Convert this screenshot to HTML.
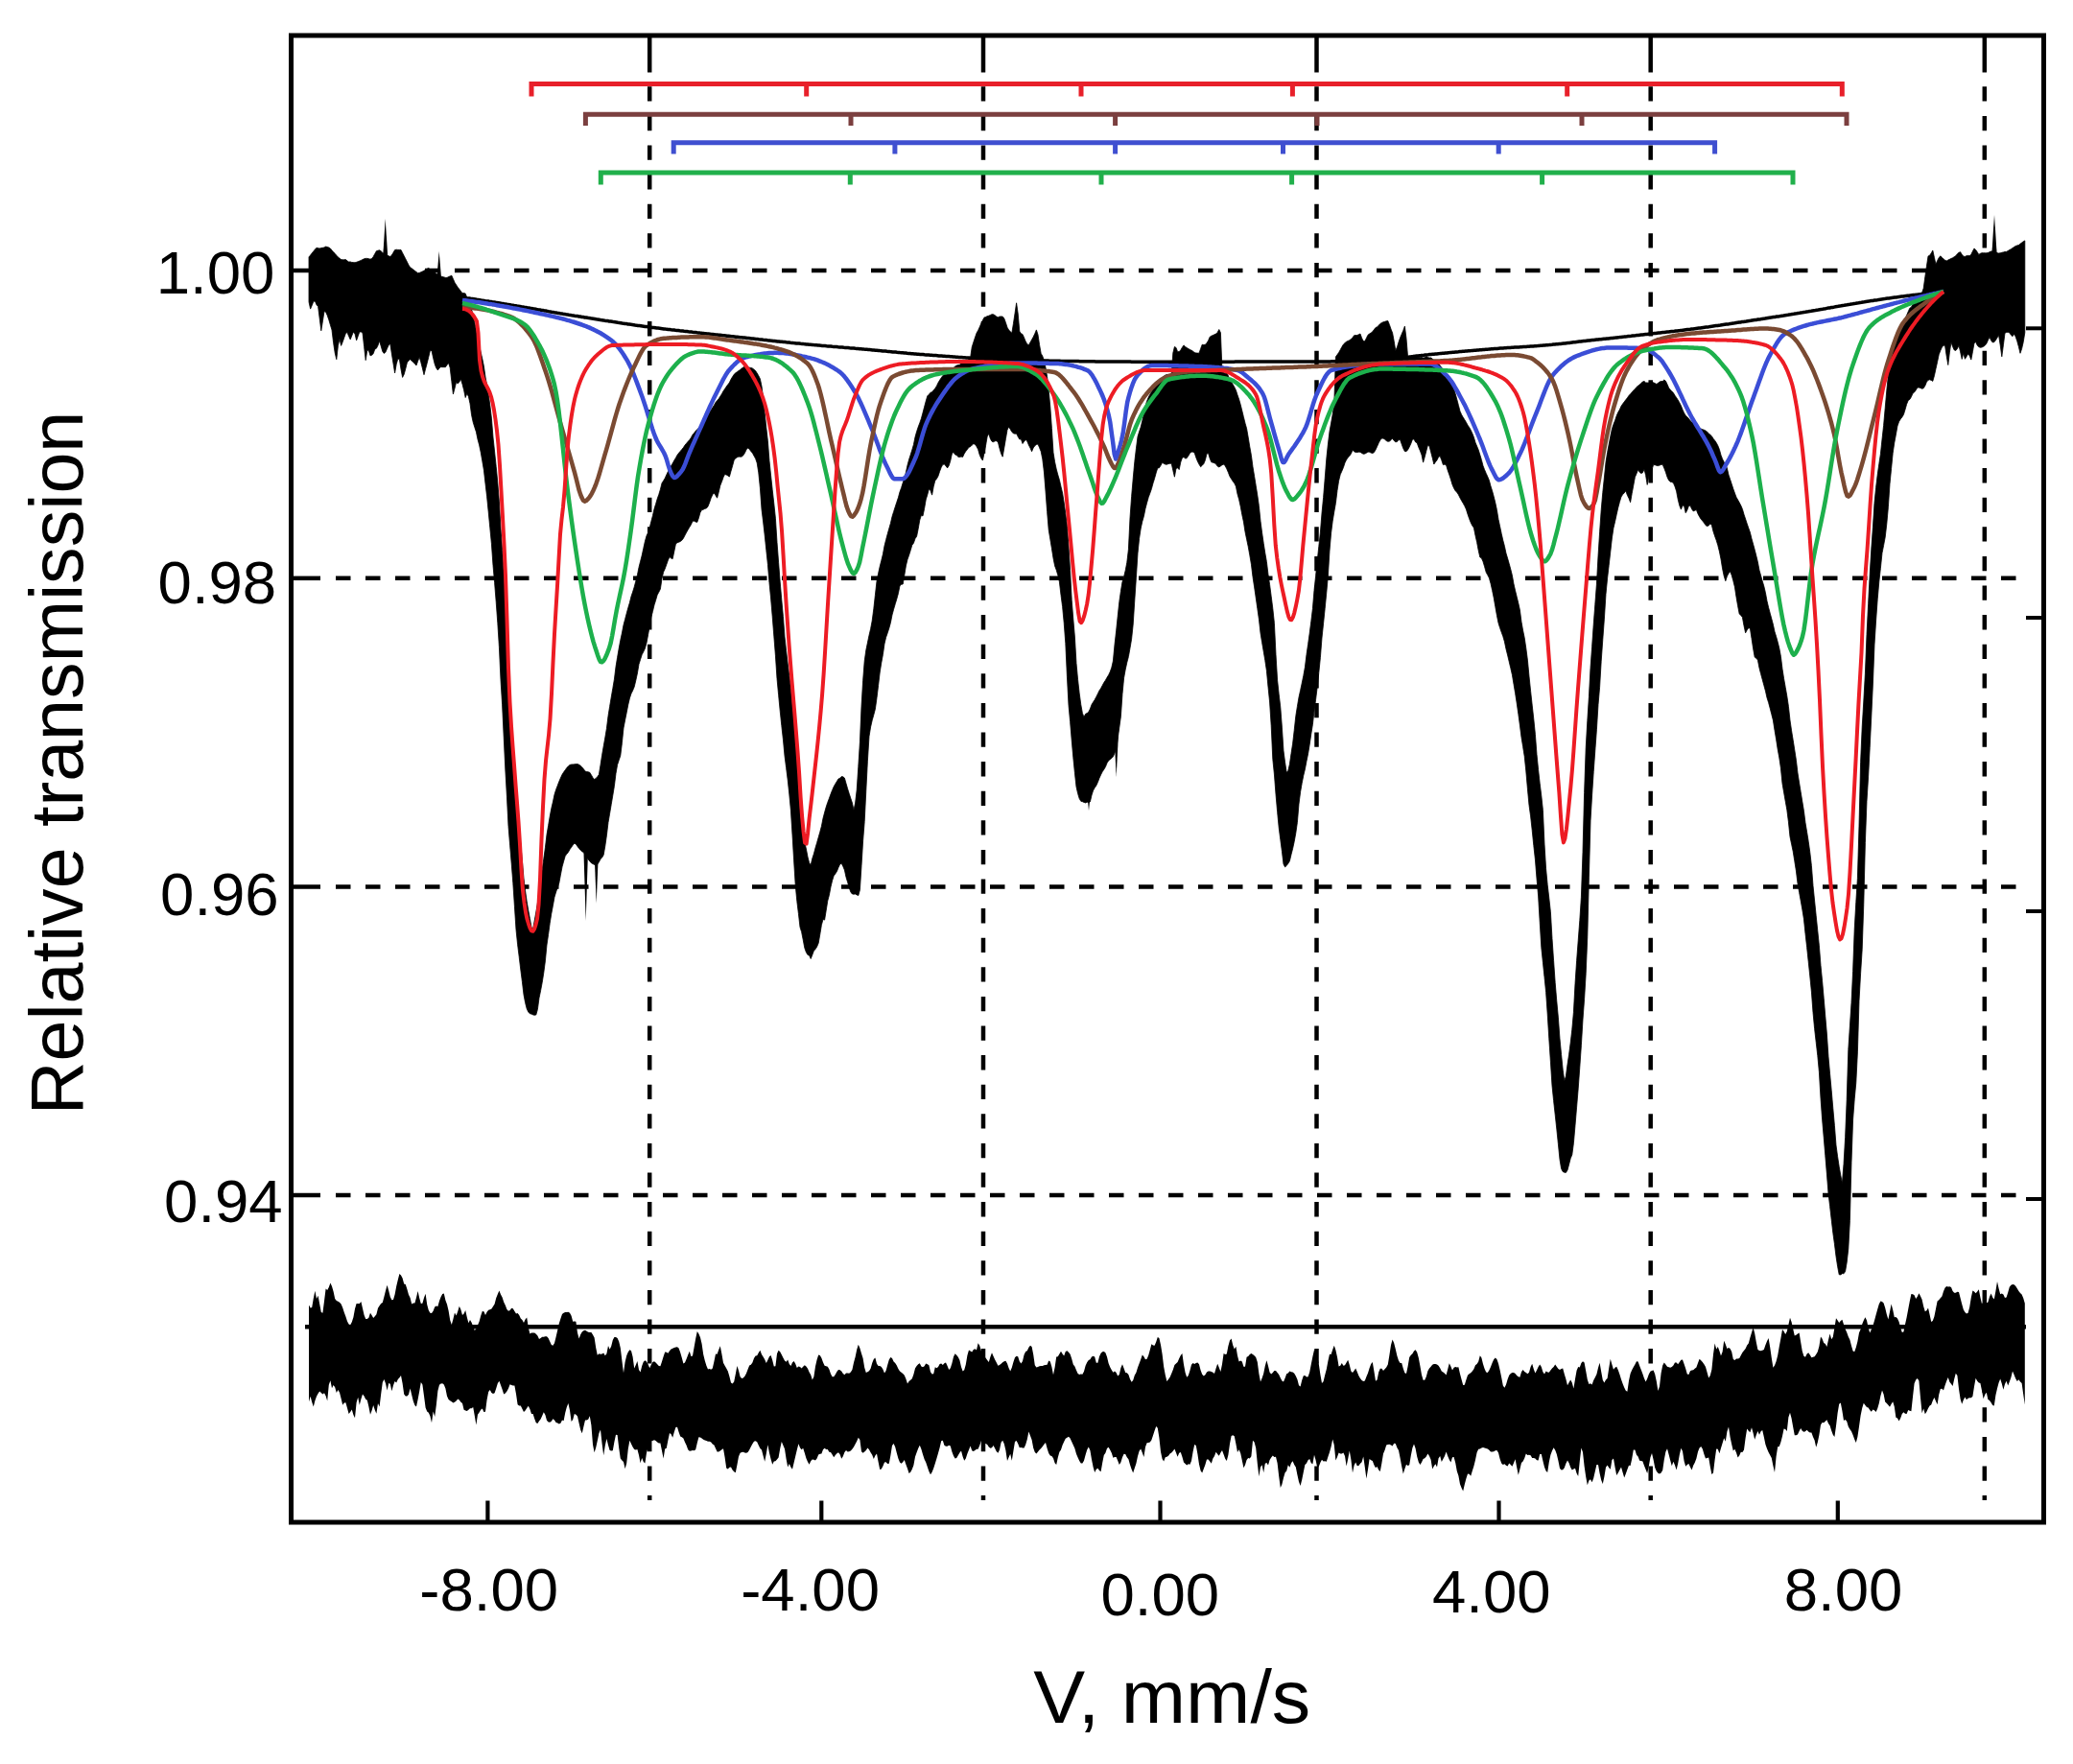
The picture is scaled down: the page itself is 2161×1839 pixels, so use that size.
<!DOCTYPE html><html><head><meta charset="utf-8"><title>Relative transmission vs V, mm/s</title><style>
html,body{margin:0;padding:0;background:#fff;}svg{display:block;}
.s4{stroke:#000;stroke-width:4.5;fill:none}
.dv{stroke:#000;stroke-width:4.5;stroke-dasharray:15.3 15.3;fill:none}
.dh{stroke:#000;stroke-width:4.6;stroke-dasharray:15.5 15.5;fill:none}
.cc{stroke-width:4.5;fill:none;stroke-linejoin:round}
.cr{stroke-width:4;fill:none;stroke-linejoin:round}
.cb{stroke-width:3.5;fill:none}
.st{stroke-width:5;fill:none}
.bd{stroke:#000;fill:none;stroke-linejoin:round;stroke-linecap:round}
text{font-family:"Liberation Sans",Arial,sans-serif;fill:#000}
</style></head><body>
<svg xmlns="http://www.w3.org/2000/svg" width="2161" height="1839" viewBox="0 0 2161 1839">
<rect width="2161" height="1839" fill="#fff"/>
<line x1="677.2" y1="37.0" x2="677.2" y2="75.5" class="s4"/>
<line x1="677.2" y1="90.3" x2="677.2" y2="1564" class="dv"/>
<line x1="1025.0" y1="37.0" x2="1025.0" y2="75.5" class="s4"/>
<line x1="1025.0" y1="90.3" x2="1025.0" y2="1564" class="dv"/>
<line x1="1372.5" y1="37.0" x2="1372.5" y2="75.5" class="s4"/>
<line x1="1372.5" y1="90.3" x2="1372.5" y2="1564" class="dv"/>
<line x1="1720.7" y1="37.0" x2="1720.7" y2="75.5" class="s4"/>
<line x1="1720.7" y1="90.3" x2="1720.7" y2="1564" class="dv"/>
<line x1="2068.8" y1="37.0" x2="2068.8" y2="75.5" class="s4"/>
<line x1="2068.8" y1="90.3" x2="2068.8" y2="1564" class="dv"/>
<line x1="303.5" y1="282.0" x2="334" y2="282.0" class="s4"/>
<line x1="350" y1="282.0" x2="2113" y2="282.0" class="dh"/>
<line x1="303.5" y1="602.8" x2="334" y2="602.8" class="s4"/>
<line x1="350" y1="602.8" x2="2113" y2="602.8" class="dh"/>
<line x1="303.5" y1="924.5" x2="334" y2="924.5" class="s4"/>
<line x1="350" y1="924.5" x2="2113" y2="924.5" class="dh"/>
<line x1="303.5" y1="1246.0" x2="334" y2="1246.0" class="s4"/>
<line x1="350" y1="1246.0" x2="2113" y2="1246.0" class="dh"/>
<path d="M322 1360.5L323.6 1363.5L325.2 1363L326.8 1353.5L328.4 1345.8L330 1354L331.6 1350.7L333.2 1359.6L334.8 1367.9L336.4 1368.7L338 1356.4L339.6 1343.4L341.2 1345.1L342.8 1342.1L344.4 1337.5L346 1340.9L347.6 1346.6L349.2 1354L350.8 1355.9L352.4 1356.7L354 1357.7L355.6 1359.4L357.2 1363.2L358.8 1368.2L360.4 1372.5L362 1377.5L363.6 1380.5L365.2 1381.3L366.8 1378.3L368.4 1373.2L370 1364.6L371.6 1359.1L373.2 1359L374.8 1359L376.4 1356.9L378 1364.1L379.6 1371L381.2 1374.9L382.8 1375.1L384.4 1373.8L386 1368.8L387.6 1371.2L389.2 1373.9L390.8 1372.3L392.4 1370.2L394 1363.8L395.6 1361.3L397.2 1359.1L398.8 1357.9L400.4 1352.1L402 1345.4L403.6 1339.7L405.2 1345.6L406.8 1351.9L408.4 1355.2L410 1355.1L411.6 1349.5L413.2 1341L414.8 1334.2L416.4 1328.1L418 1329.5L419.6 1332.5L421.2 1338.4L422.8 1338.9L424.4 1344.1L426 1349.7L427.6 1352.9L429.2 1359.5L430.8 1358.6L432.4 1358.4L434 1352.8L435.6 1345.9L437.2 1353.3L438.8 1359.1L440.4 1358.7L442 1353.1L443.6 1348.7L445.2 1360.1L446.8 1366L448.4 1368.7L450 1368.9L451.6 1366.8L453.2 1362.4L454.8 1361.4L456.4 1362L458 1356.3L459.6 1351.9L461.2 1349.1L462.8 1348.5L464.4 1355.6L466 1359.8L467.6 1366.5L469.2 1376.2L470.8 1381L472.4 1375.2L474 1368.4L475.6 1371.5L477.2 1367.2L478.8 1361.8L480.4 1365.2L482 1371.1L483.6 1369.5L485.2 1366L486.8 1373.3L488.4 1379.2L490 1376.1L491.6 1378.8L493.2 1382.7L494.8 1387L496.4 1385.2L498 1381.4L499.6 1377.8L501.2 1371.8L502.8 1366.9L504.4 1367.2L506 1370.9L507.6 1367.7L509.2 1365.8L510.8 1365.3L512.4 1364.6L514 1362L515.6 1359.6L517.2 1353.3L518.8 1349.2L520.4 1345.4L522 1349.4L523.6 1352.4L525.2 1357.5L526.8 1360.7L528.4 1364.9L530 1366.7L531.6 1366L533.2 1363.8L534.8 1364.3L536.4 1367.1L538 1369.5L539.6 1368.9L541.2 1371.1L542.8 1374.5L544.4 1376.1L546 1379.1L547.6 1375.6L549.2 1373.5L550.8 1384.1L552.4 1390.4L554 1389.5L555.6 1389.4L557.2 1389.6L558.8 1390.8L560.4 1392.4L562 1395.9L563.6 1395.1L565.2 1393.8L566.8 1393.8L568.4 1393.2L570 1393.3L571.6 1394.9L573.2 1398.6L574.8 1402L576.4 1402.7L578 1400.2L579.6 1393.7L581.2 1386.7L582.8 1379.8L584.4 1374.7L586 1370.1L587.6 1368.7L589.2 1368.1L590.8 1367.9L592.4 1367.7L594 1368.7L595.6 1371.8L597.2 1377.7L598.8 1377.6L600.4 1377.8L602 1389.4L603.6 1395.6L605.2 1391.3L606.8 1388.4L608.4 1387.2L610 1386.8L611.6 1387.7L613.2 1388.8L614.8 1389L616.4 1389L618 1391.4L619.6 1394.5L621.2 1405.1L622.8 1412.8L624.4 1411.2L626 1411.7L627.6 1411.5L629.2 1410.4L630.8 1413.2L632.4 1411.2L634 1403L635.6 1406.7L637.2 1403.6L638.8 1397L640.4 1393.9L642 1394.1L643.6 1395.1L645.2 1398.6L646.8 1405.2L648.4 1418.5L650 1431.2L651.6 1419.9L653.2 1413.3L654.8 1409.4L656.4 1407.2L658 1408.2L659.6 1414.4L661.2 1426.4L662.8 1422.9L664.4 1419L666 1427.9L667.6 1430.4L669.2 1423.9L670.8 1419.8L672.4 1418.3L674 1419.4L675.6 1422.3L677.2 1426.3L678.8 1422.8L680.4 1420L682 1419.3L683.6 1420.5L685.2 1422.3L686.8 1424L688.4 1424.2L690 1419.5L691.6 1414.2L693.2 1409.6L694.8 1409.7L696.4 1410.7L698 1408.2L699.6 1406.5L701.2 1405.8L702.8 1405.1L704.4 1404.6L706 1404.2L707.6 1405.5L709.2 1409.9L710.8 1415.6L712.4 1421.4L714 1420.5L715.6 1416.8L717.2 1412.6L718.8 1408.8L720.4 1414L722 1413.5L723.6 1404.5L725.2 1395.6L726.8 1388L728.4 1390.5L730 1394.2L731.6 1400.9L733.2 1412L734.8 1418.5L736.4 1423.8L738 1427.4L739.6 1427.1L741.2 1427.7L742.8 1426.4L744.4 1419.4L746 1411.6L747.6 1411.7L749.2 1407.3L750.8 1403.3L752.4 1411.4L754 1420.7L755.6 1423.8L757.2 1426.6L758.8 1429.6L760.4 1434.9L762 1441.4L763.6 1442.6L765.2 1440.4L766.8 1432.6L768.4 1424.1L770 1428.7L771.6 1435.3L773.2 1437L774.8 1436.5L776.4 1434.8L778 1431.8L779.6 1427.6L781.2 1423.4L782.8 1422.7L784.4 1420.4L786 1416L787.6 1413.4L789.2 1413.3L790.8 1410.2L792.4 1407.8L794 1412L795.6 1414.6L797.2 1417.2L798.8 1421.1L800.4 1417.8L802 1414.2L803.6 1413.1L805.2 1418.1L806.8 1424.4L808.4 1424.3L810 1411.2L811.6 1407.8L813.2 1409.3L814.8 1412.2L816.4 1415.4L818 1418.4L819.6 1419.7L821.2 1417.4L822.8 1422L824.4 1423.9L826 1420.4L827.6 1418.9L829.2 1421.7L830.8 1426L832.4 1424.5L834 1425.1L835.6 1426.4L837.2 1424.7L838.8 1423.3L840.4 1424.4L842 1426.8L843.6 1430.5L845.2 1433.3L846.8 1438.4L848.4 1435.2L850 1424.5L851.6 1417.5L853.2 1412.6L854.8 1412.9L856.4 1415.7L858 1420.2L859.6 1423.8L861.2 1424.2L862.8 1424.7L864.4 1427.4L866 1432.2L867.6 1435.3L869.2 1435.3L870.8 1433.1L872.4 1430.1L874 1428L875.6 1428.3L877.2 1429.4L878.8 1431.9L880.4 1433.2L882 1431.5L883.6 1431.4L885.2 1431.7L886.8 1430.4L888.4 1428.1L890 1420.5L891.6 1414.7L893.2 1407.1L894.8 1401.7L896.4 1405.6L898 1411.1L899.6 1416L901.2 1425.8L902.8 1431.1L904.4 1430.3L906 1429.2L907.6 1426.7L909.2 1421L910.8 1417L912.4 1415.6L914 1421.7L915.6 1424L917.2 1423.9L918.8 1425.1L920.4 1427.6L922 1431.5L923.6 1429.1L925.2 1423.1L926.8 1417.6L928.4 1415.1L930 1416.1L931.6 1419.5L933.2 1420.9L934.8 1423.4L936.4 1426.9L938 1429.4L939.6 1430.7L941.2 1432L942.8 1433.7L944.4 1437.6L946 1442.5L947.6 1440L949.2 1438.7L950.8 1437.3L952.4 1432.7L954 1426.6L955.6 1423.9L957.2 1422.2L958.8 1421.3L960.4 1424.6L962 1425.3L963.6 1424.2L965.2 1421.4L966.8 1422.3L968.4 1423.3L970 1430.3L971.6 1432.6L973.2 1432.2L974.8 1425.2L976.4 1426.3L978 1425L979.6 1421.9L981.2 1421.4L982.8 1423.1L984.4 1421.3L986 1420.4L987.6 1423.9L989.2 1427.9L990.8 1426.2L992.4 1421.2L994 1414.4L995.6 1411.3L997.2 1412.7L998.8 1414.7L1000.4 1418L1002 1425.1L1003.6 1429.4L1005.2 1428.3L1006.8 1422.5L1008.4 1413.1L1010 1407.5L1011.6 1408.4L1013.2 1409.6L1014.8 1406.9L1016.4 1406.2L1018 1407.5L1019.6 1400.3L1021.2 1402.8L1022.8 1408L1024.4 1413.9L1026 1414L1027.6 1415.7L1029.2 1417.9L1030.8 1420.1L1032.4 1414.4L1034 1410.3L1035.6 1413.9L1037.2 1417.6L1038.8 1420.5L1040.4 1423.8L1042 1422.9L1043.6 1421.7L1045.2 1420.3L1046.8 1419.2L1048.4 1418.8L1050 1421.5L1051.6 1426.2L1053.2 1429.4L1054.8 1425.8L1056.4 1420L1058 1415.3L1059.6 1413.7L1061.2 1414.3L1062.8 1419.3L1064.4 1421.4L1066 1418.9L1067.6 1412.3L1069.2 1409L1070.8 1408.2L1072.4 1404.7L1074 1402.8L1075.6 1403.9L1077.2 1412.1L1078.8 1423.3L1080.4 1425.5L1082 1425L1083.6 1424.2L1085.2 1424L1086.8 1423.9L1088.4 1423.3L1090 1423.1L1091.6 1422.8L1093.2 1418.5L1094.8 1419.6L1096.4 1424.9L1098 1433.3L1099.6 1425.5L1101.2 1414.4L1102.8 1414.3L1104.4 1411.6L1106 1408.7L1107.6 1411.4L1109.2 1413.4L1110.8 1409.1L1112.4 1408.2L1114 1409.8L1115.6 1411.7L1117.2 1416.5L1118.8 1422.5L1120.4 1424.6L1122 1428.5L1123.6 1432L1125.2 1433.1L1126.8 1432.4L1128.4 1432.7L1130 1429.8L1131.6 1423.8L1133.2 1420.2L1134.8 1417.9L1136.4 1417.2L1138 1414.6L1139.6 1413.7L1141.2 1414.5L1142.8 1420.7L1144.4 1420.7L1146 1414.3L1147.6 1410.8L1149.2 1409.3L1150.8 1409.1L1152.4 1410.2L1154 1414.4L1155.6 1421.3L1157.2 1425.2L1158.8 1428.2L1160.4 1430.8L1162 1429.6L1163.6 1430.9L1165.2 1434.5L1166.8 1433L1168.4 1425.9L1170 1422.2L1171.6 1426.6L1173.2 1430.9L1174.8 1431.2L1176.4 1433L1178 1437.8L1179.6 1440.7L1181.2 1439L1182.8 1433.8L1184.4 1431L1186 1425.8L1187.6 1421.6L1189.2 1417.3L1190.8 1412.5L1192.4 1414.3L1194 1417.2L1195.6 1416.7L1197.2 1413.1L1198.8 1407.3L1200.4 1401.3L1202 1402.5L1203.6 1402.8L1205.2 1399.1L1206.8 1394.1L1208.4 1395.1L1210 1402.1L1211.6 1411.7L1213.2 1425L1214.8 1433.4L1216.4 1440L1218 1438.1L1219.6 1435.7L1221.2 1431.9L1222.8 1428L1224.4 1422.9L1226 1421.4L1227.6 1419.9L1229.2 1416.2L1230.8 1413L1232.4 1411L1234 1422.6L1235.6 1431.1L1237.2 1435.7L1238.8 1434.1L1240.4 1428.9L1242 1422.7L1243.6 1420.9L1245.2 1422L1246.8 1421.1L1248.4 1420.4L1250 1422.3L1251.6 1428.4L1253.2 1432.8L1254.8 1434.5L1256.4 1433.2L1258 1430.4L1259.6 1429.5L1261.2 1429.4L1262.8 1430L1264.4 1430.8L1266 1432.1L1267.6 1426.6L1269.2 1421.7L1270.8 1425.8L1272.4 1429.9L1274 1422.3L1275.6 1411L1277.2 1412L1278.8 1411.6L1280.4 1403.3L1282 1397.5L1283.6 1395.5L1285.2 1402.3L1286.8 1406.4L1288.4 1403.7L1290 1413.2L1291.6 1419.6L1293.2 1418.6L1294.8 1419.4L1296.4 1424.7L1298 1424.7L1299.6 1414.7L1301.2 1414L1302.8 1411.9L1304.4 1411.1L1306 1411.9L1307.6 1413.3L1309.2 1415L1310.8 1420.1L1312.4 1431.9L1314 1440.6L1315.6 1436.7L1317.2 1431.9L1318.8 1424L1320.4 1418.2L1322 1424L1323.6 1430.8L1325.2 1432.5L1326.8 1431.1L1328.4 1429L1330 1428.9L1331.6 1431L1333.2 1433L1334.8 1436.4L1336.4 1439.4L1338 1440.4L1339.6 1436.7L1341.2 1432.2L1342.8 1431.6L1344.4 1429.5L1346 1430.3L1347.6 1430.5L1349.2 1431.7L1350.8 1434.4L1352.4 1438.1L1354 1444.3L1355.6 1445.6L1357.2 1439.1L1358.8 1434.3L1360.4 1434.1L1362 1435.5L1363.6 1435.3L1365.2 1430.6L1366.8 1422.3L1368.4 1414.3L1370 1407.2L1371.6 1408.7L1373.2 1413.2L1374.8 1422.1L1376.4 1432.9L1378 1441.9L1379.6 1440.2L1381.2 1433.6L1382.8 1427.6L1384.4 1419L1386 1411.8L1387.6 1412L1389.2 1407.1L1390.8 1402.8L1392.4 1407.6L1394 1414.7L1395.6 1424.4L1397.2 1423.8L1398.8 1420.9L1400.4 1423.7L1402 1423.2L1403.6 1420.6L1405.2 1417.8L1406.8 1422.9L1408.4 1429.4L1410 1431.1L1411.6 1428.9L1413.2 1426.5L1414.8 1430.3L1416.4 1434.2L1418 1437.1L1419.6 1439L1421.2 1440.1L1422.8 1439.6L1424.4 1435.3L1426 1431.4L1427.6 1426.3L1429.2 1422L1430.8 1419.9L1432.4 1429.5L1434 1439.8L1435.6 1438.5L1437.2 1430.6L1438.8 1426.8L1440.4 1426.7L1442 1429L1443.6 1427.3L1445.2 1425.6L1446.8 1422.5L1448.4 1412.7L1450 1402.3L1451.6 1396.6L1453.2 1400.2L1454.8 1406.4L1456.4 1413.5L1458 1418.6L1459.6 1421.1L1461.2 1421.1L1462.8 1426.7L1464.4 1431.3L1466 1432L1467.6 1424.4L1469.2 1414.9L1470.8 1412.8L1472.4 1411.3L1474 1408.4L1475.6 1407.2L1477.2 1409.7L1478.8 1415.4L1480.4 1424.1L1482 1433.2L1483.6 1438.7L1485.2 1438.7L1486.8 1435.3L1488.4 1429.3L1490 1426.4L1491.6 1424.7L1493.2 1422.8L1494.8 1421.9L1496.4 1421.9L1498 1422.6L1499.6 1423.8L1501.2 1426.3L1502.8 1429.5L1504.4 1430.4L1506 1431.8L1507.6 1433.5L1509.2 1427.5L1510.8 1421.2L1512.4 1424.4L1514 1428.5L1515.6 1425.8L1517.2 1425L1518.8 1425.6L1520.4 1425.3L1522 1432.2L1523.6 1438.2L1525.2 1444L1526.8 1443.8L1528.4 1438.6L1530 1433.8L1531.6 1432.2L1533.2 1431.2L1534.8 1429.4L1536.4 1427.2L1538 1423.3L1539.6 1422L1541.2 1419.5L1542.8 1413.3L1544.4 1415.5L1546 1422L1547.6 1427L1549.2 1430.4L1550.8 1430.9L1552.4 1428.5L1554 1425L1555.6 1420.8L1557.2 1417.2L1558.8 1415.5L1560.4 1416.9L1562 1421.6L1563.6 1428.3L1565.2 1436.1L1566.8 1444.6L1568.4 1446.7L1570 1443.4L1571.6 1437.9L1573.2 1433.7L1574.8 1432L1576.4 1430.9L1578 1431L1579.6 1432.1L1581.2 1434L1582.8 1435.3L1584.4 1435.7L1586 1430.3L1587.6 1428L1589.2 1430L1590.8 1431L1592.4 1432.2L1594 1430.7L1595.6 1425L1597.2 1421.7L1598.8 1427.2L1600.4 1431.4L1602 1428.4L1603.6 1425L1605.2 1422.6L1606.8 1425L1608.4 1430.2L1610 1432.5L1611.6 1429.6L1613.2 1430.5L1614.8 1430.8L1616.4 1428.4L1618 1426.4L1619.6 1425.1L1621.2 1422.5L1622.8 1424.7L1624.4 1427L1626 1428L1627.6 1427L1629.2 1426.6L1630.8 1432.5L1632.4 1437.8L1634 1444.3L1635.6 1441.2L1637.2 1438.6L1638.8 1441.4L1640.4 1447.5L1642 1437.7L1643.6 1428.8L1645.2 1425.1L1646.8 1425.5L1648.4 1421.1L1650 1419.3L1651.6 1420.5L1653.2 1429.2L1654.8 1438.3L1656.4 1443L1658 1442.2L1659.6 1443.4L1661.2 1438.9L1662.8 1436L1664.4 1432.8L1666 1426.1L1667.6 1420.8L1669.2 1430L1670.8 1438.8L1672.4 1441.4L1674 1438.5L1675.6 1436.9L1677.2 1426.4L1678.8 1416.7L1680.4 1422.6L1682 1427.8L1683.6 1425.8L1685.2 1424.8L1686.8 1428.3L1688.4 1432.8L1690 1437.9L1691.6 1442.5L1693.2 1446.5L1694.8 1449.8L1696.4 1450.8L1698 1439.4L1699.6 1432.1L1701.2 1428.3L1702.8 1425.2L1704.4 1422.5L1706 1419.2L1707.6 1419.4L1709.2 1424.1L1710.8 1428L1712.4 1432.2L1714 1437L1715.6 1440.6L1717.2 1437.2L1718.8 1432.7L1720.4 1429.8L1722 1429L1723.6 1428.5L1725.2 1432.4L1726.8 1440.1L1728.4 1449.9L1730 1445.3L1731.6 1431.4L1733.2 1423.4L1734.8 1420.4L1736.4 1422.6L1738 1424.7L1739.6 1425.3L1741.2 1425.7L1742.8 1425L1744.4 1423.6L1746 1420.6L1747.6 1420.5L1749.2 1422.2L1750.8 1419.9L1752.4 1417.8L1754 1417.5L1755.6 1422.1L1757.2 1426.8L1758.8 1432.6L1760.4 1433L1762 1429.3L1763.6 1428.5L1765.2 1428.3L1766.8 1426.8L1768.4 1425.4L1770 1421.1L1771.6 1416.8L1773.2 1418.2L1774.8 1420.1L1776.4 1422.2L1778 1424.9L1779.6 1430.7L1781.2 1436.4L1782.8 1434L1784.4 1427.7L1786 1411.9L1787.6 1400.6L1789.2 1406.6L1790.8 1404L1792.4 1408.3L1794 1413.4L1795.6 1409.2L1797.2 1397.7L1798.8 1401.6L1800.4 1405.9L1802 1405L1803.6 1406L1805.2 1409.3L1806.8 1416.9L1808.4 1418.1L1810 1416.5L1811.6 1416.5L1813.2 1416.1L1814.8 1413L1816.4 1410.1L1818 1408.1L1819.6 1406.1L1821.2 1402.4L1822.8 1400.4L1824.4 1394.5L1826 1389.2L1827.6 1384.1L1829.2 1390L1830.8 1399.2L1832.4 1407L1834 1408L1835.6 1408.3L1837.2 1407.7L1838.8 1406.9L1840.4 1402.2L1842 1398.3L1843.6 1394.9L1845.2 1404.5L1846.8 1415.8L1848.4 1425.7L1850 1423.5L1851.6 1419.2L1853.2 1413L1854.8 1403.8L1856.4 1395.2L1858 1386.1L1859.6 1388.1L1861.2 1390.9L1862.8 1388.1L1864.4 1381.1L1866 1373.8L1867.6 1378.3L1869.2 1385.5L1870.8 1392.5L1872.4 1391.8L1874 1390.6L1875.6 1389.5L1877.2 1399.2L1878.8 1408.8L1880.4 1413.8L1882 1414.7L1883.6 1411.5L1885.2 1410.3L1886.8 1412.4L1888.4 1415.2L1890 1414.7L1891.6 1414.3L1893.2 1412L1894.8 1409.3L1896.4 1403.4L1898 1393.4L1899.6 1395.8L1901.2 1400.1L1902.8 1400.9L1904.4 1404L1906 1396.7L1907.6 1390.4L1909.2 1396.2L1910.8 1393.7L1912.4 1384.3L1914 1374.2L1915.6 1376.4L1917.2 1379L1918.8 1377.1L1920.4 1375.8L1922 1380.8L1923.6 1385.4L1925.2 1389.1L1926.8 1393.4L1928.4 1396.7L1930 1403.1L1931.6 1408.4L1933.2 1409.2L1934.8 1404.8L1936.4 1398.4L1938 1389.6L1939.6 1385.7L1941.2 1380.4L1942.8 1376.4L1944.4 1373.3L1946 1376.5L1947.6 1384L1949.2 1389.6L1950.8 1386L1952.4 1382.1L1954 1376.8L1955.6 1370.8L1957.2 1364.9L1958.8 1359.5L1960.4 1356.6L1962 1356.9L1963.6 1358.5L1965.2 1363.6L1966.8 1370.2L1968.4 1375.5L1970 1367.7L1971.6 1359.6L1973.2 1365.6L1974.8 1373.3L1976.4 1373L1978 1374.6L1979.6 1378.1L1981.2 1384L1982.8 1388.9L1984.4 1388.6L1986 1380.7L1987.6 1373.4L1989.2 1365L1990.8 1356.6L1992.4 1349.1L1994 1349.2L1995.6 1350.3L1997.2 1354.1L1998.8 1351.8L2000.4 1348.3L2002 1351.3L2003.6 1354.8L2005.2 1362L2006.8 1367.3L2008.4 1366.3L2010 1363.4L2011.6 1370.5L2013.2 1378.1L2014.8 1376.9L2016.4 1372.5L2018 1364.4L2019.6 1356.6L2021.2 1355.2L2022.8 1353.3L2024.4 1351.5L2026 1346.3L2027.6 1342.5L2029.2 1341.1L2030.8 1341.5L2032.4 1341.2L2034 1341.9L2035.6 1346L2037.2 1347.7L2038.8 1347.7L2040.4 1346.8L2042 1346.9L2043.6 1353.3L2045.2 1359.6L2046.8 1365.2L2048.4 1367.9L2050 1369.5L2051.6 1368.7L2053.2 1362.7L2054.8 1352.8L2056.4 1345.4L2058 1346.6L2059.6 1348.2L2061.2 1346.6L2062.8 1344.3L2064.4 1352.6L2066 1359.2L2067.6 1357.2L2069.2 1356.6L2070.8 1358.4L2072.4 1357.5L2074 1352L2075.6 1348.4L2077.2 1352.6L2078.8 1354.4L2080.4 1346L2082 1336.1L2083.6 1343.3L2085.2 1349.2L2086.8 1348.4L2088.4 1349.6L2090 1352.9L2091.6 1352.6L2093.2 1347.6L2094.8 1341.8L2096.4 1339.8L2098 1339L2099.6 1339.3L2101.2 1340.8L2102.8 1343.2L2104.4 1346L2106 1348L2107.6 1349.4L2109.2 1353.2L2110.8 1358.8L2110.8 1464.5L2109.2 1453.4L2107.6 1442L2106 1440.4L2104.4 1438.3L2102.8 1440L2101.2 1437.2L2099.6 1433.3L2098 1429.6L2096.4 1436L2094.8 1440.6L2093.2 1444.5L2091.6 1439.7L2090 1442.9L2088.4 1448.7L2086.8 1442.5L2085.2 1437.5L2083.6 1441.4L2082 1447.4L2080.4 1454.5L2078.8 1465.6L2077.2 1464.9L2075.6 1462.3L2074 1460L2072.4 1459L2070.8 1451.7L2069.2 1453.9L2067.6 1458.2L2066 1449.8L2064.4 1442.1L2062.8 1441.5L2061.2 1439.7L2059.6 1436.8L2058 1445.4L2056.4 1455.7L2054.8 1457.2L2053.2 1457.3L2051.6 1457.8L2050 1459.2L2048.4 1456.4L2046.8 1459.6L2045.2 1463.7L2043.6 1458.4L2042 1448.1L2040.4 1434.1L2038.8 1431.8L2037.2 1437.7L2035.6 1445L2034 1442.7L2032.4 1440.7L2030.8 1436.1L2029.2 1439.8L2027.6 1444.3L2026 1449.6L2024.4 1447.7L2022.8 1448.1L2021.2 1454.1L2019.6 1464.2L2018 1460.7L2016.4 1456.9L2014.8 1460.3L2013.2 1464.4L2011.6 1465.4L2010 1468.2L2008.4 1471.8L2006.8 1474.3L2005.2 1468.6L2003.6 1473.2L2002 1457.2L2000.4 1439.6L1998.8 1437L1997.2 1438.6L1995.6 1442.2L1994 1456.3L1992.4 1471.2L1990.8 1470.8L1989.2 1469.9L1987.6 1474.1L1986 1473.8L1984.4 1472.2L1982.8 1474.1L1981.2 1478.5L1979.6 1481.5L1978 1478.4L1976.4 1477.7L1974.8 1466.5L1973.2 1461.2L1971.6 1463.8L1970 1466.7L1968.4 1464.8L1966.8 1463L1965.2 1461.5L1963.6 1453.4L1962 1449.6L1960.4 1455.2L1958.8 1462.9L1957.2 1468.6L1955.6 1471.9L1954 1470.2L1952.4 1469.6L1950.8 1471.7L1949.2 1470L1947.6 1467.4L1946 1466.9L1944.4 1464.9L1942.8 1462.8L1941.2 1468.1L1939.6 1475.8L1938 1487.2L1936.4 1497.9L1934.8 1504.1L1933.2 1500.4L1931.6 1495.9L1930 1492.3L1928.4 1490L1926.8 1487.3L1925.2 1481.8L1923.6 1480L1922 1481L1920.4 1470.7L1918.8 1462.6L1917.2 1463.7L1915.6 1473.3L1914 1486.7L1912.4 1498.1L1910.8 1495.8L1909.2 1491.6L1907.6 1486.2L1906 1484L1904.4 1480.2L1902.8 1481.8L1901.2 1483.3L1899.6 1483L1898 1485.5L1896.4 1496L1894.8 1503.8L1893.2 1508.8L1891.6 1501.5L1890 1498L1888.4 1493.5L1886.8 1493.4L1885.2 1492.4L1883.6 1490.7L1882 1492.3L1880.4 1492.7L1878.8 1491.7L1877.2 1489L1875.6 1492.1L1874 1495.4L1872.4 1496.3L1870.8 1496.3L1869.2 1487.7L1867.6 1478.8L1866 1472.8L1864.4 1477.5L1862.8 1492L1861.2 1490.1L1859.6 1489.6L1858 1497.3L1856.4 1503.6L1854.8 1508L1853.2 1508.3L1851.6 1518.5L1850 1535L1848.4 1528L1846.8 1520.1L1845.2 1517.1L1843.6 1514L1842 1510.3L1840.4 1505.8L1838.8 1498.1L1837.2 1491L1835.6 1492.3L1834 1495.7L1832.4 1492.1L1830.8 1496.1L1829.2 1500.7L1827.6 1494.1L1826 1488.3L1824.4 1493.3L1822.8 1491.7L1821.2 1489.5L1819.6 1499.3L1818 1511.5L1816.4 1514L1814.8 1513.7L1813.2 1517.6L1811.6 1519.6L1810 1514.6L1808.4 1510.7L1806.8 1512.5L1805.2 1505.7L1803.6 1498.2L1802 1487.5L1800.4 1492.4L1798.8 1502.8L1797.2 1499.3L1795.6 1504.4L1794 1509.8L1792.4 1515.2L1790.8 1510.8L1789.2 1510.5L1787.6 1521.9L1786 1535.4L1784.4 1536.9L1782.8 1529.1L1781.2 1519.6L1779.6 1520L1778 1520.5L1776.4 1515.9L1774.8 1510.6L1773.2 1508.1L1771.6 1509.6L1770 1513.6L1768.4 1520.5L1766.8 1524.8L1765.2 1527.7L1763.6 1532.6L1762 1529.5L1760.4 1526L1758.8 1527.1L1757.2 1528.8L1755.6 1523.2L1754 1513L1752.4 1509.8L1750.8 1516.8L1749.2 1525.8L1747.6 1532.5L1746 1527.6L1744.4 1523.8L1742.8 1528.2L1741.2 1522.6L1739.6 1516.2L1738 1510.3L1736.4 1513.6L1734.8 1521.8L1733.2 1532.7L1731.6 1535.6L1730 1536.6L1728.4 1535.8L1726.8 1533.7L1725.2 1530.1L1723.6 1521.7L1722 1515.1L1720.4 1519.5L1718.8 1528.8L1717.2 1535.9L1715.6 1532.1L1714 1527.9L1712.4 1523.6L1710.8 1523L1709.2 1522.7L1707.6 1518.4L1706 1516.8L1704.4 1511.4L1702.8 1511.5L1701.2 1520.9L1699.6 1528.1L1698 1527.8L1696.4 1531.9L1694.8 1536.6L1693.2 1540.6L1691.6 1534.9L1690 1529.5L1688.4 1532.5L1686.8 1535.6L1685.2 1537.9L1683.6 1529.8L1682 1520.6L1680.4 1522L1678.8 1531.8L1677.2 1530L1675.6 1527.4L1674 1529.7L1672.4 1539.6L1670.8 1546.9L1669.2 1542.9L1667.6 1536L1666 1527L1664.4 1527L1662.8 1534.1L1661.2 1541L1659.6 1545.3L1658 1542.3L1656.4 1543.4L1654.8 1548.2L1653.2 1539.6L1651.6 1528.5L1650 1514L1648.4 1509.6L1646.8 1523.2L1645.2 1539L1643.6 1535.9L1642 1530.7L1640.4 1531.5L1638.8 1532.5L1637.2 1529.7L1635.6 1525.3L1634 1522.5L1632.4 1525.8L1630.8 1530.3L1629.2 1532.2L1627.6 1532.5L1626 1530.8L1624.4 1522.7L1622.8 1516L1621.2 1511.7L1619.6 1509.2L1618 1512.4L1616.4 1516.8L1614.8 1524.2L1613.2 1535.1L1611.6 1533.6L1610 1529.5L1608.4 1523.1L1606.8 1515.9L1605.2 1516.1L1603.6 1522.5L1602 1522.3L1600.4 1520.4L1598.8 1520.1L1597.2 1519.9L1595.6 1517.2L1594 1516.8L1592.4 1517L1590.8 1515.6L1589.2 1520.2L1587.6 1523.6L1586 1525L1584.4 1531.8L1582.8 1537.7L1581.2 1529.7L1579.6 1521.2L1578 1525.2L1576.4 1528.7L1574.8 1527.1L1573.2 1525.5L1571.6 1528.5L1570 1527.8L1568.4 1526.2L1566.8 1527.1L1565.2 1525.5L1563.6 1521L1562 1514.4L1560.4 1512.1L1558.8 1512.2L1557.2 1513.3L1555.6 1513.4L1554 1513.4L1552.4 1511.7L1550.8 1510.4L1549.2 1510.1L1547.6 1509.5L1546 1509L1544.4 1509.6L1542.8 1510.6L1541.2 1510.8L1539.6 1514.2L1538 1522L1536.4 1528.6L1534.8 1533.4L1533.2 1538.7L1531.6 1536.8L1530 1536.6L1528.4 1541.6L1526.8 1547.6L1525.2 1554.4L1523.6 1551.3L1522 1547.2L1520.4 1538.4L1518.8 1533.8L1517.2 1524.9L1515.6 1519L1514 1519.3L1512.4 1524.4L1510.8 1521.8L1509.2 1518.1L1507.6 1513.6L1506 1518L1504.4 1520.9L1502.8 1523.9L1501.2 1518L1499.6 1520.3L1498 1529.4L1496.4 1526.3L1494.8 1528.6L1493.2 1531.6L1491.6 1521.8L1490 1518.1L1488.4 1515.6L1486.8 1518.6L1485.2 1520.3L1483.6 1521.1L1482 1524.4L1480.4 1527L1478.8 1524.2L1477.2 1518.6L1475.6 1510.1L1474 1505.5L1472.4 1509.4L1470.8 1517.4L1469.2 1527.3L1467.6 1528L1466 1526.8L1464.4 1531.3L1462.8 1536.6L1461.2 1528.7L1459.6 1520.1L1458 1511.9L1456.4 1509.3L1454.8 1505.1L1453.2 1504.7L1451.6 1507.6L1450 1506.6L1448.4 1505.7L1446.8 1505.9L1445.2 1506.6L1443.6 1511.8L1442 1515.6L1440.4 1525.2L1438.8 1533.9L1437.2 1532.4L1435.6 1528.9L1434 1530.2L1432.4 1527.3L1430.8 1522.9L1429.2 1522.3L1427.6 1521.1L1426 1532.1L1424.4 1541.5L1422.8 1529.4L1421.2 1518.6L1419.6 1524.2L1418 1525.8L1416.4 1528.1L1414.8 1528.2L1413.2 1524.5L1411.6 1527.8L1410 1535.6L1408.4 1521.7L1406.8 1512.5L1405.2 1521.1L1403.6 1528.5L1402 1518.1L1400.4 1514.4L1398.8 1515.5L1397.2 1515.6L1395.6 1514.5L1394 1519L1392.4 1522.4L1390.8 1506.6L1389.2 1500.6L1387.6 1508.2L1386 1514L1384.4 1518.8L1382.8 1523.8L1381.2 1523.2L1379.6 1523.5L1378 1521.7L1376.4 1524.8L1374.8 1528.9L1373.2 1530L1371.6 1522.3L1370 1516.7L1368.4 1526.3L1366.8 1525.2L1365.2 1520.9L1363.6 1522.3L1362 1525.6L1360.4 1527L1358.8 1534.7L1357.2 1542.8L1355.6 1548.9L1354 1544.8L1352.4 1537.6L1350.8 1529.6L1349.2 1527.1L1347.6 1523.2L1346 1525.2L1344.4 1529.7L1342.8 1527.2L1341.2 1533.5L1339.6 1535.3L1338 1540.8L1336.4 1547.6L1334.8 1551.1L1333.2 1539.1L1331.6 1525.3L1330 1518.8L1328.4 1519.1L1326.8 1517.4L1325.2 1519.4L1323.6 1521.9L1322 1527.5L1320.4 1525L1318.8 1525.8L1317.2 1535.2L1315.6 1527.3L1314 1529.4L1312.4 1539.3L1310.8 1525.7L1309.2 1509.5L1307.6 1503.5L1306 1501.8L1304.4 1518.2L1302.8 1520.4L1301.2 1520.1L1299.6 1522L1298 1527.2L1296.4 1530.3L1294.8 1522.4L1293.2 1515L1291.6 1511.3L1290 1514L1288.4 1505.2L1286.8 1497.2L1285.2 1496.2L1283.6 1497L1282 1505.3L1280.4 1516.7L1278.8 1522.9L1277.2 1520.8L1275.6 1516.3L1274 1512L1272.4 1514.5L1270.8 1517.8L1269.2 1516.1L1267.6 1513.8L1266 1518.1L1264.4 1520.6L1262.8 1525.7L1261.2 1523.5L1259.6 1521.5L1258 1521.4L1256.4 1527L1254.8 1531.3L1253.2 1535.6L1251.6 1533.2L1250 1526.6L1248.4 1515.7L1246.8 1507.1L1245.2 1505.9L1243.6 1513.4L1242 1523.1L1240.4 1526.7L1238.8 1526.3L1237.2 1527.5L1235.6 1526L1234 1524.4L1232.4 1518.7L1230.8 1514.1L1229.2 1514.7L1227.6 1518.8L1226 1514.4L1224.4 1510.6L1222.8 1512.8L1221.2 1514.4L1219.6 1515.5L1218 1517.7L1216.4 1518.7L1214.8 1519.2L1213.2 1523.6L1211.6 1521L1210 1513.5L1208.4 1498.7L1206.8 1488.7L1205.2 1487.1L1203.6 1491.5L1202 1496.4L1200.4 1501.3L1198.8 1503.6L1197.2 1504L1195.6 1504.2L1194 1508.4L1192.4 1519.1L1190.8 1514.4L1189.2 1510.4L1187.6 1512.7L1186 1518.2L1184.4 1525.7L1182.8 1530.5L1181.2 1535.6L1179.6 1531.7L1178 1527L1176.4 1521.3L1174.8 1519.2L1173.2 1516L1171.6 1515.7L1170 1519.3L1168.4 1524.4L1166.8 1526.9L1165.2 1522.8L1163.6 1518.9L1162 1519L1160.4 1519.7L1158.8 1514.8L1157.2 1511.4L1155.6 1508.8L1154 1510.1L1152.4 1514.8L1150.8 1516.9L1149.2 1524.9L1147.6 1534.2L1146 1533.1L1144.4 1530.8L1142.8 1531.7L1141.2 1534.9L1139.6 1529.4L1138 1521.4L1136.4 1511.9L1134.8 1508.4L1133.2 1511.6L1131.6 1516.8L1130 1522.8L1128.4 1525.4L1126.8 1525.5L1125.2 1523.1L1123.6 1519.6L1122 1515.8L1120.4 1509.9L1118.8 1506.5L1117.2 1502.9L1115.6 1499.6L1114 1497.7L1112.4 1498.7L1110.8 1499.8L1109.2 1503L1107.6 1506.5L1106 1511.5L1104.4 1513.8L1102.8 1519.5L1101.2 1527L1099.6 1525.2L1098 1520.3L1096.4 1518.1L1094.8 1517.4L1093.2 1515.1L1091.6 1509.9L1090 1504.1L1088.4 1505.7L1086.8 1508.1L1085.2 1510L1083.6 1511.5L1082 1513.5L1080.4 1515.4L1078.8 1514L1077.2 1509.4L1075.6 1500.9L1074 1496.7L1072.4 1492.5L1070.8 1500.6L1069.2 1506L1067.6 1509.4L1066 1509.5L1064.4 1509L1062.8 1509.3L1061.2 1504.9L1059.6 1501.9L1058 1503.1L1056.4 1512.7L1054.8 1522.7L1053.2 1515.7L1051.6 1519.2L1050 1523.1L1048.4 1511.9L1046.8 1505.3L1045.2 1501.8L1043.6 1503.7L1042 1511.4L1040.4 1514.7L1038.8 1513.3L1037.2 1510.1L1035.6 1507L1034 1509.3L1032.4 1509.8L1030.8 1508.4L1029.2 1506.1L1027.6 1505L1026 1505.2L1024.4 1501.7L1022.8 1502.3L1021.2 1506.9L1019.6 1510.8L1018 1510.7L1016.4 1512.1L1014.8 1513.1L1013.2 1512.2L1011.6 1507.6L1010 1511.5L1008.4 1515.4L1006.8 1520.6L1005.2 1522.8L1003.6 1518.4L1002 1512.6L1000.4 1514.4L998.8 1517.2L997.2 1520.1L995.6 1520.5L994 1517.8L992.4 1513.4L990.8 1507.5L989.2 1506.7L987.6 1507.7L986 1507.8L984.4 1506.7L982.8 1501.8L981.2 1502.2L979.6 1509.2L978 1514.9L976.4 1520.6L974.8 1525.7L973.2 1530.8L971.6 1534.8L970 1537.3L968.4 1534.1L966.8 1529.3L965.2 1524.6L963.6 1521.2L962 1516.2L960.4 1510.7L958.8 1506.8L957.2 1510.1L955.6 1514.2L954 1518.7L952.4 1527.5L950.8 1531.7L949.2 1534.8L947.6 1536L946 1531.1L944.4 1526.8L942.8 1522L941.2 1524.3L939.6 1525.8L938 1524.5L936.4 1520.6L934.8 1514.8L933.2 1508.5L931.6 1505L930 1507L928.4 1517.2L926.8 1525.7L925.2 1526.1L923.6 1524.3L922 1524.6L920.4 1528.4L918.8 1531.6L917.2 1532L915.6 1523.9L914 1515.6L912.4 1517.5L910.8 1520.9L909.2 1516.8L907.6 1514.3L906 1511.3L904.4 1509.5L902.8 1511.9L901.2 1513.5L899.6 1514.8L898 1513.3L896.4 1500.9L894.8 1498.8L893.2 1502.5L891.6 1505.4L890 1508.4L888.4 1510.7L886.8 1512.6L885.2 1513.3L883.6 1513.6L882 1512.1L880.4 1514L878.8 1518.2L877.2 1520.8L875.6 1516.3L874 1514.3L872.4 1515.2L870.8 1517L869.2 1519.3L867.6 1516.5L866 1514L864.4 1513.7L862.8 1511L861.2 1511.1L859.6 1509.8L858 1511.3L856.4 1515.6L854.8 1515.8L853.2 1516.6L851.6 1520.5L850 1522.6L848.4 1521.7L846.8 1521.6L845.2 1523.3L843.6 1526.7L842 1524L840.4 1520.3L838.8 1514.8L837.2 1509.7L835.6 1511.2L834 1509.2L832.4 1505.2L830.8 1511.5L829.2 1518.3L827.6 1525L826 1531.7L824.4 1529.5L822.8 1526.1L821.2 1529.4L819.6 1521L818 1510.5L816.4 1506.8L814.8 1503.1L813.2 1510.3L811.6 1519.6L810 1521.6L808.4 1523.2L806.8 1523.5L805.2 1526.7L803.6 1521.3L802 1514.7L800.4 1506.3L798.8 1515.5L797.2 1523.7L795.6 1517.7L794 1511.4L792.4 1510L790.8 1506.8L789.2 1503.3L787.6 1502.3L786 1502.7L784.4 1505.3L782.8 1508.2L781.2 1511.4L779.6 1514.1L778 1514.7L776.4 1514.6L774.8 1513.8L773.2 1514.1L771.6 1514.8L770 1518.6L768.4 1527.3L766.8 1535.3L765.2 1534.3L763.6 1532.4L762 1529.6L760.4 1529.8L758.8 1531.5L757.2 1530.6L755.6 1519.3L754 1510.2L752.4 1511.3L750.8 1512.6L749.2 1513.6L747.6 1513.4L746 1509.9L744.4 1506.5L742.8 1505.4L741.2 1503.4L739.6 1502.8L738 1502.7L736.4 1502L734.8 1501.6L733.2 1500.7L731.6 1499.5L730 1498.4L728.4 1498.2L726.8 1504.3L725.2 1511.2L723.6 1512.3L722 1511.9L720.4 1512.4L718.8 1512.7L717.2 1511.2L715.6 1506.8L714 1503.5L712.4 1499.6L710.8 1498.3L709.2 1497.5L707.6 1493.1L706 1487.7L704.4 1488L702.8 1493.1L701.2 1498.8L699.6 1495.3L698 1493.9L696.4 1501.6L694.8 1509.8L693.2 1510.4L691.6 1520.4L690 1512.4L688.4 1504.6L686.8 1504.6L685.2 1503.5L683.6 1502.1L682 1501.3L680.4 1502L678.8 1502.3L677.2 1502.7L675.6 1509.1L674 1514.8L672.4 1525.5L670.8 1523.9L669.2 1519.9L667.6 1525.3L666 1516.9L664.4 1511L662.8 1511.5L661.2 1510.9L659.6 1508.6L658 1505.2L656.4 1501.7L654.8 1510.4L653.2 1525.4L651.6 1531.2L650 1524.1L648.4 1522.5L646.8 1520.4L645.2 1509.4L643.6 1496L642 1495.8L640.4 1503.3L638.8 1512.3L637.2 1512.5L635.6 1511.9L634 1506.6L632.4 1500L630.8 1506.9L629.2 1517.2L627.6 1505L626 1490.4L624.4 1494.2L622.8 1502.1L621.2 1509.3L619.6 1514.2L618 1505.9L616.4 1485.8L614.8 1476.3L613.2 1479.8L611.6 1480.4L610 1480.5L608.4 1487.3L606.8 1494.2L605.2 1490.8L603.6 1483.8L602 1476.5L600.4 1474.7L598.8 1474.1L597.2 1480L595.6 1482L594 1470.3L592.4 1463L590.8 1467L589.2 1473L587.6 1481.3L586 1480.6L584.4 1483.8L582.8 1484.4L581.2 1483.6L579.6 1483L578 1480.4L576.4 1479.3L574.8 1481.7L573.2 1482.7L571.6 1482.6L570 1480.8L568.4 1475.1L566.8 1472.3L565.2 1475.9L563.6 1479.6L562 1481.5L560.4 1484.1L558.8 1483.3L557.2 1479L555.6 1474L554 1474.1L552.4 1468.9L550.8 1465.7L549.2 1468L547.6 1470.6L546 1471.9L544.4 1468.8L542.8 1465.4L541.2 1465.6L539.6 1464.3L538 1453.2L536.4 1444.6L534.8 1444.6L533.2 1443.9L531.6 1443.3L530 1447.5L528.4 1450.5L526.8 1452.6L525.2 1453.6L523.6 1448.4L522 1444L520.4 1439.7L518.8 1442.3L517.2 1447.4L515.6 1452.2L514 1453.1L512.4 1452L510.8 1449L509.2 1451.1L507.6 1459.3L506 1471.7L504.4 1472L502.8 1468.6L501.2 1469.8L499.6 1472.4L498 1474.8L496.4 1485.6L494.8 1476.1L493.2 1466.9L491.6 1468.3L490 1468.3L488.4 1469.8L486.8 1470.9L485.2 1470.6L483.6 1469.7L482 1463L480.4 1461.8L478.8 1459.6L477.2 1458.6L475.6 1460.5L474 1461.7L472.4 1462.4L470.8 1461.2L469.2 1460.3L467.6 1458.9L466 1455.4L464.4 1447.4L462.8 1443.4L461.2 1442.2L459.6 1442.6L458 1443.7L456.4 1450.1L454.8 1465.1L453.2 1477L451.6 1471.6L450 1483.3L448.4 1476.3L446.8 1472.8L445.2 1471.5L443.6 1467.4L442 1455.3L440.4 1443.4L438.8 1441L437.2 1450.5L435.6 1458.9L434 1466.5L432.4 1465.1L430.8 1460.8L429.2 1454.3L427.6 1447.6L426 1453.8L424.4 1455.6L422.8 1455.5L421.2 1453.5L419.6 1442.3L418 1433.9L416.4 1436.2L414.8 1437.9L413.2 1441.6L411.6 1440.1L410 1444.3L408.4 1450.3L406.8 1442.7L405.2 1441.9L403.6 1449.4L402 1442.3L400.4 1437.9L398.8 1441.3L397.2 1453.2L395.6 1466.5L394 1463.1L392.4 1473.8L390.8 1470.1L389.2 1465.1L387.6 1470.5L386 1474.7L384.4 1466.5L382.8 1459.8L381.2 1458.8L379.6 1455.4L378 1453.6L376.4 1458.6L374.8 1464.7L373.2 1456.7L371.6 1462.2L370 1478.3L368.4 1475L366.8 1469.6L365.2 1472L363.6 1474L362 1468.1L360.4 1462.3L358.8 1462.6L357.2 1464.7L355.6 1458.1L354 1451.7L352.4 1449.1L350.8 1452.1L349.2 1446.2L347.6 1444.1L346 1447.2L344.4 1439.3L342.8 1443.7L341.2 1460.5L339.6 1455.3L338 1452.3L336.4 1453.5L334.8 1451.9L333.2 1450.4L331.6 1452.8L330 1455.7L328.4 1460.2L326.8 1466.6L325.2 1461.8L323.6 1455.8L322 1461.6Z" fill="#000"/>
<line x1="318" y1="1383.2" x2="2112" y2="1383.2" stroke="#000" stroke-width="4.5"/>
<path d="M322 267.9L323.6 266L325.2 263.9L326.8 261.9L328.4 260L330 258.3L331.6 258.7L333.2 259L334.8 258.6L336.4 258.3L338 258L339.6 257.1L341.2 257.5L342.8 258L344.4 259L346 261.1L347.6 262.7L349.2 264.4L350.8 266.3L352.4 268.1L354 269.3L355.6 270.6L357.2 270.8L358.8 270.8L360.4 270.6L362 272L363.6 273L365.2 272.9L366.8 273.5L368.4 273.6L370 273.8L371.6 273.3L373.2 272.7L374.8 272.1L376.4 271.4L378 270.6L379.6 269.8L381.2 269.4L382.8 269.4L384.4 269.7L386 270.2L387.6 269.5L389.2 267.5L390.8 264.5L392.4 261.7L394 261.2L395.6 260.8L397.2 261.8L398.8 263.4L400.4 264.6L402 266L403.6 266.4L405.2 266.8L406.8 267.5L408.4 266L410 263.3L411.6 260.6L413.2 260.2L414.8 260.4L416.4 260.4L418 260.5L419.6 263.7L421.2 266.8L422.8 269.9L424.4 273.1L426 276.3L427.6 278.7L429.2 279.8L430.8 281.1L432.4 282.3L434 283.5L435.6 284.7L437.2 284.4L438.8 283.7L440.4 283L442 282.2L443.6 281.2L445.2 280.2L446.8 279.5L448.4 280.8L450 282L451.6 282.7L453.2 283.8L454.8 285.2L456.4 286.4L458 287.5L459.6 288.2L461.2 288.4L462.8 288.9L464.4 289.4L466 289.4L467.6 288.6L469.2 287.9L470.8 287.2L472.4 290.8L474 294.5L475.6 297L477.2 299.4L478.8 301.4L480.4 303.6L482 305.7L483.6 305.6L485.2 306.1L486.8 310.3L488.4 314.7L490 321.2L491.6 322.8L493.2 328.6L494.8 336.2L496.4 344.2L498 353.8L499.6 360.6L501.2 367L502.8 374.1L504.4 381.8L506 393L507.6 401.5L509.2 411.1L510.8 422.3L512.4 436.1L514 456L515.6 471L517.2 486.4L518.8 503.1L520.4 522.9L522 551.3L523.6 573.6L525.2 597.6L526.8 622.4L528.4 650.5L530 697.4L531.6 727.7L533.2 752.9L534.8 775.1L536.4 794.7L538 820.5L539.6 842.1L541.2 862.9L542.8 881.2L544.4 897.2L546 915.9L547.6 928.7L549.2 939.9L550.8 949.3L552.4 957.7L554 966.5L555.6 968.7L557.2 959.7L558.8 951L560.4 941.5L562 928.1L563.6 917.5L565.2 906.4L566.8 895.2L568.4 883.8L570 870.1L571.6 860.7L573.2 851.2L574.8 842.7L576.4 836L578 828.3L579.6 823.2L581.2 819.1L582.8 814.8L584.4 811L586 807.5L587.6 805L589.2 802.8L590.8 800.5L592.4 798.8L594 797.4L595.6 797L597.2 796.9L598.8 796.8L600.4 796.6L602 796.6L603.6 797.2L605.2 798.3L606.8 799.9L608.4 801.7L610 804.1L611.6 804.5L613.2 804.8L614.8 805.3L616.4 807.9L618 810.7L619.6 812.6L621.2 811.4L622.8 809.7L624.4 807.4L626 797.4L627.6 787.2L629.2 777.9L630.8 769L632.4 759.4L634 746.4L635.6 736.6L637.2 727L638.8 717.7L640.4 708.2L642 695.1L643.6 685.3L645.2 676L646.8 667.3L648.4 660L650 651.5L651.6 645.6L653.2 639.4L654.8 633.6L656.4 628.3L658 621.7L659.6 617.1L661.2 611.9L662.8 605.8L664.4 599.6L666 591.4L667.6 585.2L669.2 579L670.8 571.5L672.4 564.3L674 558.6L675.6 555.3L677.2 550.2L678.8 543.7L680.4 537.7L682 530.5L683.6 525.4L685.2 520L686.8 515.5L688.4 510.2L690 503.7L691.6 501.2L693.2 498.6L694.8 494.9L696.4 491.6L698 487.8L699.6 485.6L701.2 483.1L702.8 480.1L704.4 477.4L706 474.4L707.6 472.3L709.2 470.4L710.8 468.5L712.4 466.6L714 464.1L715.6 462.2L717.2 460.3L718.8 458.6L720.4 456.3L722 453.2L723.6 451.4L725.2 449.2L726.8 447.7L728.4 446.2L730 443.9L731.6 442.2L733.2 440L734.8 437.9L736.4 435.7L738 432.7L739.6 430.2L741.2 427.6L742.8 424.9L744.4 422.4L746 419.5L747.6 417.6L749.2 415.8L750.8 413.2L752.4 410.8L754 407.8L755.6 405.4L757.2 403.1L758.8 400.9L760.4 398.8L762 395.4L763.6 392.8L765.2 390.3L766.8 388.8L768.4 387.7L770 386.5L771.6 385.4L773.2 384.1L774.8 382.9L776.4 382.2L778 382.5L779.6 382.8L781.2 383.2L782.8 383.4L784.4 383.9L786 385.2L787.6 386.6L789.2 389L790.8 391.8L792.4 395L794 402.6L795.6 414.7L797.2 430.3L798.8 445.7L800.4 459.8L802 480.5L803.6 495.9L805.2 510.7L806.8 525L808.4 540.2L810 565.3L811.6 586.3L813.2 606.8L814.8 625.2L816.4 642.5L818 663.9L819.6 678.5L821.2 691.9L822.8 704.7L824.4 717.5L826 734.8L827.6 747.6L829.2 763.5L830.8 782.8L832.4 812.3L834 844.3L835.6 859.7L837.2 869.8L838.8 878L840.4 885L842 893.3L843.6 899.6L845.2 901.8L846.8 894.9L848.4 890.1L850 883.9L851.6 878.5L853.2 872.9L854.8 867.3L856.4 861.3L858 853.1L859.6 847L861.2 841.3L862.8 836.4L864.4 832.3L866 827.8L867.6 823.7L869.2 820.1L870.8 817.2L872.4 814.6L874 812L875.6 811.3L877.2 809.6L878.8 809.8L880.4 811.1L882 816.7L883.6 822.3L885.2 827.3L886.8 832.2L888.4 837L890 844.5L891.6 837.1L893.2 823.4L894.8 799.3L896.4 773.8L898 736.8L899.6 709.8L901.2 689.2L902.8 677.8L904.4 670.1L906 662.3L907.6 655.6L909.2 647.1L910.8 634.8L912.4 620.3L914 605.9L915.6 597.8L917.2 590.6L918.8 584.3L920.4 577.8L922 569.1L923.6 562.7L925.2 556.7L926.8 551L928.4 545.5L930 538.5L931.6 533.4L933.2 528.4L934.8 523.5L936.4 518.8L938 512.8L939.6 508.5L941.2 503.3L942.8 498.1L944.4 492.3L946 484.9L947.6 479L949.2 474.1L950.8 469L952.4 463.5L954 455.5L955.6 449.9L957.2 445.1L958.8 440.9L960.4 436.3L962 430.3L963.6 424.2L965.2 418.2L966.8 412.8L968.4 411.2L970 409.2L971.6 408.7L973.2 406.8L974.8 404.9L976.4 402.4L978 399L979.6 396.3L981.2 393.9L982.8 391.7L984.4 389.9L986 387.8L987.6 386.6L989.2 385.8L990.8 385.2L992.4 384.9L994 383.5L995.6 382L997.2 381L998.8 380.5L1000.4 380.2L1002 378.6L1003.6 377.7L1005.2 377.1L1006.8 376.5L1008.4 375.7L1010 374.3L1011.6 373.1L1013.2 361.9L1014.8 356.8L1016.4 352L1018 347.3L1019.6 344.4L1021.2 341L1022.8 337.2L1024.4 333.9L1026 331L1027.6 330.5L1029.2 329.6L1030.8 329.2L1032.4 328.4L1034 327.7L1035.6 327.8L1037.2 328.7L1038.8 330.1L1040.4 330.8L1042 330L1043.6 329.9L1045.2 330L1046.8 332L1048.4 336.3L1050 341.3L1051.6 344L1053.2 345.6L1054.8 347.3L1056.4 337.5L1058 326.8L1059.6 315.8L1061.2 327L1062.8 345.3L1064.4 347.8L1066 348.5L1067.6 352.1L1069.2 356L1070.8 358.7L1072.4 359.7L1074 356.9L1075.6 354.1L1077.2 351.2L1078.8 347.8L1080.4 343.9L1082 348.9L1083.6 359.5L1085.2 368.5L1086.8 371.3L1088.4 375.8L1090 383.2L1091.6 392.7L1093.2 407L1094.8 424L1096.4 446.6L1098 471.8L1099.6 481.6L1101.2 489L1102.8 495L1104.4 500.3L1106 507.3L1107.6 514L1109.2 524L1110.8 535.4L1112.4 548.2L1114 570L1115.6 594.6L1117.2 625.6L1118.8 645.4L1120.4 664L1122 691.5L1123.6 708.7L1125.2 722.9L1126.8 734.7L1128.4 743.5L1130 747.5L1131.6 744.3L1133.2 743.5L1134.8 742.2L1136.4 739L1138 734.6L1139.6 731.9L1141.2 729.5L1142.8 726.4L1144.4 723.3L1146 719.9L1147.6 717.6L1149.2 714.6L1150.8 711.6L1152.4 709.2L1154 706.3L1155.6 703.8L1157.2 700.4L1158.8 696L1160.4 689L1162 672L1163.6 657.9L1165.2 642.5L1166.8 627.4L1168.4 616.3L1170 606.6L1171.6 601.2L1173.2 594.7L1174.8 586.3L1176.4 572.8L1178 539.9L1179.6 517.7L1181.2 499L1182.8 481.4L1184.4 467.8L1186 455.2L1187.6 450L1189.2 445.2L1190.8 438.6L1192.4 431.8L1194 423.4L1195.6 418.2L1197.2 414.2L1198.8 411.2L1200.4 408.4L1202 405.4L1203.6 404.2L1205.2 401.9L1206.8 399.6L1208.4 397.5L1210 395.3L1211.6 393.7L1213.2 392.2L1214.8 391.1L1216.4 390.6L1218 390.3L1219.6 390.7L1221.2 390.5L1222.8 368.1L1224.4 361.5L1226 362.4L1227.6 366.7L1229.2 366.6L1230.8 364.9L1232.4 362.2L1234 359.9L1235.6 361.4L1237.2 362.6L1238.8 363.5L1240.4 364.4L1242 365.2L1243.6 366.2L1245.2 367.5L1246.8 368L1248.4 368.1L1250 368.2L1251.6 363.6L1253.2 359.2L1254.8 359.5L1256.4 359.3L1258 357.6L1259.6 355.1L1261.2 351.2L1262.8 350.2L1264.4 349.5L1266 348.8L1267.6 348.1L1269.2 346.5L1270.8 343.5L1272.4 346.8L1274 386.2L1275.6 388L1277.2 389.5L1278.8 388.5L1280.4 391.8L1282 396.2L1283.6 398.3L1285.2 400.7L1286.8 403.6L1288.4 406.8L1290 411.7L1291.6 416.3L1293.2 421.8L1294.8 428.2L1296.4 434.7L1298 441.2L1299.6 446.8L1301.2 456L1302.8 465.8L1304.4 474.6L1306 486.7L1307.6 496.3L1309.2 506.2L1310.8 516.2L1312.4 527.5L1314 543.2L1315.6 555.3L1317.2 566.3L1318.8 576.5L1320.4 585.7L1322 598.9L1323.6 609.5L1325.2 621.7L1326.8 634.3L1328.4 649.4L1330 682.2L1331.6 709.1L1333.2 723.7L1334.8 737.2L1336.4 758.1L1338 782.8L1339.6 794.8L1341.2 805.3L1342.8 803.5L1344.4 796.7L1346 785.6L1347.6 775.2L1349.2 761.4L1350.8 746.5L1352.4 736.4L1354 726.9L1355.6 719.7L1357.2 712.2L1358.8 704.4L1360.4 695.6L1362 682.4L1363.6 671.6L1365.2 660.1L1366.8 647.7L1368.4 634.5L1370 615.3L1371.6 600.3L1373.2 584.8L1374.8 569.7L1376.4 555L1378 534.9L1379.6 518.5L1381.2 498.7L1382.8 478.2L1384.4 463.1L1386 449.7L1387.6 441.1L1389.2 431.9L1390.8 421L1392.4 372.1L1394 369.8L1395.6 367.6L1397.2 364.7L1398.8 361.7L1400.4 359.1L1402 357.5L1403.6 356.2L1405.2 355.4L1406.8 354.7L1408.4 353.5L1410 351.9L1411.6 349.7L1413.2 349.5L1414.8 349.5L1416.4 348.7L1418 348L1419.6 352.4L1421.2 355.6L1422.8 355.7L1424.4 352.5L1426 349.2L1427.6 348L1429.2 347L1430.8 345.8L1432.4 343.6L1434 341.5L1435.6 340.9L1437.2 339.2L1438.8 337.5L1440.4 336.4L1442 335.8L1443.6 335.3L1445.2 334.8L1446.8 334.5L1448.4 338.4L1450 343.1L1451.6 347.1L1453.2 355.5L1454.8 365.5L1456.4 361.9L1458 356.7L1459.6 352.1L1461.2 348.3L1462.8 344.5L1464.4 340.1L1466 353L1467.6 372.4L1469.2 371.8L1470.8 371.1L1472.4 370.6L1474 370.3L1475.6 371.1L1477.2 371.9L1478.8 372.5L1480.4 372.4L1482 372.5L1483.6 373L1485.2 372.8L1486.8 371.6L1488.4 372.4L1490 373.1L1491.6 372.9L1493.2 374.1L1494.8 375.5L1496.4 376.3L1498 377.6L1499.6 379.1L1501.2 381.1L1502.8 383.3L1504.4 385.4L1506 388.3L1507.6 390.8L1509.2 393.5L1510.8 396.5L1512.4 398.8L1514 402.5L1515.6 405.4L1517.2 410.5L1518.8 416.4L1520.4 422.5L1522 428.7L1523.6 432.3L1525.2 435.1L1526.8 437.6L1528.4 440.2L1530 443.2L1531.6 445.5L1533.2 448.3L1534.8 451.8L1536.4 455.8L1538 461.3L1539.6 465.1L1541.2 469L1542.8 474.1L1544.4 479.4L1546 485.6L1547.6 489.7L1549.2 493.4L1550.8 497L1552.4 500.8L1554 506.8L1555.6 511.8L1557.2 517.6L1558.8 524.1L1560.4 531.5L1562 541.4L1563.6 548.7L1565.2 556.3L1566.8 563.3L1568.4 569.3L1570 576.8L1571.6 582.1L1573.2 587.6L1574.8 593.5L1576.4 599.8L1578 608.8L1579.6 615.8L1581.2 622.2L1582.8 628.8L1584.4 635.9L1586 648.3L1587.6 657.2L1589.2 664.9L1590.8 675.7L1592.4 688.1L1594 705.1L1595.6 720.4L1597.2 735.1L1598.8 749.5L1600.4 765.3L1602 786.5L1603.6 802.4L1605.2 816.7L1606.8 829.5L1608.4 844.5L1610 880.1L1611.6 905.8L1613.2 922.5L1614.8 936.3L1616.4 950.8L1618 978.5L1619.6 1001.7L1621.2 1024.6L1622.8 1043.8L1624.4 1060.9L1626 1082.9L1627.6 1099.5L1629.2 1115.2L1630.8 1126.8L1632.4 1121.9L1634 1109.8L1635.6 1099.2L1637.2 1087.1L1638.8 1073.2L1640.4 1055.3L1642 1025.7L1643.6 1001.7L1645.2 980.7L1646.8 959.6L1648.4 935.1L1650 888.2L1651.6 826.5L1653.2 779.7L1654.8 751.5L1656.4 726.6L1658 696.4L1659.6 674.3L1661.2 651.3L1662.8 630.2L1664.4 609.2L1666 579.9L1667.6 554.8L1669.2 531.6L1670.8 513.3L1672.4 498L1674 481.8L1675.6 471.8L1677.2 463.2L1678.8 454.8L1680.4 447.2L1682 442.3L1683.6 438.3L1685.2 433.4L1686.8 429.8L1688.4 427.1L1690 423.4L1691.6 421.1L1693.2 418.9L1694.8 416.8L1696.4 414.8L1698 412.4L1699.6 410.7L1701.2 408.9L1702.8 407L1704.4 405.4L1706 403.5L1707.6 402.2L1709.2 401.1L1710.8 399.4L1712.4 398.1L1714 397.4L1715.6 398.9L1717.2 399L1718.8 399L1720.4 398.6L1722 398.5L1723.6 398.8L1725.2 399.6L1726.8 400.4L1728.4 399.4L1730 398.1L1731.6 397.5L1733.2 397.5L1734.8 396L1736.4 397.2L1738 400.6L1739.6 404.3L1741.2 406.3L1742.8 407.9L1744.4 409.6L1746 412.3L1747.6 414.5L1749.2 417L1750.8 419.8L1752.4 422.9L1754 427.1L1755.6 430.5L1757.2 433.2L1758.8 434.6L1760.4 436.3L1762 438.6L1763.6 440L1765.2 441.2L1766.8 442.6L1768.4 443.9L1770 445.4L1771.6 446.4L1773.2 447L1774.8 447.7L1776.4 448.2L1778 449L1779.6 450.2L1781.2 451.7L1782.8 453.3L1784.4 454.7L1786 457.3L1787.6 459.2L1789.2 461.6L1790.8 464.6L1792.4 468.6L1794 474.4L1795.6 478.6L1797.2 481.7L1798.8 484.5L1800.4 488.1L1802 495.1L1803.6 499.8L1805.2 504.6L1806.8 509.6L1808.4 514L1810 518.3L1811.6 521.1L1813.2 523.9L1814.8 527L1816.4 530.7L1818 536.3L1819.6 541.1L1821.2 545.9L1822.8 550.6L1824.4 555.1L1826 561.6L1827.6 567.2L1829.2 573.1L1830.8 579.3L1832.4 585.9L1834 594.4L1835.6 600.1L1837.2 605.7L1838.8 611.1L1840.4 617.8L1842 626.5L1843.6 633.3L1845.2 639.2L1846.8 645.1L1848.4 651.1L1850 658.5L1851.6 663.6L1853.2 669.3L1854.8 675.8L1856.4 684.2L1858 697.3L1859.6 707.5L1861.2 716.4L1862.8 725.6L1864.4 736.3L1866 750.9L1867.6 761.8L1869.2 771.6L1870.8 781.9L1872.4 792.3L1874 805.9L1875.6 816L1877.2 825.7L1878.8 835.6L1880.4 845.2L1882 857.8L1883.6 867.3L1885.2 877.2L1886.8 888.6L1888.4 902.5L1890 923.3L1891.6 939.1L1893.2 954.8L1894.8 970.4L1896.4 985.9L1898 1006.4L1899.6 1022.6L1901.2 1040.5L1902.8 1059.4L1904.4 1078L1906 1101.8L1907.6 1119.6L1909.2 1136.8L1910.8 1155.4L1912.4 1173.3L1914 1193.9L1915.6 1205.7L1917.2 1216.2L1918.8 1225.3L1920.4 1233.4L1922 1213.6L1923.6 1185.7L1925.2 1146.5L1926.8 1094.4L1928.4 1069.9L1930 1045.5L1931.6 1012.5L1933.2 969.1L1934.8 940.5L1936.4 915.5L1938 861.1L1939.6 794.4L1941.2 758L1942.8 731L1944.4 702.1L1946 661.6L1947.6 629.8L1949.2 598.7L1950.8 572.1L1952.4 549.8L1954 524.3L1955.6 508.3L1957.2 495.1L1958.8 483.7L1960.4 473.2L1962 458L1963.6 443.5L1965.2 425.5L1966.8 407.1L1968.4 391.1L1970 376.5L1971.6 368.8L1973.2 362.2L1974.8 356.3L1976.4 351.5L1978 346.2L1979.6 342.6L1981.2 339.8L1982.8 337.3L1984.4 335.2L1986 332.3L1987.6 328.7L1989.2 324.9L1990.8 321.3L1992.4 320.2L1994 317.6L1995.6 314.6L1997.2 311L1998.8 309.9L2000.4 309.2L2002 307L2003.6 305.3L2005.2 300.5L2006.8 288.8L2008.4 277.8L2010 267.1L2011.6 266.3L2013.2 263.9L2014.8 261.1L2016.4 268.3L2018 275.6L2019.6 271.7L2021.2 268.7L2022.8 266.8L2024.4 268.5L2026 269.9L2027.6 271.2L2029.2 272L2030.8 271.1L2032.4 270.3L2034 269.5L2035.6 268.8L2037.2 267.7L2038.8 266.7L2040.4 264.7L2042 263.3L2043.6 262.7L2045.2 265.3L2046.8 267.2L2048.4 267.4L2050 266.7L2051.6 266.4L2053.2 266.7L2054.8 265.3L2056.4 262L2058 259L2059.6 260.4L2061.2 262.7L2062.8 265.4L2064.4 264.3L2066 263.7L2067.6 263.7L2069.2 263.8L2070.8 263.8L2072.4 263.5L2074 262.7L2075.6 262L2077.2 261.9L2078.8 262.2L2080.4 262.8L2082 263.7L2083.6 264L2085.2 263.8L2086.8 263.3L2088.4 262.9L2090 262.5L2091.6 262.4L2093.2 261.5L2094.8 260.5L2096.4 259.7L2098 258.6L2099.6 257.5L2101.2 256.5L2102.8 255.9L2104.4 255.5L2106 254.2L2107.6 253L2109.2 251.8L2110.8 250.9L2110.8 346.8L2109.2 356.7L2107.6 363.6L2106 368.3L2104.4 361.6L2102.8 355.8L2101.2 351L2099.6 348.2L2098 350.7L2096.4 349.2L2094.8 346.9L2093.2 346.3L2091.6 346.4L2090 347.3L2088.4 359.8L2086.8 371.8L2085.2 359.9L2083.6 349.6L2082 352L2080.4 354.7L2078.8 356.7L2077.2 356.9L2075.6 354.9L2074 351.3L2072.4 354.7L2070.8 358.2L2069.2 360.2L2067.6 361.3L2066 362L2064.4 362.3L2062.8 361.7L2061.2 359.9L2059.6 356.6L2058 357.7L2056.4 366.7L2054.8 375.1L2053.2 370.9L2051.6 368.9L2050 371.8L2048.4 374.3L2046.8 368.2L2045.2 374.4L2043.6 366.8L2042 360.3L2040.4 363.6L2038.8 365.5L2037.2 364.9L2035.6 361.5L2034 356.8L2032.4 367.1L2030.8 380.5L2029.2 371.3L2027.6 360.5L2026 360L2024.4 362.1L2022.8 365.5L2021.2 369.7L2019.6 377.3L2018 384.5L2016.4 391.8L2014.8 397.4L2013.2 396.4L2011.6 395.8L2010 396.3L2008.4 398.3L2006.8 402.2L2005.2 404.7L2003.6 405.3L2002 404.4L2000.4 404.1L1998.8 404L1997.2 406.8L1995.6 408.9L1994 410.1L1992.4 413.8L1990.8 416.4L1989.2 417.5L1987.6 421.4L1986 427.1L1984.4 432.3L1982.8 434.9L1981.2 436.9L1979.6 439.6L1978 444.1L1976.4 453.1L1974.8 461.5L1973.2 472.3L1971.6 488.4L1970 504.7L1968.4 528.6L1966.8 546.2L1965.2 560.1L1963.6 568.5L1962 576.6L1960.4 592.2L1958.8 606.5L1957.2 624.8L1955.6 647L1954 672.1L1952.4 713L1950.8 746.9L1949.2 779.4L1947.6 809.9L1946 835.3L1944.4 878.4L1942.8 942.6L1941.2 989.8L1939.6 1014.8L1938 1043.6L1936.4 1096.9L1934.8 1128.8L1933.2 1145.9L1931.6 1167.1L1930 1211.8L1928.4 1272.4L1926.8 1301.9L1925.2 1316.1L1923.6 1325.5L1922 1327.8L1920.4 1327.7L1918.8 1328.9L1917.2 1328.8L1915.6 1320.2L1914 1309.8L1912.4 1296.7L1910.8 1285.3L1909.2 1271.6L1907.6 1257.6L1906 1244.1L1904.4 1223.9L1902.8 1204.8L1901.2 1185.6L1899.6 1167.1L1898 1145.1L1896.4 1117.7L1894.8 1100.6L1893.2 1086.6L1891.6 1072.4L1890 1055.4L1888.4 1034L1886.8 1017.9L1885.2 1002.6L1883.6 987.4L1882 973.3L1880.4 957.9L1878.8 948.1L1877.2 939L1875.6 930.3L1874 921.1L1872.4 907.9L1870.8 897.8L1869.2 887.7L1867.6 880.1L1866 872.4L1864.4 856.7L1862.8 844.2L1861.2 835.2L1859.6 826.1L1858 816.8L1856.4 800.8L1854.8 790L1853.2 781.2L1851.6 770.8L1850 761.3L1848.4 750.9L1846.8 744.7L1845.2 738.4L1843.6 732.4L1842 727.4L1840.4 720.2L1838.8 714.4L1837.2 708.4L1835.6 702.6L1834 696.5L1832.4 688.1L1830.8 686.2L1829.2 685.1L1827.6 676.1L1826 665.6L1824.4 655L1822.8 654.7L1821.2 656.8L1819.6 659.8L1818 652.4L1816.4 643.6L1814.8 641.4L1813.2 640.1L1811.6 631.7L1810 622.5L1808.4 611.9L1806.8 605.5L1805.2 599.7L1803.6 595.7L1802 597.8L1800.4 600.8L1798.8 605.7L1797.2 600.6L1795.6 592.9L1794 582.9L1792.4 574.9L1790.8 568.6L1789.2 563.3L1787.6 558.9L1786 554.1L1784.4 547.6L1782.8 545.9L1781.2 547.9L1779.6 548.6L1778 547.6L1776.4 545.1L1774.8 543.1L1773.2 541.2L1771.6 538.7L1770 535.7L1768.4 531.5L1766.8 532.2L1765.2 532.9L1763.6 530.7L1762 527.1L1760.4 527.5L1758.8 531.9L1757.2 534.7L1755.6 527.4L1754 526.9L1752.4 531.1L1750.8 527.1L1749.2 520.6L1747.6 512.1L1746 507.2L1744.4 503.4L1742.8 502.6L1741.2 502.3L1739.6 500.7L1738 497.3L1736.4 492.2L1734.8 488.1L1733.2 484.3L1731.6 484.4L1730 485.1L1728.4 485.6L1726.8 485.3L1725.2 484.7L1723.6 484.6L1722 490L1720.4 495.5L1718.8 496.4L1717.2 505.4L1715.6 495.5L1714 489.2L1712.4 492.8L1710.8 493.6L1709.2 492.2L1707.6 489.7L1706 493.8L1704.4 497.4L1702.8 506L1701.2 514.5L1699.6 523.7L1698 519.5L1696.4 516.3L1694.8 511.8L1693.2 513.9L1691.6 515.6L1690 518L1688.4 523.3L1686.8 529.2L1685.2 536.4L1683.6 543.7L1682 550.4L1680.4 561L1678.8 575.2L1677.2 589.3L1675.6 603L1674 619.4L1672.4 645.1L1670.8 666.7L1669.2 689.2L1667.6 716.3L1666 734.8L1664.4 760.8L1662.8 782.7L1661.2 804.7L1659.6 828.9L1658 855.9L1656.4 914.1L1654.8 976.7L1653.2 1014.8L1651.6 1041.4L1650 1063L1648.4 1089.7L1646.8 1112.8L1645.2 1134.9L1643.6 1154.1L1642 1173.2L1640.4 1191.7L1638.8 1203.8L1637.2 1207.7L1635.6 1213.9L1634 1219.9L1632.4 1222.4L1630.8 1222.2L1629.2 1221.5L1627.6 1218.4L1626 1208.8L1624.4 1192.7L1622.8 1177.1L1621.2 1162.1L1619.6 1147.6L1618 1131.9L1616.4 1106.9L1614.8 1082.9L1613.2 1057.1L1611.6 1034.3L1610 1018.7L1608.4 1003.2L1606.8 987.8L1605.2 961.3L1603.6 934L1602 916L1600.4 895.9L1598.8 881.5L1597.2 865.6L1595.6 850.9L1594 839.4L1592.4 822.2L1590.8 803.9L1589.2 788.4L1587.6 778.4L1586 768.7L1584.4 756L1582.8 744.3L1581.2 733.1L1579.6 722.7L1578 713.2L1576.4 703.5L1574.8 696.6L1573.2 689.8L1571.6 683L1570 676.7L1568.4 668.9L1566.8 663.5L1565.2 659.1L1563.6 654.6L1562 649.5L1560.4 641.4L1558.8 632.5L1557.2 623.2L1555.6 615.4L1554 608.3L1552.4 602.6L1550.8 599.5L1549.2 596.6L1547.6 590.8L1546 585.5L1544.4 581.8L1542.8 580.9L1541.2 573.8L1539.6 565.3L1538 558.3L1536.4 550.2L1534.8 548L1533.2 544.8L1531.6 540.7L1530 536.1L1528.4 530.9L1526.8 527.5L1525.2 524.6L1523.6 521.9L1522 519L1520.4 515.8L1518.8 513.2L1517.2 511.8L1515.6 508.9L1514 505.2L1512.4 499.8L1510.8 494.9L1509.2 490.4L1507.6 484.9L1506 484.1L1504.4 484.6L1502.8 479.8L1501.2 475.5L1499.6 476.4L1498 479.7L1496.4 481.7L1494.8 484L1493.2 477.2L1491.6 471.1L1490 464.9L1488.4 464.3L1486.8 470.3L1485.2 476.6L1483.6 482.1L1482 474.3L1480.4 469.9L1478.8 466.3L1477.2 461.7L1475.6 460.9L1474 457.8L1472.4 458.2L1470.8 462.5L1469.2 466L1467.6 468.9L1466 470.7L1464.4 470.5L1462.8 467.6L1461.2 463.1L1459.6 458.6L1458 458.6L1456.4 460.5L1454.8 460.8L1453.2 459.4L1451.6 457.1L1450 458.7L1448.4 460.1L1446.8 460.3L1445.2 459.5L1443.6 458.1L1442 457L1440.4 457.1L1438.8 458.8L1437.2 461.8L1435.6 465.4L1434 468.9L1432.4 471.6L1430.8 472.6L1429.2 472.1L1427.6 471.3L1426 471.1L1424.4 472.2L1422.8 473.1L1421.2 473.3L1419.6 472.4L1418 471.3L1416.4 471.2L1414.8 471.5L1413.2 471.6L1411.6 470.7L1410 469.3L1408.4 473L1406.8 475.3L1405.2 477.1L1403.6 479.3L1402 482.5L1400.4 487.4L1398.8 491.2L1397.2 494.8L1395.6 501.3L1394 511.4L1392.4 524.6L1390.8 533.5L1389.2 543.2L1387.6 555.8L1386 574.2L1384.4 600L1382.8 617.8L1381.2 634.3L1379.6 649.9L1378 665L1376.4 685.5L1374.8 701.4L1373.2 716.2L1371.6 729.3L1370 741.1L1368.4 755.2L1366.8 765.1L1365.2 776.2L1363.6 785.8L1362 793.6L1360.4 801.9L1358.8 808.5L1357.2 816.6L1355.6 825.7L1354 838.2L1352.4 857.3L1350.8 868.5L1349.2 877.4L1347.6 884.7L1346 890.9L1344.4 897.7L1342.8 900.3L1341.2 902.4L1339.6 903.9L1338 900.9L1336.4 887.4L1334.8 875.4L1333.2 862.9L1331.6 846.3L1330 828.1L1328.4 807L1326.8 791.4L1325.2 756.7L1323.6 732L1322 716.2L1320.4 699.3L1318.8 688.6L1317.2 679.1L1315.6 669.7L1314 659.9L1312.4 645.5L1310.8 634.3L1309.2 623L1307.6 611.9L1306 601.5L1304.4 588.2L1302.8 578.8L1301.2 569.8L1299.6 562.2L1298 554.5L1296.4 544L1294.8 536.7L1293.2 527.9L1291.6 520.7L1290 515.1L1288.4 507.1L1286.8 503.8L1285.2 501.8L1283.6 499.3L1282 496.7L1280.4 492.5L1278.8 488.8L1277.2 485.7L1275.6 484.1L1274 484.7L1272.4 485.9L1270.8 486.9L1269.2 486.1L1267.6 483.8L1266 482.7L1264.4 482.2L1262.8 481.8L1261.2 477.9L1259.6 472.5L1258 473L1256.4 479.7L1254.8 483.5L1253.2 485.3L1251.6 486.7L1250 484.1L1248.4 480.9L1246.8 476.9L1245.2 472L1243.6 471.2L1242 471.1L1240.4 472.6L1238.8 475.2L1237.2 477.6L1235.6 478.1L1234 476.4L1232.4 477.4L1230.8 481.8L1229.2 489.6L1227.6 487.8L1226 488.4L1224.4 497.2L1222.8 490.4L1221.2 483.2L1219.6 483.3L1218 483.5L1216.4 484.2L1214.8 484.1L1213.2 483.3L1211.6 482.3L1210 485.3L1208.4 487.8L1206.8 487.9L1205.2 492.9L1203.6 498.7L1202 503.8L1200.4 509.7L1198.8 514.2L1197.2 518.6L1195.6 524.2L1194 530.3L1192.4 538.2L1190.8 543.7L1189.2 551L1187.6 561.4L1186 576.9L1184.4 602.2L1182.8 626L1181.2 651.1L1179.6 666.2L1178 675.7L1176.4 684.6L1174.8 690.7L1173.2 698L1171.6 706.8L1170 723.4L1168.4 746.9L1166.8 758.5L1165.2 769.8L1163.6 779.2L1162 785.1L1160.4 788.8L1158.8 790.5L1157.2 791.7L1155.6 792.9L1154 795.6L1152.4 799.5L1150.8 802.2L1149.2 804.6L1147.6 807.7L1146 811.2L1144.4 815.5L1142.8 818.9L1141.2 821.3L1139.6 824.1L1138 829L1136.4 835.9L1134.8 836.5L1133.2 836.2L1131.6 837L1130 836.4L1128.4 835.7L1126.8 835.3L1125.2 832.6L1123.6 827.3L1122 820.3L1120.4 805.7L1118.8 789.8L1117.2 771.7L1115.6 752.4L1114 735.3L1112.4 705.1L1110.8 670.7L1109.2 649.3L1107.6 632.5L1106 620.4L1104.4 606.7L1102.8 599.7L1101.2 594.2L1099.6 589.9L1098 581.9L1096.4 571.7L1094.8 562.1L1093.2 552.4L1091.6 533.4L1090 512L1088.4 492L1086.8 478.8L1085.2 470.7L1083.6 466.8L1082 463L1080.4 463.4L1078.8 464.7L1077.2 466.9L1075.6 470.7L1074 467.1L1072.4 464L1070.8 460L1069.2 458.5L1067.6 460.2L1066 462.5L1064.4 457.8L1062.8 458L1061.2 455.3L1059.6 452L1058 452.2L1056.4 451.7L1054.8 450.3L1053.2 447.4L1051.6 444.9L1050 448.3L1048.4 457.6L1046.8 466.9L1045.2 476.2L1043.6 472.9L1042 467.6L1040.4 460.9L1038.8 459.7L1037.2 459.8L1035.6 460.7L1034 460.2L1032.4 457.4L1030.8 452.3L1029.2 454.9L1027.6 464.3L1026 472.4L1024.4 480L1022.8 477.8L1021.2 474.2L1019.6 468.5L1018 465.5L1016.4 463.2L1014.8 462.7L1013.2 464.1L1011.6 465.7L1010 466.2L1008.4 468.6L1006.8 470.5L1005.2 472.9L1003.6 476.4L1002 476L1000.4 476.5L998.8 476.2L997.2 474.6L995.6 473.9L994 471.4L992.4 472.9L990.8 480.3L989.2 485.4L987.6 487.9L986 485.7L984.4 484.1L982.8 484.3L981.2 487.3L979.6 491.4L978 496.3L976.4 499.2L974.8 501L973.2 507.3L971.6 516.1L970 511.6L968.4 509.7L966.8 515.8L965.2 520.9L963.6 530.3L962 537.9L960.4 537.3L958.8 542.1L957.2 551.3L955.6 559.2L954 561.6L952.4 566.2L950.8 568.3L949.2 573.8L947.6 578.8L946 583.3L944.4 589.9L942.8 599.7L941.2 609L939.6 609.3L938 610.7L936.4 618.7L934.8 624.5L933.2 629.8L931.6 635.2L930 641.1L928.4 649.2L926.8 655L925.2 659.9L923.6 664.5L922 671.2L920.4 682.4L918.8 690.9L917.2 701L915.6 714.6L914 727.7L912.4 739.2L910.8 745.3L909.2 750.9L907.6 757.9L906 767.8L904.4 793.2L902.8 824.4L901.2 856.5L899.6 876.8L898 902.8L896.4 927.8L894.8 933.6L893.2 932.9L891.6 932L890 932.2L888.4 932L886.8 929.9L885.2 925.3L883.6 919.7L882 914.5L880.4 907L878.8 903.2L877.2 900.1L875.6 901.1L874 904.4L872.4 908.5L870.8 910.9L869.2 913.1L867.6 918.1L866 924.7L864.4 933.2L862.8 939.1L861.2 949.2L859.6 959.1L858 958.4L856.4 964.3L854.8 974.1L853.2 983.2L851.6 987L850 989.6L848.4 991.3L846.8 995.5L845.2 999.5L843.6 995.9L842 995.5L840.4 992.7L838.8 988.3L837.2 979.7L835.6 971.6L834 966.6L832.4 952.4L830.8 939.5L829.2 922.6L827.6 896.9L826 870.1L824.4 844.9L822.8 828.1L821.2 813.1L819.6 800.5L818 788L816.4 770.8L814.8 756.6L813.2 741.1L811.6 724.5L810 707.4L808.4 683.2L806.8 663.1L805.2 642.8L803.6 624L802 607.8L800.4 588.3L798.8 573.5L797.2 558L795.6 544L794 531L792.4 508.8L790.8 492.9L789.2 482.7L787.6 478.1L786 475.2L784.4 472.2L782.8 470.5L781.2 468.2L779.6 467L778 468.8L776.4 472.3L774.8 474.8L773.2 476.1L771.6 476.2L770 476L768.4 476.8L766.8 477.7L765.2 479.8L763.6 485.7L762 491.2L760.4 497L758.8 495.9L757.2 495L755.6 494.4L754 497.7L752.4 502.3L750.8 506.2L749.2 513.3L747.6 519.2L746 516.5L744.4 514L742.8 515.7L741.2 519.3L739.6 523.9L738 528L736.4 529.9L734.8 530.3L733.2 531.2L731.6 531.6L730 534.3L728.4 539.9L726.8 544.4L725.2 544.1L723.6 543.2L722 543.3L720.4 546.9L718.8 549.5L717.2 552.2L715.6 555L714 558.1L712.4 561.2L710.8 563.3L709.2 564.5L707.6 565.2L706 565.7L704.4 567.2L702.8 574.9L701.2 582.6L699.6 582L698 580.6L696.4 583.9L694.8 588.6L693.2 593L691.6 596.4L690 603.4L688.4 614L686.8 617.3L685.2 620.2L683.6 625.7L682 630.8L680.4 637.6L678.8 643.7L677.2 652.8L675.6 661.7L674 670.3L672.4 676L670.8 679.4L669.2 682.5L667.6 687.4L666 692.6L664.4 702L662.8 709.4L661.2 716.1L659.6 719.9L658 723.1L656.4 727.9L654.8 734.7L653.2 742.9L651.6 750.8L650 759L648.4 774.7L646.8 787.7L645.2 792.6L643.6 797.3L642 806.4L640.4 819.5L638.8 829.2L637.2 838.7L635.6 848.2L634 857.5L632.4 870.9L630.8 882.1L629.2 891.2L627.6 894.1L626 895.6L624.4 898.8L622.8 900.9L621.2 902.1L619.6 901.4L618 900.6L616.4 899.7L614.8 897.9L613.2 895.9L611.6 893.4L610 890.8L608.4 888.6L606.8 887.8L605.2 886.3L603.6 884.5L602 882.4L600.4 880L598.8 879.2L597.2 881L595.6 883.3L594 885.6L592.4 888.4L590.8 890.3L589.2 892.5L587.6 897.9L586 903.8L584.4 912.1L582.8 920.7L581.2 925.3L579.6 930L578 935.3L576.4 944.2L574.8 952.5L573.2 962.5L571.6 974.3L570 985.1L568.4 1001.9L566.8 1014.1L565.2 1024.3L563.6 1032.7L562 1040.4L560.4 1052.3L558.8 1058L557.2 1058.3L555.6 1057.9L554 1057.1L552.4 1056.8L550.8 1055.1L549.2 1051.7L547.6 1045.4L546 1037L544.4 1023.5L542.8 1011L541.2 997.6L539.6 984.8L538 969.3L536.4 944.7L534.8 920.4L533.2 900.2L531.6 881.1L530 861.5L528.4 830.1L526.8 802L525.2 768.5L523.6 734.9L522 709L520.4 674.6L518.8 649.5L517.2 627.6L515.6 607.6L514 589.4L512.4 566.8L510.8 550.4L509.2 533.7L507.6 517.8L506 504.2L504.4 490.1L502.8 480.7L501.2 471.5L499.6 463.9L498 458L496.4 450.2L494.8 445.4L493.2 440.2L491.6 432.8L490 420.7L488.4 413.4L486.8 410.3L485.2 414.5L483.6 406.7L482 400.5L480.4 395.2L478.8 398.3L477.2 399.9L475.6 398.5L474 404.9L472.4 410.9L470.8 397.4L469.2 383.5L467.6 378.4L466 380.5L464.4 382.7L462.8 382.7L461.2 382.7L459.6 382.6L458 383.7L456.4 385.9L454.8 383.8L453.2 379.6L451.6 373.1L450 365.5L448.4 365.5L446.8 372.2L445.2 378.7L443.6 384.6L442 390.7L440.4 384L438.8 377.7L437.2 372.3L435.6 376.5L434 381L432.4 379.2L430.8 377.6L429.2 376.2L427.6 374.7L426 376L424.4 377.9L422.8 384.4L421.2 390.3L419.6 393.4L418 385L416.4 374.6L414.8 374.1L413.2 379.7L411.6 388.9L410 379L408.4 369L406.8 358.4L405.2 359.7L403.6 363.2L402 366.9L400.4 368.5L398.8 366.4L397.2 360.9L395.6 355.4L394 360.1L392.4 363.2L390.8 364L389.2 368.6L387.6 370.3L386 370.8L384.4 365.6L382.8 365.1L381.2 375.6L379.6 361.4L378 347L376.4 346.1L374.8 345.9L373.2 350.6L371.6 354.9L370 348L368.4 346.1L366.8 349.9L365.2 353.9L363.6 350.6L362 346.6L360.4 347.5L358.8 351.9L357.2 356.6L355.6 360.4L354 353.3L352.4 360.4L350.8 374.7L349.2 367.9L347.6 357.4L346 344L344.4 338.8L342.8 333.4L341.2 328.8L339.6 325.3L338 324.6L336.4 334.8L334.8 344.8L333.2 332.1L331.6 319.5L330 317.8L328.4 313.9L326.8 314.3L325.2 318.4L323.6 322.1L322 314.7Z" fill="#000" stroke="#000" stroke-width="0.8" stroke-linejoin="round"/>
<g fill="#000"><path d="M608.2 880.0L610.7 960.0L613.2 880.0Z"/><path d="M619.2 880.0L621.7 942.0L624.2 880.0Z"/><path d="M1132.5 820.0L1135.0 845.0L1137.5 820.0Z"/><path d="M1161.2 760.0L1163.7 810.0L1166.2 760.0Z"/><path d="M398.7 275.0L401.7 228.0L404.7 275.0Z"/><path d="M455.2 292.0L457.7 262.0L460.2 292.0Z"/><path d="M2076.0 270.0L2079.0 224.0L2082.0 270.0Z"/></g>
<path d="M482 310L483.5 310.2L485 310.4L486.5 310.7L488 310.9L489.5 311.1L491 311.4L492.5 311.6L494 311.8L495.5 312L497 312.3L498.5 312.5L500 312.7L501.5 313L503 313.2L504.5 313.4L506 313.7L507.5 313.9L509 314.1L510.5 314.4L512 314.6L513.5 314.9L515 315.1L516.5 315.3L518 315.6L519.5 315.8L521 316L522.5 316.3L524 316.5L525.5 316.8L527 317L528.5 317.3L530 317.5L531.5 317.7L533 318L534.5 318.2L536 318.5L537.5 318.7L539 319L540.5 319.2L542 319.5L543.5 319.8L545 320L546.5 320.3L548 320.5L549.5 320.8L551 321L552.5 321.3L554 321.6L555.5 321.8L557 322.1L558.5 322.3L560 322.6L561.5 322.9L563 323.1L564.5 323.4L566 323.6L567.5 323.9L569 324.1L570.5 324.4L572 324.7L573.5 324.9L575 325.2L576.5 325.4L578 325.7L579.5 325.9L581 326.2L582.5 326.4L584 326.7L585.5 326.9L587 327.2L588.5 327.4L590 327.7L591.5 327.9L593 328.2L594.5 328.4L596 328.7L597.5 328.9L599 329.2L600.5 329.4L602 329.6L603.5 329.9L605 330.1L606.5 330.4L608 330.6L609.5 330.9L611 331.1L612.5 331.3L614 331.6L615.5 331.8L617 332.1L618.5 332.3L620 332.5L621.5 332.8L623 333L624.5 333.2L626 333.5L627.5 333.7L629 333.9L630.5 334.2L632 334.4L633.5 334.6L635 334.9L636.6 335.1L638.1 335.3L639.6 335.6L641.1 335.8L642.6 336L644.1 336.3L645.6 336.5L647.1 336.7L648.6 337L650.1 337.2L651.6 337.4L653.1 337.6L654.6 337.9L656.1 338.1L657.6 338.3L659.1 338.5L660.6 338.7L662.1 339L663.6 339.2L665.1 339.4L666.6 339.6L668.1 339.8L669.6 340L671.1 340.2L672.6 340.4L674.1 340.6L675.6 340.8L677.1 341L678.6 341.2L680.1 341.4L681.6 341.6L683.1 341.8L684.6 342L686.1 342.1L687.6 342.3L689.1 342.5L690.6 342.7L692.1 342.9L693.6 343.1L695.1 343.2L696.6 343.4L698.1 343.6L699.6 343.8L701.1 343.9L702.6 344.1L704.1 344.3L705.6 344.4L707.1 344.6L708.6 344.8L710.1 344.9L711.6 345.1L713.1 345.3L714.6 345.4L716.1 345.6L717.6 345.8L719.1 345.9L720.6 346.1L722.1 346.3L723.6 346.4L725.1 346.6L726.6 346.8L728.1 346.9L729.6 347.1L731.1 347.2L732.6 347.4L734.1 347.6L735.6 347.7L737.1 347.9L738.6 348L740.1 348.2L741.6 348.4L743.1 348.5L744.6 348.7L746.1 348.9L747.6 349L749.1 349.2L750.6 349.3L752.1 349.5L753.6 349.7L755.1 349.8L756.6 350L758.1 350.2L759.6 350.3L761.1 350.5L762.6 350.7L764.1 350.8L765.6 351L767.1 351.2L768.6 351.3L770.1 351.5L771.6 351.7L773.1 351.8L774.6 352L776.1 352.1L777.6 352.3L779.1 352.5L780.6 352.6L782.1 352.8L783.6 353L785.1 353.1L786.6 353.3L788.1 353.5L789.6 353.6L791.1 353.8L792.6 353.9L794.1 354.1L795.6 354.3L797.1 354.4L798.6 354.6L800.1 354.8L801.6 354.9L803.1 355.1L804.6 355.2L806.1 355.4L807.6 355.5L809.1 355.7L810.6 355.9L812.1 356L813.6 356.2L815.1 356.3L816.6 356.5L818.1 356.6L819.6 356.8L821.1 356.9L822.6 357.1L824.1 357.3L825.6 357.4L827.1 357.6L828.6 357.7L830.1 357.9L831.6 358L833.1 358.1L834.6 358.3L836.1 358.4L837.6 358.6L839.1 358.7L840.6 358.9L842.1 359L843.6 359.2L845.1 359.3L846.6 359.4L848.1 359.6L849.6 359.7L851.1 359.8L852.6 360L854.1 360.1L855.6 360.2L857.1 360.4L858.6 360.5L860.1 360.6L861.6 360.8L863.1 360.9L864.6 361L866.1 361.1L867.6 361.3L869.1 361.4L870.6 361.5L872.1 361.6L873.6 361.8L875.1 361.9L876.6 362L878.1 362.1L879.6 362.3L881.1 362.4L882.6 362.5L884.1 362.6L885.6 362.8L887.1 362.9L888.6 363L890.1 363.1L891.6 363.3L893.1 363.4L894.6 363.5L896.1 363.7L897.6 363.8L899.1 363.9L900.6 364.1L902.1 364.2L903.6 364.3L905.1 364.5L906.6 364.6L908.1 364.7L909.6 364.9L911.1 365L912.6 365.2L914.1 365.3L915.6 365.4L917.1 365.6L918.6 365.7L920.1 365.9L921.6 366L923.1 366.1L924.6 366.3L926.1 366.4L927.6 366.6L929.1 366.7L930.6 366.9L932.1 367L933.6 367.1L935.1 367.3L936.6 367.4L938.1 367.6L939.6 367.7L941.1 367.8L942.6 368L944.1 368.1L945.7 368.3L947.2 368.4L948.7 368.5L950.2 368.7L951.7 368.8L953.2 368.9L954.7 369L956.2 369.2L957.7 369.3L959.2 369.4L960.7 369.5L962.2 369.6L963.7 369.8L965.2 369.9L966.7 370L968.2 370.1L969.7 370.2L971.2 370.3L972.7 370.4L974.2 370.5L975.7 370.6L977.2 370.7L978.7 370.9L980.2 371L981.7 371.1L983.2 371.2L984.7 371.3L986.2 371.4L987.7 371.5L989.2 371.6L990.7 371.7L992.2 371.8L993.7 372L995.2 372.1L996.7 372.2L998.2 372.3L999.7 372.4L1001.2 372.5L1002.7 372.6L1004.2 372.7L1005.7 372.8L1007.2 372.9L1008.7 373L1010.2 373.1L1011.7 373.2L1013.2 373.3L1014.7 373.4L1016.2 373.5L1017.7 373.6L1019.2 373.7L1020.7 373.8L1022.2 373.9L1023.7 374L1025.2 374.1L1026.7 374.2L1028.2 374.2L1029.7 374.3L1031.2 374.4L1032.7 374.5L1034.2 374.6L1035.7 374.6L1037.2 374.7L1038.7 374.8L1040.2 374.8L1041.7 374.9L1043.2 375L1044.7 375L1046.2 375.1L1047.7 375.1L1049.2 375.2L1050.7 375.2L1052.2 375.3L1053.7 375.3L1055.2 375.4L1056.7 375.4L1058.2 375.5L1059.7 375.5L1061.2 375.5L1062.7 375.6L1064.2 375.6L1065.7 375.6L1067.2 375.6L1068.7 375.7L1070.2 375.7L1071.7 375.7L1073.2 375.8L1074.7 375.8L1076.2 375.8L1077.7 375.9L1079.2 375.9L1080.7 375.9L1082.2 375.9L1083.7 376L1085.2 376L1086.7 376L1088.2 376.1L1089.7 376.1L1091.2 376.1L1092.7 376.1L1094.2 376.2L1095.7 376.2L1097.2 376.2L1098.7 376.2L1100.2 376.3L1101.7 376.3L1103.2 376.3L1104.7 376.3L1106.2 376.4L1107.7 376.4L1109.2 376.4L1110.7 376.4L1112.2 376.5L1113.7 376.5L1115.2 376.5L1116.7 376.5L1118.2 376.6L1119.7 376.6L1121.2 376.6L1122.7 376.6L1124.2 376.6L1125.7 376.7L1127.2 376.7L1128.7 376.7L1130.2 376.7L1131.7 376.7L1133.2 376.8L1134.7 376.8L1136.2 376.8L1137.7 376.8L1139.2 376.8L1140.7 376.8L1142.2 376.9L1143.7 376.9L1145.2 376.9L1146.7 376.9L1148.2 376.9L1149.7 376.9L1151.2 377L1152.7 377L1154.2 377L1155.7 377L1157.2 377L1158.7 377L1160.2 377L1161.7 377L1163.2 377.1L1164.7 377.1L1166.2 377.1L1167.7 377.1L1169.2 377.1L1170.7 377.1L1172.2 377.1L1173.7 377.1L1175.2 377.1L1176.7 377.1L1178.2 377.1L1179.7 377.2L1181.2 377.2L1182.7 377.2L1184.2 377.2L1185.7 377.2L1187.2 377.2L1188.7 377.2L1190.2 377.2L1191.7 377.2L1193.2 377.2L1194.7 377.2L1196.2 377.2L1197.7 377.2L1199.2 377.2L1200.7 377.2L1202.2 377.2L1203.7 377.2L1205.2 377.2L1206.7 377.2L1208.2 377.2L1209.7 377.2L1211.2 377.2L1212.7 377.2L1214.2 377.2L1215.7 377.2L1217.2 377.2L1218.7 377.2L1220.2 377.2L1221.7 377.2L1223.2 377.2L1224.7 377.2L1226.2 377.2L1227.7 377.2L1229.2 377.2L1230.7 377.2L1232.2 377.2L1233.7 377.2L1235.2 377.2L1236.7 377.2L1238.2 377.2L1239.7 377.2L1241.2 377.2L1242.7 377.2L1244.2 377.2L1245.7 377.2L1247.2 377.2L1248.7 377.2L1250.2 377.2L1251.7 377.2L1253.2 377.2L1254.8 377.2L1256.3 377.2L1257.8 377.2L1259.3 377.2L1260.8 377.2L1262.3 377.2L1263.8 377.2L1265.3 377.2L1266.8 377.2L1268.3 377.2L1269.8 377.2L1271.3 377.2L1272.8 377.2L1274.3 377.2L1275.8 377.2L1277.3 377.2L1278.8 377.2L1280.3 377.2L1281.8 377.2L1283.3 377.2L1284.8 377.2L1286.3 377.2L1287.8 377.1L1289.3 377.1L1290.8 377.1L1292.3 377.1L1293.8 377.1L1295.3 377.1L1296.8 377.1L1298.3 377.1L1299.8 377.1L1301.3 377.1L1302.8 377.1L1304.3 377.1L1305.8 377.1L1307.3 377.1L1308.8 377.1L1310.3 377.1L1311.8 377.1L1313.3 377.1L1314.8 377.1L1316.3 377.1L1317.8 377.1L1319.3 377.1L1320.8 377.1L1322.3 377.1L1323.8 377.1L1325.3 377.1L1326.8 377.1L1328.3 377.1L1329.8 377.1L1331.3 377.1L1332.8 377.1L1334.3 377.1L1335.8 377.1L1337.3 377.1L1338.8 377.1L1340.3 377.1L1341.8 377.1L1343.3 377.1L1344.8 377.1L1346.3 377.1L1347.8 377L1349.3 377L1350.8 377L1352.3 377L1353.8 377L1355.3 377L1356.8 377L1358.3 377L1359.8 377L1361.3 377L1362.8 377L1364.3 377L1365.8 377L1367.3 377L1368.8 377L1370.3 377L1371.8 377L1373.3 377L1374.8 377L1376.3 377L1377.8 376.9L1379.3 376.9L1380.8 376.9L1382.3 376.9L1383.8 376.9L1385.3 376.9L1386.8 376.9L1388.3 376.8L1389.8 376.8L1391.3 376.8L1392.8 376.8L1394.3 376.7L1395.8 376.7L1397.3 376.7L1398.8 376.7L1400.3 376.6L1401.8 376.6L1403.3 376.6L1404.8 376.6L1406.3 376.5L1407.8 376.5L1409.3 376.4L1410.8 376.4L1412.3 376.4L1413.8 376.3L1415.3 376.3L1416.8 376.3L1418.3 376.2L1419.8 376.2L1421.3 376.1L1422.8 376.1L1424.3 376L1425.8 376L1427.3 375.9L1428.8 375.9L1430.3 375.8L1431.8 375.8L1433.3 375.7L1434.8 375.7L1436.3 375.6L1437.8 375.6L1439.3 375.5L1440.8 375.5L1442.3 375.4L1443.8 375.3L1445.3 375.2L1446.8 375.1L1448.3 374.9L1449.8 374.8L1451.3 374.6L1452.8 374.4L1454.3 374.3L1455.8 374.1L1457.3 373.9L1458.8 373.7L1460.3 373.4L1461.8 373.2L1463.3 373L1464.8 372.8L1466.3 372.6L1467.8 372.4L1469.3 372.1L1470.8 371.9L1472.3 371.7L1473.8 371.5L1475.3 371.3L1476.8 371.1L1478.3 370.9L1479.8 370.7L1481.3 370.6L1482.8 370.4L1484.3 370.3L1485.8 370.1L1487.3 369.9L1488.8 369.8L1490.3 369.6L1491.8 369.5L1493.3 369.3L1494.8 369.2L1496.3 369L1497.8 368.9L1499.3 368.7L1500.8 368.6L1502.3 368.4L1503.8 368.3L1505.3 368.2L1506.8 368L1508.3 367.9L1509.8 367.7L1511.3 367.6L1512.8 367.4L1514.3 367.3L1515.8 367.2L1517.3 367L1518.8 366.9L1520.3 366.8L1521.8 366.6L1523.3 366.5L1524.8 366.3L1526.3 366.2L1527.8 366.1L1529.3 366L1530.8 365.8L1532.3 365.7L1533.8 365.6L1535.3 365.4L1536.8 365.3L1538.3 365.2L1539.8 365L1541.3 364.9L1542.8 364.8L1544.3 364.7L1545.8 364.5L1547.3 364.4L1548.8 364.3L1550.3 364.2L1551.8 364.1L1553.3 363.9L1554.8 363.8L1556.3 363.7L1557.8 363.6L1559.3 363.5L1560.8 363.4L1562.3 363.2L1563.9 363.1L1565.4 363L1566.9 362.9L1568.4 362.8L1569.9 362.7L1571.4 362.6L1572.9 362.5L1574.4 362.4L1575.9 362.3L1577.4 362.2L1578.9 362.1L1580.4 362L1581.9 362L1583.4 361.9L1584.9 361.8L1586.4 361.7L1587.9 361.6L1589.4 361.5L1590.9 361.4L1592.4 361.3L1593.9 361.2L1595.4 361.1L1596.9 361L1598.4 360.9L1599.9 360.8L1601.4 360.7L1602.9 360.6L1604.4 360.4L1605.9 360.3L1607.4 360.2L1608.9 360.1L1610.4 360L1611.9 359.8L1613.4 359.7L1614.9 359.6L1616.4 359.4L1617.9 359.3L1619.4 359.1L1620.9 359L1622.4 358.8L1623.9 358.7L1625.4 358.5L1626.9 358.4L1628.4 358.2L1629.9 358L1631.4 357.9L1632.9 357.7L1634.4 357.5L1635.9 357.4L1637.4 357.2L1638.9 357L1640.4 356.8L1641.9 356.7L1643.4 356.5L1644.9 356.3L1646.4 356.1L1647.9 356L1649.4 355.8L1650.9 355.6L1652.4 355.5L1653.9 355.3L1655.4 355.1L1656.9 355L1658.4 354.8L1659.9 354.6L1661.4 354.5L1662.9 354.3L1664.4 354.1L1665.9 354L1667.4 353.8L1668.9 353.7L1670.4 353.5L1671.9 353.3L1673.4 353.2L1674.9 353L1676.4 352.9L1677.9 352.7L1679.4 352.5L1680.9 352.4L1682.4 352.2L1683.9 352.1L1685.4 351.9L1686.9 351.7L1688.4 351.6L1689.9 351.4L1691.4 351.2L1692.9 351.1L1694.4 350.9L1695.9 350.8L1697.4 350.6L1698.9 350.4L1700.4 350.3L1701.9 350.1L1703.4 349.9L1704.9 349.8L1706.4 349.6L1707.9 349.5L1709.4 349.3L1710.9 349.1L1712.4 349L1713.9 348.8L1715.4 348.6L1716.9 348.5L1718.4 348.3L1719.9 348.1L1721.4 348L1722.9 347.8L1724.4 347.6L1725.9 347.5L1727.4 347.3L1728.9 347.1L1730.4 347L1731.9 346.8L1733.4 346.6L1734.9 346.5L1736.4 346.3L1737.9 346.1L1739.4 346L1740.9 345.8L1742.4 345.6L1743.9 345.4L1745.4 345.3L1746.9 345.1L1748.4 344.9L1749.9 344.7L1751.4 344.6L1752.9 344.4L1754.4 344.2L1755.9 344L1757.4 343.8L1758.9 343.6L1760.4 343.4L1761.9 343.3L1763.4 343.1L1764.9 342.9L1766.4 342.7L1767.9 342.5L1769.4 342.3L1770.9 342.1L1772.4 341.9L1773.9 341.7L1775.4 341.5L1776.9 341.3L1778.4 341.1L1779.9 340.9L1781.4 340.7L1782.9 340.4L1784.4 340.2L1785.9 340L1787.4 339.8L1788.9 339.6L1790.4 339.4L1791.9 339.2L1793.4 339L1794.9 338.7L1796.4 338.5L1797.9 338.3L1799.4 338.1L1800.9 337.9L1802.4 337.7L1803.9 337.4L1805.4 337.2L1806.9 337L1808.4 336.8L1809.9 336.5L1811.4 336.3L1812.9 336.1L1814.4 335.9L1815.9 335.6L1817.4 335.4L1818.9 335.2L1820.4 335L1821.9 334.7L1823.4 334.5L1824.9 334.3L1826.4 334L1827.9 333.8L1829.4 333.6L1830.9 333.4L1832.4 333.1L1833.9 332.9L1835.4 332.7L1836.9 332.4L1838.4 332.2L1839.9 332L1841.4 331.7L1842.9 331.5L1844.4 331.3L1845.9 331.1L1847.4 330.8L1848.9 330.6L1850.4 330.4L1851.9 330.1L1853.4 329.9L1854.9 329.7L1856.4 329.4L1857.9 329.2L1859.4 329L1860.9 328.7L1862.4 328.5L1863.9 328.3L1865.4 328L1866.9 327.8L1868.4 327.5L1869.9 327.3L1871.4 327L1873 326.8L1874.5 326.5L1876 326.3L1877.5 326L1879 325.8L1880.5 325.5L1882 325.3L1883.5 325L1885 324.8L1886.5 324.5L1888 324.3L1889.5 324L1891 323.7L1892.5 323.5L1894 323.2L1895.5 323L1897 322.7L1898.5 322.4L1900 322.2L1901.5 321.9L1903 321.7L1904.5 321.4L1906 321.1L1907.5 320.9L1909 320.6L1910.5 320.4L1912 320.1L1913.5 319.8L1915 319.6L1916.5 319.3L1918 319.1L1919.5 318.8L1921 318.5L1922.5 318.3L1924 318L1925.5 317.8L1927 317.5L1928.5 317.3L1930 317L1931.5 316.8L1933 316.5L1934.5 316.3L1936 316L1937.5 315.8L1939 315.5L1940.5 315.3L1942 315L1943.5 314.8L1945 314.5L1946.5 314.3L1948 314.1L1949.5 313.8L1951 313.6L1952.5 313.4L1954 313.1L1955.5 312.9L1957 312.7L1958.5 312.4L1960 312.2L1961.5 312L1963 311.8L1964.5 311.6L1966 311.3L1967.5 311.1L1969 310.9L1970.5 310.7L1972 310.5L1973.5 310.3L1975 310.1L1976.5 309.9L1978 309.7L1979.5 309.5L1981 309.3L1982.5 309.1L1984 308.9L1985.5 308.7L1987 308.5L1988.5 308.3L1990 308.2L1991.5 308L1993 307.8L1994.5 307.6L1996 307.4L1997.5 307.2L1999 307.1L2000.5 306.9L2002 306.7L2003.5 306.5L2005 306.3L2006.5 306.2L2008 306L2009.5 305.8L2011 305.7L2012.5 305.5L2014 305.3L2015.5 305.1L2017 305L2018.5 304.8L2020 304.6L2021.5 304.5L2023 304.3L2024.5 304.2L2026 304" class="cb" stroke="#000"/>
<path d="M482 313L483.5 313.2L485 313.3L486.5 313.5L488 313.7L489.5 313.9L491 314.1L492.5 314.3L494 314.5L495.5 314.7L497 314.9L498.5 315.1L500 315.3L501.5 315.5L503 315.7L504.5 316L506 316.2L507.5 316.4L509 316.7L510.5 316.9L512 317.1L513.5 317.4L515 317.6L516.5 317.9L518 318.2L519.5 318.4L521 318.7L522.5 318.9L524 319.2L525.5 319.5L527 319.7L528.5 320L530 320.3L531.5 320.6L533 320.9L534.5 321.2L536 321.4L537.5 321.7L539 322L540.5 322.3L542 322.6L543.5 322.9L545 323.2L546.5 323.5L548 323.8L549.5 324.1L551 324.4L552.5 324.7L554 325.1L555.5 325.4L557 325.7L558.5 326L560 326.3L561.5 326.6L563 327L564.5 327.3L566 327.6L567.5 327.9L569 328.3L570.5 328.6L572 328.9L573.5 329.3L575 329.6L576.5 329.9L578 330.3L579.5 330.7L581 331L582.5 331.4L584 331.8L585.5 332.1L587 332.5L588.5 332.9L590 333.3L591.5 333.8L593 334.2L594.5 334.6L596 335.1L597.5 335.5L599 336L600.5 336.5L602 337L603.5 337.5L605 338L606.5 338.5L608 339.1L609.5 339.7L611 340.2L612.5 340.8L614 341.4L615.5 342.1L617 342.8L618.5 343.4L620 344.2L621.5 344.9L623 345.7L624.5 346.5L626 347.3L627.5 348.2L629 349.1L630.5 350.1L632 351.1L633.5 352.1L635 353.2L636.6 354.3L638.1 355.5L639.6 356.8L641.1 358.2L642.6 359.8L644.1 361.5L645.6 363.4L647.1 365.4L648.6 367.6L650.1 369.8L651.6 372.2L653.1 374.6L654.6 377.2L656.1 380.1L657.6 383.2L659.1 386.6L660.6 390.2L662.1 394L663.6 397.9L665.1 401.9L666.6 405.9L668.1 410L669.6 414L671.1 418.4L672.6 423L674.1 427.8L675.6 432.8L677.1 437.7L678.6 442.5L680.1 447.2L681.6 451.5L683.1 455.5L684.6 459L686.1 461.9L687.6 464.4L689.1 466.8L690.6 469.3L692.1 472L693.6 475.2L695.1 479.6L696.6 484.9L698.1 489.7L699.6 493.2L701.1 496.1L702.6 497.9L704.1 497.7L705.6 496.6L707.1 495L708.6 493.4L710.1 491.6L711.6 489.4L713.1 486.5L714.6 482.8L716.1 478.7L717.6 474.7L719.1 471.2L720.6 467.7L722.1 464.2L723.6 460.8L725.1 457.4L726.6 454.1L728.1 450.7L729.6 447.4L731.1 444L732.6 440.6L734.1 437.3L735.6 433.9L737.1 430.5L738.6 427.1L740.1 423.8L741.6 420.6L743.1 417.4L744.6 414.3L746.1 411.3L747.6 408.3L749.1 405.2L750.6 402.2L752.1 399.2L753.6 396.2L755.1 393.5L756.6 390.9L758.1 388.5L759.6 386.4L761.1 384.7L762.6 383.1L764.1 381.5L765.6 380L767.1 378.6L768.6 377.2L770.1 376L771.6 375L773.1 374.1L774.6 373.3L776.1 372.8L777.6 372.4L779.1 372L780.6 371.6L782.1 371.2L783.6 370.9L785.1 370.6L786.6 370.3L788.1 370L789.6 369.7L791.1 369.4L792.6 369.2L794.1 368.9L795.6 368.7L797.1 368.5L798.6 368.4L800.1 368.2L801.6 368.1L803.1 368L804.6 367.9L806.1 367.9L807.6 367.8L809.1 367.8L810.6 367.8L812.1 367.9L813.6 367.9L815.1 368L816.6 368.1L818.1 368.3L819.6 368.4L821.1 368.6L822.6 368.8L824.1 369.1L825.6 369.3L827.1 369.6L828.6 369.8L830.1 370.1L831.6 370.4L833.1 370.7L834.6 371L836.1 371.4L837.6 371.7L839.1 372L840.6 372.3L842.1 372.7L843.6 373L845.1 373.4L846.6 373.8L848.1 374.2L849.6 374.7L851.1 375.2L852.6 375.7L854.1 376.3L855.6 376.9L857.1 377.5L858.6 378.1L860.1 378.8L861.6 379.5L863.1 380.3L864.6 381.1L866.1 381.9L867.6 382.7L869.1 383.6L870.6 384.6L872.1 385.5L873.6 386.5L875.1 387.6L876.6 388.8L878.1 390.2L879.6 391.8L881.1 393.6L882.6 395.5L884.1 397.6L885.6 399.8L887.1 402L888.6 404.4L890.1 406.8L891.6 409.2L893.1 411.8L894.6 414.6L896.1 417.7L897.6 420.8L899.1 424.2L900.6 427.6L902.1 431.1L903.6 434.7L905.1 438.2L906.6 441.8L908.1 445.3L909.6 449L911.1 452.8L912.6 456.7L914.1 460.8L915.6 464.8L917.1 468.9L918.6 472.8L920.1 476.6L921.6 480.1L923.1 483.5L924.6 486.5L926.1 489.6L927.6 492.9L929.1 495.8L930.6 498.1L932.1 499.2L933.6 499.3L935.1 499.3L936.6 499.3L938.1 499.3L939.6 499.3L941.1 499.3L942.6 498.6L944.1 497.2L945.7 495.2L947.2 492.7L948.7 489.7L950.2 486.5L951.7 483.2L953.2 479.8L954.7 476.5L956.2 472.4L957.7 467.5L959.2 462.3L960.7 456.9L962.2 451.6L963.7 446.8L965.2 442.6L966.7 439.2L968.2 435.9L969.7 432.8L971.2 429.9L972.7 427.1L974.2 424.5L975.7 421.9L977.2 419.5L978.7 417.2L980.2 414.9L981.7 412.7L983.2 410.5L984.7 408.4L986.2 406.3L987.7 404.2L989.2 402.2L990.7 400.3L992.2 398.5L993.7 396.8L995.2 395.2L996.7 393.9L998.2 392.7L999.7 391.6L1001.2 390.6L1002.7 389.6L1004.2 388.7L1005.7 387.8L1007.2 387.1L1008.7 386.3L1010.2 385.7L1011.7 385.1L1013.2 384.6L1014.7 384.2L1016.2 383.9L1017.7 383.6L1019.2 383.3L1020.7 382.9L1022.2 382.6L1023.7 382.4L1025.2 382.1L1026.7 381.8L1028.2 381.5L1029.7 381.3L1031.2 381L1032.7 380.8L1034.2 380.5L1035.7 380.3L1037.2 380.1L1038.7 379.9L1040.2 379.7L1041.7 379.6L1043.2 379.4L1044.7 379.3L1046.2 379.1L1047.7 379L1049.2 378.9L1050.7 378.8L1052.2 378.7L1053.7 378.6L1055.2 378.6L1056.7 378.5L1058.2 378.5L1059.7 378.5L1061.2 378.5L1062.7 378.5L1064.2 378.5L1065.7 378.5L1067.2 378.5L1068.7 378.5L1070.2 378.5L1071.7 378.5L1073.2 378.6L1074.7 378.6L1076.2 378.6L1077.7 378.6L1079.2 378.6L1080.7 378.6L1082.2 378.7L1083.7 378.7L1085.2 378.7L1086.7 378.7L1088.2 378.8L1089.7 378.8L1091.2 378.8L1092.7 378.8L1094.2 378.9L1095.7 378.9L1097.2 378.9L1098.7 379L1100.2 379L1101.7 379.1L1103.2 379.1L1104.7 379.2L1106.2 379.3L1107.7 379.5L1109.2 379.7L1110.7 379.9L1112.2 380.1L1113.7 380.3L1115.2 380.6L1116.7 380.9L1118.2 381.2L1119.7 381.6L1121.2 381.9L1122.7 382.3L1124.2 382.8L1125.7 383.2L1127.2 383.7L1128.7 384.2L1130.2 384.8L1131.7 385.4L1133.2 386L1134.7 386.8L1136.2 388.2L1137.7 390.1L1139.2 392.3L1140.7 394.8L1142.2 397.6L1143.7 400.6L1145.2 403.7L1146.7 406.8L1148.2 410L1149.7 413.5L1151.2 417.4L1152.7 421.8L1154.2 426.9L1155.7 432.7L1157.2 439.9L1158.7 450.7L1160.2 461.5L1161.7 473.4L1163.2 478.5L1164.7 474.7L1166.2 469.3L1167.7 464.4L1169.2 458.8L1170.7 451.5L1172.2 440.9L1173.7 429.2L1175.2 419.4L1176.7 413.3L1178.2 408L1179.7 403.4L1181.2 399.3L1182.7 395.9L1184.2 393.3L1185.7 391.3L1187.2 389.7L1188.7 388.1L1190.2 386.6L1191.7 385.3L1193.2 384.1L1194.7 383.1L1196.2 382.2L1197.7 381.6L1199.2 381.2L1200.7 381L1202.2 381L1203.7 381L1205.2 381L1206.7 381L1208.2 381L1209.7 381L1211.2 381.1L1212.7 381.1L1214.2 381.1L1215.7 381.1L1217.2 381.1L1218.7 381.2L1220.2 381.2L1221.7 381.2L1223.2 381.2L1224.7 381.3L1226.2 381.3L1227.7 381.3L1229.2 381.4L1230.7 381.4L1232.2 381.5L1233.7 381.5L1235.2 381.5L1236.7 381.6L1238.2 381.6L1239.7 381.7L1241.2 381.7L1242.7 381.8L1244.2 381.8L1245.7 381.9L1247.2 381.9L1248.7 382L1250.2 382L1251.7 382.1L1253.2 382.1L1254.8 382.2L1256.3 382.2L1257.8 382.3L1259.3 382.4L1260.8 382.5L1262.3 382.6L1263.8 382.7L1265.3 382.8L1266.8 382.9L1268.3 383L1269.8 383.1L1271.3 383.3L1272.8 383.4L1274.3 383.6L1275.8 383.8L1277.3 383.9L1278.8 384.1L1280.3 384.3L1281.8 384.6L1283.3 384.8L1284.8 385L1286.3 385.3L1287.8 385.6L1289.3 385.9L1290.8 386.2L1292.3 386.8L1293.8 387.7L1295.3 388.7L1296.8 389.9L1298.3 391.2L1299.8 392.5L1301.3 393.8L1302.8 395L1304.3 396.3L1305.8 397.6L1307.3 398.9L1308.8 400.4L1310.3 402L1311.8 403.7L1313.3 405.7L1314.8 407.9L1316.3 410.4L1317.8 413.6L1319.3 418.3L1320.8 423.9L1322.3 429.9L1323.8 435.7L1325.3 441.1L1326.8 446.4L1328.3 451.8L1329.8 457.1L1331.3 462.3L1332.8 467.3L1334.3 472.6L1335.8 478.3L1337.3 482L1338.8 481.9L1340.3 479.5L1341.8 476.3L1343.3 473.6L1344.8 471.4L1346.3 469.4L1347.8 467.3L1349.3 465.2L1350.8 462.9L1352.3 460.7L1353.8 458.5L1355.3 456.2L1356.8 453.7L1358.3 451.1L1359.8 448.3L1361.3 445.2L1362.8 441.4L1364.3 436.8L1365.8 431.9L1367.3 426.7L1368.8 421.7L1370.3 417L1371.8 412.9L1373.3 409.5L1374.8 406.3L1376.3 403L1377.8 399.8L1379.3 396.8L1380.8 394L1382.3 391.5L1383.8 389.4L1385.3 387.7L1386.8 386.5L1388.3 385.9L1389.8 385.5L1391.3 385.1L1392.8 384.8L1394.3 384.4L1395.8 384.1L1397.3 383.7L1398.8 383.4L1400.3 383.1L1401.8 382.8L1403.3 382.5L1404.8 382.3L1406.3 382L1407.8 381.8L1409.3 381.6L1410.8 381.4L1412.3 381.2L1413.8 381L1415.3 380.8L1416.8 380.7L1418.3 380.5L1419.8 380.4L1421.3 380.2L1422.8 380.1L1424.3 380L1425.8 379.9L1427.3 379.8L1428.8 379.8L1430.3 379.7L1431.8 379.6L1433.3 379.6L1434.8 379.6L1436.3 379.5L1437.8 379.5L1439.3 379.5L1440.8 379.5L1442.3 379.5L1443.8 379.5L1445.3 379.5L1446.8 379.5L1448.3 379.5L1449.8 379.5L1451.3 379.5L1452.8 379.5L1454.3 379.5L1455.8 379.5L1457.3 379.5L1458.8 379.5L1460.3 379.5L1461.8 379.5L1463.3 379.5L1464.8 379.5L1466.3 379.5L1467.8 379.5L1469.3 379.5L1470.8 379.5L1472.3 379.5L1473.8 379.5L1475.3 379.5L1476.8 379.5L1478.3 379.5L1479.8 379.5L1481.3 379.5L1482.8 379.5L1484.3 379.5L1485.8 379.5L1487.3 379.5L1488.8 379.5L1490.3 379.5L1491.8 379.5L1493.3 379.8L1494.8 380.4L1496.3 381.2L1497.8 382.1L1499.3 383.2L1500.8 384.5L1502.3 385.9L1503.8 387.3L1505.3 388.8L1506.8 390.3L1508.3 391.7L1509.8 393.4L1511.3 395.3L1512.8 397.3L1514.3 399.6L1515.8 402L1517.3 404.6L1518.8 407.2L1520.3 409.9L1521.8 412.7L1523.3 415.5L1524.8 418.3L1526.3 421.1L1527.8 424.1L1529.3 427.2L1530.8 430.4L1532.3 433.7L1533.8 437L1535.3 440.4L1536.8 443.9L1538.3 447.4L1539.8 450.9L1541.3 454.5L1542.8 458L1544.3 461.8L1545.8 465.8L1547.3 469.9L1548.8 474L1550.3 478L1551.8 481.8L1553.3 485.4L1554.8 488.6L1556.3 491.4L1557.8 494.4L1559.3 497.3L1560.8 499.3L1562.3 500.2L1563.9 500L1565.4 499.4L1566.9 498.5L1568.4 497.3L1569.9 496L1571.4 494.6L1572.9 493.2L1574.4 491.4L1575.9 489.3L1577.4 486.9L1578.9 484.2L1580.4 481.3L1581.9 478.4L1583.4 475.3L1584.9 472.3L1586.4 469.1L1587.9 465.6L1589.4 462L1590.9 458.2L1592.4 454.3L1593.9 450.3L1595.4 446.3L1596.9 442.3L1598.4 438.4L1599.9 434.5L1601.4 430.8L1602.9 427.1L1604.4 423.3L1605.9 419.3L1607.4 415.3L1608.9 411.4L1610.4 407.5L1611.9 403.9L1613.4 400.4L1614.9 397.3L1616.4 394.5L1617.9 392.2L1619.4 390.3L1620.9 388.6L1622.4 386.9L1623.9 385.3L1625.4 383.8L1626.9 382.3L1628.4 381L1629.9 379.7L1631.4 378.4L1632.9 377.3L1634.4 376.2L1635.9 375.2L1637.4 374.3L1638.9 373.4L1640.4 372.6L1641.9 371.9L1643.4 371.2L1644.9 370.7L1646.4 370.1L1647.9 369.5L1649.4 368.9L1650.9 368.4L1652.4 367.8L1653.9 367.3L1655.4 366.8L1656.9 366.3L1658.4 365.9L1659.9 365.4L1661.4 365L1662.9 364.6L1664.4 364.2L1665.9 363.9L1667.4 363.6L1668.9 363.3L1670.4 363.1L1671.9 362.9L1673.4 362.7L1674.9 362.6L1676.4 362.5L1677.9 362.5L1679.4 362.5L1680.9 362.5L1682.4 362.5L1683.9 362.5L1685.4 362.5L1686.9 362.5L1688.4 362.5L1689.9 362.6L1691.4 362.6L1692.9 362.6L1694.4 362.6L1695.9 362.6L1697.4 362.7L1698.9 362.7L1700.4 362.7L1701.9 362.7L1703.4 362.8L1704.9 362.8L1706.4 362.8L1707.9 362.9L1709.4 362.9L1710.9 363L1712.4 363L1713.9 363.2L1715.4 363.6L1716.9 364.2L1718.4 364.9L1719.9 365.8L1721.4 366.7L1722.9 367.8L1724.4 368.9L1725.9 370.1L1727.4 371.4L1728.9 372.6L1730.4 374L1731.9 375.7L1733.4 377.7L1734.9 379.9L1736.4 382.2L1737.9 384.6L1739.4 387L1740.9 389.5L1742.4 392.1L1743.9 394.8L1745.4 397.7L1746.9 400.7L1748.4 403.8L1749.9 406.9L1751.4 410.1L1752.9 413.3L1754.4 416.6L1755.9 419.8L1757.4 422.9L1758.9 426L1760.4 429L1761.9 432L1763.4 434.8L1764.9 437.4L1766.4 440L1767.9 442.5L1769.4 445L1770.9 447.4L1772.4 449.8L1773.9 452.3L1775.4 454.7L1776.9 457.3L1778.4 459.9L1779.9 462.6L1781.4 465.5L1782.9 468.5L1784.4 471.8L1785.9 475.3L1787.4 478.7L1788.9 482.3L1790.4 486.7L1791.9 490.5L1793.4 492.2L1794.9 491.5L1796.4 489.5L1797.9 486.8L1799.4 484L1800.9 481.5L1802.4 478.9L1803.9 476.1L1805.4 473.3L1806.9 470.2L1808.4 467.1L1809.9 463.8L1811.4 460.3L1812.9 456.5L1814.4 452.6L1815.9 448.5L1817.4 444.3L1818.9 439.9L1820.4 435.6L1821.9 431.2L1823.4 426.8L1824.9 422.5L1826.4 418.3L1827.9 414.2L1829.4 410.1L1830.9 406L1832.4 401.8L1833.9 397.6L1835.4 393.4L1836.9 389.3L1838.4 385.3L1839.9 381.5L1841.4 377.9L1842.9 374.6L1844.4 371.6L1845.9 368.8L1847.4 366.1L1848.9 363.4L1850.4 360.8L1851.9 358.3L1853.4 356L1854.9 353.8L1856.4 351.9L1857.9 350.3L1859.4 349L1860.9 348L1862.4 347.2L1863.9 346.4L1865.4 345.7L1866.9 345L1868.4 344.3L1869.9 343.7L1871.4 343.1L1873 342.5L1874.5 341.9L1876 341.4L1877.5 340.9L1879 340.4L1880.5 339.9L1882 339.5L1883.5 339L1885 338.6L1886.5 338.2L1888 337.8L1889.5 337.5L1891 337.1L1892.5 336.8L1894 336.4L1895.5 336.1L1897 335.8L1898.5 335.5L1900 335.2L1901.5 334.9L1903 334.6L1904.5 334.3L1906 334L1907.5 333.7L1909 333.4L1910.5 333.1L1912 332.8L1913.5 332.5L1915 332.2L1916.5 331.8L1918 331.5L1919.5 331.2L1921 330.8L1922.5 330.4L1924 330L1925.5 329.6L1927 329.2L1928.5 328.8L1930 328.4L1931.5 328L1933 327.6L1934.5 327.2L1936 326.8L1937.5 326.3L1939 325.9L1940.5 325.5L1942 325.1L1943.5 324.7L1945 324.3L1946.5 323.9L1948 323.5L1949.5 323.1L1951 322.6L1952.5 322.2L1954 321.8L1955.5 321.4L1957 321L1958.5 320.6L1960 320.2L1961.5 319.8L1963 319.4L1964.5 319L1966 318.6L1967.5 318.2L1969 317.8L1970.5 317.4L1972 317L1973.5 316.6L1975 316.2L1976.5 315.8L1978 315.4L1979.5 315.1L1981 314.7L1982.5 314.3L1984 313.9L1985.5 313.5L1987 313.1L1988.5 312.8L1990 312.4L1991.5 312L1993 311.6L1994.5 311.3L1996 310.9L1997.5 310.5L1999 310.2L2000.5 309.8L2002 309.5L2003.5 309.1L2005 308.8L2006.5 308.4L2008 308.1L2009.5 307.7L2011 307.4L2012.5 307L2014 306.7L2015.5 306.3L2017 306L2018.5 305.7L2020 305.3L2021.5 305L2023 304.7L2024.5 304.3L2026 304" class="cc" stroke="#3b4ed6"/>
<path d="M482 320.6L483.5 320.6L485 320.6L486.5 320.7L488 320.8L489.5 320.8L491 321L492.5 321.1L494 321.2L495.5 321.4L497 321.6L498.5 321.8L500 322L501.5 322.2L503 322.5L504.5 322.7L506 323L507.5 323.3L509 323.6L510.5 323.9L512 324.3L513.5 324.6L515 325L516.5 325.4L518 325.8L519.5 326.2L521 326.6L522.5 327L524 327.5L525.5 328L527 328.4L528.5 328.9L530 329.4L531.5 329.9L533 330.5L534.5 331.3L536 332.1L537.5 333.1L539 334.2L540.5 335.5L542 336.8L543.5 338.3L545 339.8L546.5 341.4L548 343.2L549.5 345L551 346.9L552.5 348.9L554 351L555.5 353.3L557 356L558.5 359.2L560 362.7L561.5 366.6L563 370.7L564.5 374.9L566 379.3L567.5 383.7L569 388.1L570.5 392.6L572 397.3L573.5 402.3L575 407.5L576.5 412.9L578 418.4L579.5 423.9L581 429.4L582.5 434.9L584 440.3L585.5 445.6L587 450.8L588.5 456L590 461.2L591.5 466.4L593 471.6L594.5 476.8L596 482L597.5 487.4L599 492.7L600.5 498.3L602 504.4L603.5 510.5L605 515.1L606.5 518.8L608 521.7L609.5 522.7L611 522L612.5 520.6L614 519L615.5 516.9L617 514.3L618.5 511.2L620 507.9L621.5 504.1L623 499.8L624.5 495L626 489.9L627.5 484.6L629 479.4L630.5 474.2L632 469.1L633.5 463.8L635 458.3L636.6 452.7L638.1 447.1L639.6 441.6L641.1 436.2L642.6 431L644.1 426L645.6 421.3L647.1 417L648.6 412.7L650.1 408.6L651.6 404.6L653.1 400.7L654.6 397L656.1 393.4L657.6 389.9L659.1 386.5L660.6 383.3L662.1 380.2L663.6 377.1L665.1 373.9L666.6 370.8L668.1 367.9L669.6 365.3L671.1 363L672.6 361.3L674.1 360.1L675.6 359.1L677.1 358.1L678.6 357.3L680.1 356.5L681.6 355.7L683.1 355.1L684.6 354.5L686.1 354L687.6 353.6L689.1 353.2L690.6 353L692.1 352.8L693.6 352.7L695.1 352.6L696.6 352.4L698.1 352.3L699.6 352.2L701.1 352.1L702.6 352L704.1 351.9L705.6 351.9L707.1 351.8L708.6 351.7L710.1 351.6L711.6 351.6L713.1 351.5L714.6 351.5L716.1 351.4L717.6 351.4L719.1 351.3L720.6 351.3L722.1 351.3L723.6 351.2L725.1 351.2L726.6 351.2L728.1 351.2L729.6 351.2L731.1 351.2L732.6 351.2L734.1 351.3L735.6 351.4L737.1 351.5L738.6 351.6L740.1 351.8L741.6 352L743.1 352.2L744.6 352.4L746.1 352.6L747.6 352.8L749.1 353L750.6 353.3L752.1 353.5L753.6 353.7L755.1 354L756.6 354.2L758.1 354.4L759.6 354.6L761.1 354.8L762.6 355.1L764.1 355.3L765.6 355.4L767.1 355.6L768.6 355.8L770.1 356L771.6 356.2L773.1 356.4L774.6 356.6L776.1 356.9L777.6 357.1L779.1 357.3L780.6 357.5L782.1 357.7L783.6 357.9L785.1 358.2L786.6 358.4L788.1 358.6L789.6 358.9L791.1 359.1L792.6 359.4L794.1 359.7L795.6 360L797.1 360.2L798.6 360.5L800.1 360.9L801.6 361.2L803.1 361.5L804.6 361.8L806.1 362.2L807.6 362.6L809.1 362.9L810.6 363.3L812.1 363.8L813.6 364.2L815.1 364.6L816.6 365.1L818.1 365.6L819.6 366.1L821.1 366.6L822.6 367.2L824.1 367.8L825.6 368.5L827.1 369.2L828.6 369.9L830.1 370.7L831.6 371.6L833.1 372.5L834.6 373.4L836.1 374.5L837.6 375.6L839.1 376.7L840.6 377.9L842.1 379.2L843.6 380.9L845.1 383.2L846.6 386L848.1 389.2L849.6 392.8L851.1 396.7L852.6 400.7L854.1 405.5L855.6 411L857.1 417L858.6 423.5L860.1 430.4L861.6 437.4L863.1 444.5L864.6 451.4L866.1 458.2L867.6 464.6L869.1 471.1L870.6 477.6L872.1 484.2L873.6 490.8L875.1 497.2L876.6 503.6L878.1 509.7L879.6 515.9L881.1 522.3L882.6 528.1L884.1 532.3L885.6 535.6L887.1 538.2L888.6 538.7L890.1 537.5L891.6 535.3L893.1 532.8L894.6 529.5L896.1 525.3L897.6 520.3L899.1 514.3L900.6 506.4L902.1 497.3L903.6 487.6L905.1 477.9L906.6 468.8L908.1 460.8L909.6 453.6L911.1 446.5L912.6 439.7L914.1 433.3L915.6 427.5L917.1 422.4L918.6 418L920.1 413.7L921.6 409.6L923.1 405.6L924.6 402L926.1 398.8L927.6 396.1L929.1 394L930.6 392.7L932.1 392L933.6 391.3L935.1 390.6L936.6 390L938.1 389.5L939.6 389L941.1 388.5L942.6 388.1L944.1 387.7L945.7 387.4L947.2 387.1L948.7 386.8L950.2 386.6L951.7 386.4L953.2 386.2L954.7 386.1L956.2 386L957.7 385.9L959.2 385.8L960.7 385.8L962.2 385.7L963.7 385.7L965.2 385.6L966.7 385.6L968.2 385.5L969.7 385.5L971.2 385.4L972.7 385.4L974.2 385.3L975.7 385.3L977.2 385.3L978.7 385.2L980.2 385.2L981.7 385.2L983.2 385.1L984.7 385.1L986.2 385.1L987.7 385.1L989.2 385.1L990.7 385L992.2 385L993.7 385L995.2 385L996.7 385L998.2 385L999.7 385L1001.2 385L1002.7 385L1004.2 385L1005.7 385L1007.2 385L1008.7 385L1010.2 385L1011.7 385L1013.2 385L1014.7 385L1016.2 385L1017.7 385L1019.2 385L1020.7 385L1022.2 385L1023.7 385L1025.2 385L1026.7 385L1028.2 385L1029.7 385L1031.2 385L1032.7 385L1034.2 385L1035.7 385L1037.2 385L1038.7 385L1040.2 385L1041.7 385L1043.2 385L1044.7 385L1046.2 385L1047.7 385L1049.2 385L1050.7 385L1052.2 385L1053.7 385L1055.2 385L1056.7 385L1058.2 385L1059.7 385L1061.2 385L1062.7 385L1064.2 385L1065.7 385.1L1067.2 385.1L1068.7 385.1L1070.2 385.2L1071.7 385.3L1073.2 385.3L1074.7 385.4L1076.2 385.5L1077.7 385.6L1079.2 385.7L1080.7 385.8L1082.2 386L1083.7 386.1L1085.2 386.3L1086.7 386.4L1088.2 386.6L1089.7 386.8L1091.2 386.9L1092.7 387.1L1094.2 387.3L1095.7 387.6L1097.2 387.8L1098.7 388L1100.2 388.4L1101.7 389.1L1103.2 390.1L1104.7 391.3L1106.2 392.7L1107.7 394.3L1109.2 396L1110.7 397.8L1112.2 399.6L1113.7 401.5L1115.2 403.5L1116.7 405.4L1118.2 407.3L1119.7 409.2L1121.2 411.3L1122.7 413.5L1124.2 415.8L1125.7 418.2L1127.2 420.7L1128.7 423.2L1130.2 425.8L1131.7 428.5L1133.2 431.2L1134.7 433.9L1136.2 436.6L1137.7 439.3L1139.2 442L1140.7 444.8L1142.2 447.7L1143.7 450.6L1145.2 453.5L1146.7 456.6L1148.2 459.7L1149.7 462.9L1151.2 466.2L1152.7 469.8L1154.2 473.7L1155.7 477.3L1157.2 480.4L1158.7 483.5L1160.2 486.3L1161.7 488L1163.2 487.7L1164.7 485.2L1166.2 481.8L1167.7 478.3L1169.2 474L1170.7 469.2L1172.2 464.3L1173.7 458.9L1175.2 453L1176.7 447.2L1178.2 441.9L1179.7 437.7L1181.2 434.2L1182.7 430.9L1184.2 427.8L1185.7 424.9L1187.2 422.2L1188.7 419.7L1190.2 417.4L1191.7 415.2L1193.2 413.2L1194.7 411.3L1196.2 409.5L1197.7 407.8L1199.2 406.1L1200.7 404.5L1202.2 402.9L1203.7 401.4L1205.2 400L1206.7 398.7L1208.2 397.5L1209.7 396.4L1211.2 395.4L1212.7 394.5L1214.2 393.8L1215.7 393.1L1217.2 392.5L1218.7 391.9L1220.2 391.3L1221.7 390.8L1223.2 390.3L1224.7 389.8L1226.2 389.4L1227.7 389L1229.2 388.7L1230.7 388.4L1232.2 388.2L1233.7 388L1235.2 387.8L1236.7 387.7L1238.2 387.6L1239.7 387.4L1241.2 387.3L1242.7 387.2L1244.2 387.1L1245.7 387L1247.2 386.9L1248.7 386.8L1250.2 386.7L1251.7 386.6L1253.2 386.5L1254.8 386.5L1256.3 386.4L1257.8 386.3L1259.3 386.2L1260.8 386.2L1262.3 386.1L1263.8 386.1L1265.3 386L1266.8 385.9L1268.3 385.9L1269.8 385.8L1271.3 385.8L1272.8 385.7L1274.3 385.7L1275.8 385.6L1277.3 385.6L1278.8 385.5L1280.3 385.4L1281.8 385.4L1283.3 385.3L1284.8 385.3L1286.3 385.2L1287.8 385.2L1289.3 385.1L1290.8 385L1292.3 385L1293.8 384.9L1295.3 384.8L1296.8 384.8L1298.3 384.7L1299.8 384.6L1301.3 384.6L1302.8 384.5L1304.3 384.5L1305.8 384.4L1307.3 384.3L1308.8 384.3L1310.3 384.2L1311.8 384.2L1313.3 384.1L1314.8 384.1L1316.3 384L1317.8 383.9L1319.3 383.9L1320.8 383.8L1322.3 383.8L1323.8 383.7L1325.3 383.7L1326.8 383.6L1328.3 383.6L1329.8 383.5L1331.3 383.5L1332.8 383.4L1334.3 383.4L1335.8 383.3L1337.3 383.2L1338.8 383.2L1340.3 383.1L1341.8 383.1L1343.3 383L1344.8 383L1346.3 382.9L1347.8 382.9L1349.3 382.8L1350.8 382.8L1352.3 382.7L1353.8 382.6L1355.3 382.6L1356.8 382.5L1358.3 382.5L1359.8 382.4L1361.3 382.4L1362.8 382.3L1364.3 382.2L1365.8 382.2L1367.3 382.1L1368.8 382.1L1370.3 382L1371.8 381.9L1373.3 381.9L1374.8 381.8L1376.3 381.7L1377.8 381.7L1379.3 381.6L1380.8 381.5L1382.3 381.5L1383.8 381.4L1385.3 381.3L1386.8 381.2L1388.3 381.2L1389.8 381.1L1391.3 381L1392.8 381L1394.3 380.9L1395.8 380.8L1397.3 380.7L1398.8 380.7L1400.3 380.6L1401.8 380.5L1403.3 380.4L1404.8 380.4L1406.3 380.3L1407.8 380.2L1409.3 380.1L1410.8 380.1L1412.3 380L1413.8 379.9L1415.3 379.8L1416.8 379.8L1418.3 379.7L1419.8 379.6L1421.3 379.6L1422.8 379.5L1424.3 379.4L1425.8 379.3L1427.3 379.3L1428.8 379.2L1430.3 379.1L1431.8 379.1L1433.3 379L1434.8 378.9L1436.3 378.9L1437.8 378.8L1439.3 378.7L1440.8 378.7L1442.3 378.6L1443.8 378.5L1445.3 378.5L1446.8 378.4L1448.3 378.4L1449.8 378.3L1451.3 378.2L1452.8 378.2L1454.3 378.1L1455.8 378.1L1457.3 378L1458.8 378L1460.3 377.9L1461.8 377.9L1463.3 377.8L1464.8 377.8L1466.3 377.7L1467.8 377.7L1469.3 377.6L1470.8 377.6L1472.3 377.5L1473.8 377.5L1475.3 377.4L1476.8 377.3L1478.3 377.3L1479.8 377.2L1481.3 377.2L1482.8 377.1L1484.3 377.1L1485.8 377L1487.3 377L1488.8 376.9L1490.3 376.8L1491.8 376.8L1493.3 376.7L1494.8 376.6L1496.3 376.6L1497.8 376.5L1499.3 376.4L1500.8 376.4L1502.3 376.3L1503.8 376.2L1505.3 376.1L1506.8 376.1L1508.3 376L1509.8 375.9L1511.3 375.8L1512.8 375.7L1514.3 375.6L1515.8 375.4L1517.3 375.3L1518.8 375.2L1520.3 375L1521.8 374.9L1523.3 374.7L1524.8 374.6L1526.3 374.4L1527.8 374.2L1529.3 374L1530.8 373.9L1532.3 373.7L1533.8 373.5L1535.3 373.3L1536.8 373.2L1538.3 373L1539.8 372.8L1541.3 372.6L1542.8 372.4L1544.3 372.3L1545.8 372.1L1547.3 371.9L1548.8 371.7L1550.3 371.6L1551.8 371.4L1553.3 371.3L1554.8 371.1L1556.3 371L1557.8 370.9L1559.3 370.7L1560.8 370.6L1562.3 370.5L1563.9 370.4L1565.4 370.3L1566.9 370.2L1568.4 370.2L1569.9 370.1L1571.4 370.1L1572.9 370L1574.4 370L1575.9 370L1577.4 370L1578.9 370.1L1580.4 370.2L1581.9 370.3L1583.4 370.5L1584.9 370.7L1586.4 371L1587.9 371.3L1589.4 371.6L1590.9 371.9L1592.4 372.3L1593.9 372.7L1595.4 373.1L1596.9 373.7L1598.4 374.6L1599.9 375.7L1601.4 376.9L1602.9 378.1L1604.4 379.3L1605.9 380.5L1607.4 381.9L1608.9 383.4L1610.4 385L1611.9 386.7L1613.4 388.5L1614.9 390.5L1616.4 392.8L1617.9 395.3L1619.4 398.3L1620.9 402.1L1622.4 406.4L1623.9 411.3L1625.4 416.4L1626.9 421.6L1628.4 426.9L1629.9 432.5L1631.4 438.4L1632.9 444.6L1634.4 451L1635.9 457.7L1637.4 464.9L1638.9 472.7L1640.4 480.6L1641.9 488.4L1643.4 495.7L1644.9 502.4L1646.4 509.4L1647.9 515.8L1649.4 520.6L1650.9 523.6L1652.4 526.1L1653.9 528.2L1655.4 529.5L1656.9 530L1658.4 529.3L1659.9 527.6L1661.4 525.1L1662.9 521.4L1664.4 514L1665.9 505.6L1667.4 497.4L1668.9 488.3L1670.4 479.1L1671.9 470.4L1673.4 462.6L1674.9 455.4L1676.4 448.4L1677.9 441.8L1679.4 435.6L1680.9 429.6L1682.4 424.1L1683.9 419L1685.4 414L1686.9 409.1L1688.4 404.5L1689.9 400.2L1691.4 396.2L1692.9 392.5L1694.4 389.2L1695.9 386.3L1697.4 383.6L1698.9 381L1700.4 378.5L1701.9 376.2L1703.4 374L1704.9 371.9L1706.4 370L1707.9 368.2L1709.4 366.6L1710.9 365.2L1712.4 363.9L1713.9 362.6L1715.4 361.5L1716.9 360.4L1718.4 359.3L1719.9 358.3L1721.4 357.4L1722.9 356.6L1724.4 355.8L1725.9 355.1L1727.4 354.5L1728.9 354L1730.4 353.6L1731.9 353.1L1733.4 352.7L1734.9 352.3L1736.4 352L1737.9 351.6L1739.4 351.3L1740.9 350.9L1742.4 350.6L1743.9 350.3L1745.4 350.1L1746.9 349.8L1748.4 349.6L1749.9 349.3L1751.4 349.1L1752.9 348.9L1754.4 348.7L1755.9 348.5L1757.4 348.3L1758.9 348.1L1760.4 348L1761.9 347.8L1763.4 347.6L1764.9 347.5L1766.4 347.4L1767.9 347.2L1769.4 347.1L1770.9 347L1772.4 346.8L1773.9 346.7L1775.4 346.6L1776.9 346.5L1778.4 346.4L1779.9 346.3L1781.4 346.2L1782.9 346.1L1784.4 346L1785.9 345.9L1787.4 345.8L1788.9 345.7L1790.4 345.6L1791.9 345.5L1793.4 345.4L1794.9 345.3L1796.4 345.2L1797.9 345.1L1799.4 345L1800.9 344.9L1802.4 344.8L1803.9 344.7L1805.4 344.6L1806.9 344.5L1808.4 344.4L1809.9 344.2L1811.4 344.1L1812.9 344L1814.4 343.9L1815.9 343.7L1817.4 343.6L1818.9 343.5L1820.4 343.4L1821.9 343.3L1823.4 343.2L1824.9 343.1L1826.4 343L1827.9 342.9L1829.4 342.8L1830.9 342.7L1832.4 342.7L1833.9 342.6L1835.4 342.6L1836.9 342.5L1838.4 342.5L1839.9 342.5L1841.4 342.5L1842.9 342.6L1844.4 342.7L1845.9 342.8L1847.4 342.9L1848.9 343.1L1850.4 343.3L1851.9 343.5L1853.4 343.7L1854.9 344L1856.4 344.3L1857.9 344.8L1859.4 345.4L1860.9 346.1L1862.4 346.9L1863.9 347.8L1865.4 348.7L1866.9 349.8L1868.4 350.9L1869.9 352.3L1871.4 353.9L1873 355.7L1874.5 357.8L1876 360L1877.5 362.4L1879 364.8L1880.5 367.4L1882 370.1L1883.5 372.7L1885 375.4L1886.5 378.4L1888 381.5L1889.5 384.7L1891 388.2L1892.5 391.8L1894 395.5L1895.5 399.4L1897 403.4L1898.5 407.5L1900 411.7L1901.5 416L1903 420.5L1904.5 425.2L1906 430.1L1907.5 435.3L1909 440.7L1910.5 446.5L1912 452.5L1913.5 459.6L1915 467.8L1916.5 476.6L1918 485.1L1919.5 492.7L1921 499.3L1922.5 506.3L1924 512.6L1925.5 516.7L1927 517.6L1928.5 516.4L1930 514.1L1931.5 511.1L1933 508.1L1934.5 504.7L1936 500.5L1937.5 495.8L1939 490.9L1940.5 485.9L1942 480.7L1943.5 475.2L1945 469.5L1946.5 463.6L1948 457.5L1949.5 451.4L1951 445.3L1952.5 439.3L1954 433.3L1955.5 427.2L1957 420.9L1958.5 414.5L1960 408.1L1961.5 401.7L1963 395.5L1964.5 389.6L1966 384.1L1967.5 379L1969 374.3L1970.5 369.6L1972 365L1973.5 360.5L1975 356.2L1976.5 352.1L1978 348.2L1979.5 344.7L1981 341.6L1982.5 338.8L1984 336.5L1985.5 334.5L1987 332.7L1988.5 331L1990 329.4L1991.5 327.9L1993 326.5L1994.5 325.2L1996 323.9L1997.5 322.7L1999 321.6L2000.5 320.5L2002 319.4L2003.5 318.3L2005 317.3L2006.5 316.2L2008 315.1L2009.5 314L2011 313L2012.5 312L2014 311L2015.5 310L2017 309L2018.5 308.1L2020 307.2L2021.5 306.4L2023 305.6L2024.5 304.8L2026 304" class="cc" stroke="#7a4a32"/>
<path d="M482 316L483.5 316.3L485 316.7L486.5 317L488 317.4L489.5 317.7L491 318.1L492.5 318.5L494 318.9L495.5 319.3L497 319.7L498.5 320.2L500 320.6L501.5 321L503 321.5L504.5 321.9L506 322.4L507.5 322.9L509 323.3L510.5 323.8L512 324.3L513.5 324.8L515 325.3L516.5 325.8L518 326.3L519.5 326.8L521 327.3L522.5 327.8L524 328.3L525.5 328.8L527 329.3L528.5 329.8L530 330.3L531.5 330.8L533 331.3L534.5 331.9L536 332.5L537.5 333.1L539 333.8L540.5 334.5L542 335.3L543.5 336.1L545 337L546.5 338L548 339.2L549.5 340.6L551 342.3L552.5 344.1L554 346.2L555.5 348.4L557 350.8L558.5 353.3L560 355.9L561.5 358.5L563 361.2L564.5 364.1L566 367.1L567.5 370.4L569 373.8L570.5 377.6L572 381.5L573.5 385.8L575 390.4L576.5 395.4L578 401.1L579.5 408.4L581 417.4L582.5 428.4L584 440.9L585.5 454.5L587 468.6L588.5 482.8L590 496.5L591.5 509.3L593 521L594.5 532.4L596 543.6L597.5 554.4L599 564.9L600.5 574.9L602 584.8L603.5 594.5L605 603.9L606.5 613L608 621.7L609.5 629.7L611 637.1L612.5 644.2L614 650.9L615.5 657.3L617 663.3L618.5 668.8L620 673.7L621.5 678.2L623 682.9L624.5 687.1L626 689.8L627.5 690.3L629 689.1L630.5 686.7L632 683.6L633.5 679.8L635 675.9L636.6 670.5L638.1 663.1L639.6 654.6L641.1 645.7L642.6 637.3L644.1 629.9L645.6 622.9L647.1 616.1L648.6 609.1L650.1 601.7L651.6 593.6L653.1 584.6L654.6 574.8L656.1 564.5L657.6 554L659.1 542.9L660.6 530.9L662.1 518.8L663.6 507.1L665.1 496.4L666.6 487.3L668.1 478.7L669.6 470.5L671.1 462.9L672.6 455.7L674.1 449.1L675.6 443.1L677.1 437.5L678.6 432.2L680.1 427L681.6 422.2L683.1 417.6L684.6 413.3L686.1 409.3L687.6 405.7L689.1 402.4L690.6 399.5L692.1 396.9L693.6 394.4L695.1 392L696.6 389.8L698.1 387.7L699.6 385.8L701.1 383.9L702.6 382.2L704.1 380.5L705.6 378.9L707.1 377.4L708.6 375.9L710.1 374.5L711.6 373.2L713.1 372.1L714.6 371.2L716.1 370.5L717.6 369.8L719.1 369.2L720.6 368.6L722.1 368.1L723.6 367.6L725.1 367.2L726.6 366.8L728.1 366.6L729.6 366.5L731.1 366.5L732.6 366.5L734.1 366.6L735.6 366.7L737.1 366.8L738.6 366.9L740.1 367.1L741.6 367.2L743.1 367.4L744.6 367.6L746.1 367.8L747.6 368L749.1 368.2L750.6 368.4L752.1 368.6L753.6 368.8L755.1 369L756.6 369.2L758.1 369.3L759.6 369.5L761.1 369.6L762.6 369.7L764.1 369.8L765.6 369.9L767.1 370L768.6 370.1L770.1 370.2L771.6 370.3L773.1 370.4L774.6 370.5L776.1 370.6L777.6 370.6L779.1 370.7L780.6 370.8L782.1 370.9L783.6 371L785.1 371.1L786.6 371.2L788.1 371.3L789.6 371.4L791.1 371.6L792.6 371.7L794.1 371.8L795.6 372L797.1 372.2L798.6 372.4L800.1 372.6L801.6 372.8L803.1 373.1L804.6 373.5L806.1 374L807.6 374.6L809.1 375.2L810.6 376L812.1 376.8L813.6 377.7L815.1 378.7L816.6 379.7L818.1 380.9L819.6 382L821.1 383.3L822.6 384.6L824.1 385.9L825.6 387.3L827.1 388.9L828.6 390.9L830.1 393.2L831.6 395.8L833.1 398.7L834.6 401.9L836.1 405.2L837.6 408.8L839.1 412.5L840.6 416.3L842.1 420.2L843.6 424.4L845.1 429.1L846.6 434.2L848.1 439.7L849.6 445.5L851.1 451.3L852.6 457.3L854.1 463.2L855.6 469.2L857.1 475.5L858.6 481.9L860.1 488.5L861.6 495.1L863.1 501.7L864.6 508.3L866.1 514.8L867.6 521.6L869.1 528.4L870.6 535.3L872.1 542.1L873.6 548.9L875.1 555.4L876.6 561.6L878.1 567.4L879.6 573L881.1 578.5L882.6 583.6L884.1 587.9L885.6 591.4L887.1 594.7L888.6 597.2L890.1 598L891.6 596.8L893.1 594.2L894.6 590.9L896.1 586.3L897.6 579.1L899.1 571.2L900.6 563.9L902.1 556.4L903.6 548.8L905.1 541L906.6 533.3L908.1 525.6L909.6 518.2L911.1 511.1L912.6 504.1L914.1 497.2L915.6 490.3L917.1 483.6L918.6 477.1L920.1 471L921.6 465.2L923.1 460L924.6 455L926.1 450.2L927.6 445.7L929.1 441.4L930.6 437.3L932.1 433.5L933.6 430L935.1 426.8L936.6 423.7L938.1 420.6L939.6 417.6L941.1 414.8L942.6 412.2L944.1 409.8L945.7 407.7L947.2 405.8L948.7 404.3L950.2 403L951.7 401.8L953.2 400.7L954.7 399.6L956.2 398.6L957.7 397.7L959.2 396.7L960.7 395.9L962.2 395.1L963.7 394.4L965.2 393.7L966.7 393.1L968.2 392.5L969.7 392L971.2 391.5L972.7 391.1L974.2 390.7L975.7 390.3L977.2 390L978.7 389.7L980.2 389.4L981.7 389.1L983.2 388.9L984.7 388.6L986.2 388.4L987.7 388.1L989.2 387.9L990.7 387.7L992.2 387.5L993.7 387.3L995.2 387.1L996.7 387L998.2 386.8L999.7 386.6L1001.2 386.5L1002.7 386.3L1004.2 386.1L1005.7 386L1007.2 385.8L1008.7 385.7L1010.2 385.5L1011.7 385.4L1013.2 385.2L1014.7 385.1L1016.2 384.9L1017.7 384.8L1019.2 384.6L1020.7 384.5L1022.2 384.3L1023.7 384.2L1025.2 384L1026.7 383.9L1028.2 383.7L1029.7 383.6L1031.2 383.5L1032.7 383.3L1034.2 383.2L1035.7 383.1L1037.2 383L1038.7 382.9L1040.2 382.7L1041.7 382.6L1043.2 382.6L1044.7 382.5L1046.2 382.4L1047.7 382.3L1049.2 382.2L1050.7 382.2L1052.2 382.1L1053.7 382.1L1055.2 382L1056.7 382L1058.2 382L1059.7 382L1061.2 382L1062.7 382.2L1064.2 382.5L1065.7 382.9L1067.2 383.4L1068.7 384L1070.2 384.7L1071.7 385.5L1073.2 386.3L1074.7 387.1L1076.2 388L1077.7 388.8L1079.2 389.7L1080.7 390.7L1082.2 391.8L1083.7 393.1L1085.2 394.5L1086.7 396L1088.2 397.7L1089.7 399.4L1091.2 401.2L1092.7 403.1L1094.2 405.1L1095.7 407.1L1097.2 409.1L1098.7 411.1L1100.2 413.2L1101.7 415.5L1103.2 417.8L1104.7 420.2L1106.2 422.8L1107.7 425.4L1109.2 428.1L1110.7 430.9L1112.2 433.8L1113.7 436.8L1115.2 439.9L1116.7 443L1118.2 446.2L1119.7 449.6L1121.2 453.3L1122.7 457.1L1124.2 461L1125.7 465.1L1127.2 469.3L1128.7 473.6L1130.2 478L1131.7 482.3L1133.2 486.7L1134.7 491L1136.2 495.2L1137.7 499.4L1139.2 503.9L1140.7 508.5L1142.2 512.7L1143.7 516.4L1145.2 519.6L1146.7 522.8L1148.2 524.7L1149.7 524.5L1151.2 522.4L1152.7 519.5L1154.2 516.6L1155.7 513.7L1157.2 510.6L1158.7 507.3L1160.2 503.9L1161.7 500.4L1163.2 496.8L1164.7 493.1L1166.2 489.3L1167.7 485.4L1169.2 481.5L1170.7 477.6L1172.2 473.8L1173.7 470L1175.2 466.4L1176.7 462.8L1178.2 459.2L1179.7 455.5L1181.2 451.9L1182.7 448.3L1184.2 444.7L1185.7 441.3L1187.2 438L1188.7 434.9L1190.2 432L1191.7 429.4L1193.2 426.9L1194.7 424.5L1196.2 422.3L1197.7 420.2L1199.2 418.1L1200.7 416.1L1202.2 414.1L1203.7 412.2L1205.2 410.3L1206.7 408.3L1208.2 406.1L1209.7 403.9L1211.2 401.8L1212.7 399.9L1214.2 398.2L1215.7 396.9L1217.2 395.9L1218.7 395.5L1220.2 395.1L1221.7 394.8L1223.2 394.5L1224.7 394.2L1226.2 394L1227.7 393.7L1229.2 393.5L1230.7 393.3L1232.2 393L1233.7 392.9L1235.2 392.7L1236.7 392.5L1238.2 392.4L1239.7 392.2L1241.2 392.1L1242.7 392L1244.2 391.9L1245.7 391.9L1247.2 391.8L1248.7 391.8L1250.2 391.7L1251.7 391.7L1253.2 391.7L1254.8 391.7L1256.3 391.8L1257.8 391.8L1259.3 391.9L1260.8 392L1262.3 392.2L1263.8 392.3L1265.3 392.5L1266.8 392.7L1268.3 392.9L1269.8 393.1L1271.3 393.4L1272.8 393.6L1274.3 393.9L1275.8 394.2L1277.3 394.5L1278.8 394.8L1280.3 395.2L1281.8 395.5L1283.3 396L1284.8 396.6L1286.3 397.3L1287.8 398.3L1289.3 399.3L1290.8 400.5L1292.3 401.8L1293.8 403.2L1295.3 404.7L1296.8 406.2L1298.3 407.8L1299.8 409.4L1301.3 411.1L1302.8 412.8L1304.3 414.8L1305.8 416.9L1307.3 419.1L1308.8 421.6L1310.3 424.1L1311.8 426.9L1313.3 429.8L1314.8 432.8L1316.3 436L1317.8 439.4L1319.3 442.8L1320.8 446.5L1322.3 450.7L1323.8 455.7L1325.3 461.3L1326.8 467.2L1328.3 473.2L1329.8 479.1L1331.3 484.9L1332.8 490.2L1334.3 494.8L1335.8 499.2L1337.3 503.4L1338.8 507.3L1340.3 510.6L1341.8 513.4L1343.3 516.3L1344.8 518.8L1346.3 520.5L1347.8 521L1349.3 520.3L1350.8 518.9L1352.3 517.1L1353.8 515.3L1355.3 513.4L1356.8 511.2L1358.3 508.8L1359.8 506.1L1361.3 503.1L1362.8 499.5L1364.3 495.4L1365.8 490.8L1367.3 485.8L1368.8 480.6L1370.3 475.3L1371.8 470.1L1373.3 465L1374.8 460.1L1376.3 455.7L1377.8 451.6L1379.3 447.4L1380.8 443.3L1382.3 439.3L1383.8 435.4L1385.3 431.6L1386.8 428L1388.3 424.5L1389.8 421.2L1391.3 418.2L1392.8 415.3L1394.3 412.4L1395.8 409.6L1397.3 406.8L1398.8 404.1L1400.3 401.6L1401.8 399.3L1403.3 397.3L1404.8 395.6L1406.3 394.3L1407.8 393.4L1409.3 392.7L1410.8 392L1412.3 391.3L1413.8 390.6L1415.3 390L1416.8 389.4L1418.3 388.8L1419.8 388.3L1421.3 387.8L1422.8 387.3L1424.3 386.9L1425.8 386.5L1427.3 386.1L1428.8 385.8L1430.3 385.5L1431.8 385.2L1433.3 385L1434.8 384.9L1436.3 384.7L1437.8 384.6L1439.3 384.6L1440.8 384.6L1442.3 384.6L1443.8 384.6L1445.3 384.6L1446.8 384.6L1448.3 384.6L1449.8 384.6L1451.3 384.6L1452.8 384.7L1454.3 384.7L1455.8 384.7L1457.3 384.7L1458.8 384.7L1460.3 384.8L1461.8 384.8L1463.3 384.8L1464.8 384.8L1466.3 384.9L1467.8 384.9L1469.3 384.9L1470.8 385L1472.3 385L1473.8 385L1475.3 385.1L1476.8 385.1L1478.3 385.1L1479.8 385.2L1481.3 385.2L1482.8 385.3L1484.3 385.3L1485.8 385.4L1487.3 385.4L1488.8 385.5L1490.3 385.5L1491.8 385.6L1493.3 385.6L1494.8 385.7L1496.3 385.8L1497.8 385.8L1499.3 385.9L1500.8 386L1502.3 386L1503.8 386.1L1505.3 386.2L1506.8 386.2L1508.3 386.3L1509.8 386.4L1511.3 386.5L1512.8 386.7L1514.3 386.8L1515.8 387L1517.3 387.2L1518.8 387.5L1520.3 387.7L1521.8 388L1523.3 388.4L1524.8 388.7L1526.3 389.1L1527.8 389.4L1529.3 389.9L1530.8 390.3L1532.3 390.8L1533.8 391.3L1535.3 391.8L1536.8 392.3L1538.3 392.9L1539.8 393.6L1541.3 394.5L1542.8 395.7L1544.3 397.1L1545.8 398.6L1547.3 400.4L1548.8 402.4L1550.3 404.4L1551.8 406.7L1553.3 409L1554.8 411.5L1556.3 414L1557.8 416.6L1559.3 419.2L1560.8 422.2L1562.3 425.6L1563.9 429.3L1565.4 433.3L1566.9 437.6L1568.4 442.2L1569.9 446.9L1571.4 451.8L1572.9 456.9L1574.4 462.3L1575.9 468.4L1577.4 474.8L1578.9 481.5L1580.4 488.4L1581.9 495.2L1583.4 502L1584.9 508.5L1586.4 515.2L1587.9 522.1L1589.4 529.1L1590.9 536L1592.4 542.6L1593.9 548.8L1595.4 554.5L1596.9 559.5L1598.4 564.2L1599.9 568.5L1601.4 572.5L1602.9 575.9L1604.4 578.6L1605.9 581.1L1607.4 583.4L1608.9 584.9L1610.4 585.3L1611.9 584.3L1613.4 582.5L1614.9 580L1616.4 577.3L1617.9 573.3L1619.4 568.1L1620.9 562.3L1622.4 556.6L1623.9 550.7L1625.4 544.3L1626.9 537.7L1628.4 531L1629.9 524.3L1631.4 517.7L1632.9 511.4L1634.4 505.6L1635.9 500L1637.4 494.5L1638.9 489.2L1640.4 483.9L1641.9 478.8L1643.4 473.8L1644.9 468.9L1646.4 464.1L1647.9 459.4L1649.4 454.9L1650.9 450.3L1652.4 445.7L1653.9 441.2L1655.4 436.7L1656.9 432.4L1658.4 428.2L1659.9 424.2L1661.4 420.4L1662.9 416.9L1664.4 413.7L1665.9 410.7L1667.4 407.8L1668.9 404.9L1670.4 402.1L1671.9 399.4L1673.4 396.8L1674.9 394.2L1676.4 391.8L1677.9 389.6L1679.4 387.4L1680.9 385.5L1682.4 383.6L1683.9 382L1685.4 380.5L1686.9 379.3L1688.4 378.1L1689.9 377L1691.4 375.9L1692.9 374.8L1694.4 373.9L1695.9 372.9L1697.4 372L1698.9 371.2L1700.4 370.4L1701.9 369.6L1703.4 368.9L1704.9 368.3L1706.4 367.7L1707.9 367.2L1709.4 366.7L1710.9 366.3L1712.4 365.9L1713.9 365.6L1715.4 365.2L1716.9 364.9L1718.4 364.6L1719.9 364.3L1721.4 364L1722.9 363.7L1724.4 363.5L1725.9 363.2L1727.4 363L1728.9 362.8L1730.4 362.6L1731.9 362.4L1733.4 362.3L1734.9 362.2L1736.4 362.1L1737.9 362L1739.4 362L1740.9 362L1742.4 362L1743.9 362L1745.4 362L1746.9 362L1748.4 362.1L1749.9 362.1L1751.4 362.1L1752.9 362.2L1754.4 362.2L1755.9 362.2L1757.4 362.3L1758.9 362.3L1760.4 362.4L1761.9 362.5L1763.4 362.5L1764.9 362.6L1766.4 362.7L1767.9 362.8L1769.4 362.8L1770.9 362.9L1772.4 363L1773.9 363.1L1775.4 363.2L1776.9 363.5L1778.4 364.1L1779.9 364.8L1781.4 365.7L1782.9 366.8L1784.4 368L1785.9 369.4L1787.4 370.9L1788.9 372.5L1790.4 374.1L1791.9 375.8L1793.4 377.6L1794.9 379.4L1796.4 381.2L1797.9 382.9L1799.4 384.7L1800.9 386.6L1802.4 388.7L1803.9 390.9L1805.4 393.2L1806.9 395.7L1808.4 398.3L1809.9 401.2L1811.4 404.2L1812.9 407.4L1814.4 410.9L1815.9 414.7L1817.4 419.1L1818.9 424.1L1820.4 429.5L1821.9 435.3L1823.4 441.5L1824.9 448L1826.4 454.7L1827.9 462.3L1829.4 470.8L1830.9 479.9L1832.4 489.5L1833.9 499.2L1835.4 508.9L1836.9 518.4L1838.4 527.4L1839.9 536.5L1841.4 545.6L1842.9 554.7L1844.4 563.8L1845.9 572.8L1847.4 581.7L1848.9 590.5L1850.4 599.3L1851.9 608.5L1853.4 617.6L1854.9 626.7L1856.4 635.4L1857.9 643.7L1859.4 651.2L1860.9 657.8L1862.4 663.7L1863.9 669.1L1865.4 673.6L1866.9 677.4L1868.4 681L1869.9 682.7L1871.4 681.6L1873 679L1874.5 676.1L1876 672.8L1877.5 668.6L1879 663.5L1880.5 656.7L1882 646.7L1883.5 634.5L1885 621.4L1886.5 608.5L1888 596.9L1889.5 587.5L1891 579.2L1892.5 571.5L1894 564.2L1895.5 557.2L1897 550.4L1898.5 543.5L1900 536.4L1901.5 529L1903 521L1904.5 512.3L1906 503.1L1907.5 493.6L1909 484L1910.5 474.6L1912 465.5L1913.5 457.1L1915 449.4L1916.5 441.9L1918 434.5L1919.5 427.3L1921 420.3L1922.5 413.6L1924 407.1L1925.5 401L1927 395.2L1928.5 389.9L1930 384.9L1931.5 380.4L1933 376L1934.5 371.7L1936 367.5L1937.5 363.5L1939 359.6L1940.5 356L1942 352.6L1943.5 349.5L1945 346.7L1946.5 344.3L1948 342.2L1949.5 340.5L1951 339L1952.5 337.6L1954 336.2L1955.5 335L1957 333.9L1958.5 332.8L1960 331.8L1961.5 330.9L1963 330L1964.5 329.1L1966 328.3L1967.5 327.5L1969 326.7L1970.5 325.9L1972 325.1L1973.5 324.3L1975 323.6L1976.5 322.8L1978 322.1L1979.5 321.4L1981 320.7L1982.5 320L1984 319.4L1985.5 318.7L1987 318.1L1988.5 317.5L1990 316.9L1991.5 316.3L1993 315.7L1994.5 315.1L1996 314.5L1997.5 314L1999 313.4L2000.5 312.8L2002 312.2L2003.5 311.7L2005 311.1L2006.5 310.6L2008 310L2009.5 309.5L2011 308.9L2012.5 308.4L2014 307.9L2015.5 307.4L2017 306.9L2018.5 306.4L2020 305.9L2021.5 305.4L2023 304.9L2024.5 304.5L2026 304" class="cc" stroke="#1db04c"/>
<path d="M482 322L483.5 322.1L485 322.4L486.5 322.9L488 323.7L489.5 324.7L491 326L492.5 327.7L494 329.7L495.5 332.2L497 335L498.5 347.1L500 375.6L501.5 386.6L503 392.5L504.5 396.8L506 400.1L507.5 402.9L509 405.7L510.5 409.1L512 413.6L513.5 419.7L515 427.5L516.5 437.2L518 449L519.5 463.6L521 485.4L522.5 512L524 539.2L525.5 567.5L527 600.4L528.5 646L530 696.4L531.5 732.1L533 757.2L534.5 778.1L536 797.7L537.5 818L539 837.1L540.5 856.8L542 880.1L543.5 906.9L545 928.3L546.5 941L548 951L549.5 958.3L551 963.3L552.5 967.6L554 970.4L555.5 970.8L557 968.6L558.5 964.1L560 957.9L561.5 943.6L563 916.8L564.5 875.1L566 841L567.5 812.4L569 793.3L570.5 779.7L572 766.6L573.5 749.6L575 723.1L576.5 690.7L578 660.8L579.5 635.4L581 610.8L582.5 583.6L584 557L585.5 541.4L587 528.4L588.5 511.8L590 490L591.5 468.7L593 453.9L594.5 442.2L596 432.1L597.5 423.5L599 416.3L600.5 410.6L602 405.5L603.5 401L605 397L606.5 393.4L608 390.1L609.5 387.2L611 384.6L612.5 382.2L614 379.9L615.5 377.8L617 375.8L618.5 374L620 372.4L621.5 370.9L623 369.6L624.5 368.3L626 367L627.5 365.7L629 364.5L630.5 363.4L632 362.3L633.5 361.5L635 360.8L636.6 360.3L638.1 360L639.6 360L641.1 359.9L642.6 359.8L644.1 359.8L645.6 359.7L647.1 359.7L648.6 359.7L650.1 359.6L651.6 359.6L653.1 359.5L654.6 359.5L656.1 359.4L657.6 359.4L659.1 359.4L660.6 359.4L662.1 359.3L663.6 359.3L665.1 359.3L666.6 359.2L668.1 359.2L669.6 359.2L671.1 359.2L672.6 359.2L674.1 359.1L675.6 359.1L677.1 359.1L678.6 359.1L680.1 359.1L681.6 359.1L683.1 359.1L684.6 359L686.1 359L687.6 359L689.1 359L690.6 359L692.1 359L693.6 359L695.1 359L696.6 359L698.1 359L699.6 359L701.1 359L702.6 359L704.1 359L705.6 359L707.1 359L708.6 359L710.1 359.1L711.6 359.1L713.1 359.1L714.6 359.1L716.1 359.1L717.6 359.2L719.1 359.2L720.6 359.2L722.1 359.3L723.6 359.3L725.1 359.4L726.6 359.4L728.1 359.4L729.6 359.5L731.1 359.6L732.6 359.7L734.1 359.8L735.6 360L737.1 360.3L738.6 360.6L740.1 360.9L741.6 361.2L743.1 361.5L744.6 361.8L746.1 362.1L747.6 362.4L749.1 362.8L750.6 363.1L752.1 363.5L753.6 363.9L755.1 364.4L756.6 364.9L758.1 365.4L759.6 366L761.1 366.6L762.6 367.4L764.1 368.3L765.6 369.4L767.1 370.5L768.6 371.8L770.1 373.2L771.6 374.6L773.1 376.1L774.6 377.7L776.1 379.5L777.6 381.5L779.1 383.6L780.6 385.8L782.1 388.2L783.6 390.6L785.1 393.2L786.6 395.8L788.1 398.6L789.6 401.5L791.1 404.6L792.6 408L794.1 411.8L795.6 415.8L797.1 420.5L798.6 426L800.1 432.4L801.6 439.5L803.1 447.1L804.6 455.9L806.1 465.9L807.6 477.2L809.1 491.1L810.6 506.8L812.1 521.3L813.6 535.8L815.1 554.7L816.6 579.3L818.1 605.5L819.6 629.3L821.1 651.4L822.6 672.6L824.1 692.4L825.6 711.1L827.1 729.2L828.6 747.2L830.1 765.6L831.6 784.9L833.1 806.2L834.6 831.1L836.1 851.2L837.6 867L839.1 878.7L840.6 879.7L842.1 868.4L843.6 853.4L845.1 840.8L846.6 827.8L848.1 814.3L849.6 800.8L851.1 787.2L852.6 773L854.1 758L855.6 741.8L857.1 724L858.6 703.2L860.1 679L861.6 653.3L863.1 628L864.6 604.2L866.1 580.5L867.6 557.1L869.1 534L870.6 510.5L872.1 490.4L873.6 472.6L875.1 460.9L876.6 454.5L878.1 449.8L879.6 446L881.1 442.5L882.6 438.8L884.1 434.4L885.6 429.6L887.1 424.8L888.6 420.1L890.1 415.7L891.6 411.9L893.1 408.2L894.6 404.7L896.1 401.4L897.6 398.6L899.1 396.4L900.6 394.9L902.1 393.6L903.6 392.4L905.1 391.3L906.6 390.4L908.1 389.5L909.6 388.7L911.1 388L912.6 387.3L914.1 386.7L915.6 386.1L917.1 385.5L918.6 385L920.1 384.4L921.6 383.9L923.1 383.4L924.6 382.9L926.1 382.4L927.6 381.9L929.1 381.5L930.6 381.1L932.1 380.7L933.6 380.4L935.1 380.1L936.6 379.8L938.1 379.6L939.6 379.4L941.1 379.3L942.6 379.2L944.1 379.1L945.7 378.9L947.2 378.8L948.7 378.7L950.2 378.6L951.7 378.5L953.2 378.5L954.7 378.4L956.2 378.3L957.7 378.2L959.2 378.1L960.7 378L962.2 378L963.7 377.9L965.2 377.8L966.7 377.7L968.2 377.7L969.7 377.6L971.2 377.6L972.7 377.5L974.2 377.5L975.7 377.4L977.2 377.4L978.7 377.3L980.2 377.3L981.7 377.2L983.2 377.2L984.7 377.2L986.2 377.1L987.7 377.1L989.2 377.1L990.7 377.1L992.2 377L993.7 377L995.2 377L996.7 377L998.2 377L999.7 377L1001.2 377L1002.7 377L1004.2 377L1005.7 377L1007.2 377L1008.7 377L1010.2 377.1L1011.7 377.1L1013.2 377.1L1014.7 377.1L1016.2 377.1L1017.7 377.2L1019.2 377.2L1020.7 377.2L1022.2 377.3L1023.7 377.3L1025.2 377.3L1026.7 377.4L1028.2 377.4L1029.7 377.5L1031.2 377.5L1032.7 377.6L1034.2 377.6L1035.7 377.7L1037.2 377.7L1038.7 377.8L1040.2 377.9L1041.7 377.9L1043.2 378L1044.7 378.1L1046.2 378.2L1047.7 378.2L1049.2 378.3L1050.7 378.4L1052.2 378.5L1053.7 378.6L1055.2 378.7L1056.7 378.8L1058.2 378.9L1059.7 379L1061.2 379.1L1062.7 379.3L1064.2 379.6L1065.7 379.9L1067.2 380.3L1068.7 380.8L1070.2 381.3L1071.7 381.9L1073.2 382.5L1074.7 383.2L1076.2 384L1077.7 384.7L1079.2 385.5L1080.7 386.4L1082.2 387.4L1083.7 388.6L1085.2 389.9L1086.7 391.5L1088.2 393.3L1089.7 395.3L1091.2 397.5L1092.7 400.1L1094.2 402.9L1095.7 406L1097.2 409.5L1098.7 413.3L1100.2 419.3L1101.7 428.4L1103.2 439.5L1104.7 451.8L1106.2 464.2L1107.7 477.2L1109.2 491.8L1110.7 507.4L1112.2 523.4L1113.7 539L1115.2 554.5L1116.7 570.8L1118.2 586.9L1119.7 602.2L1121.2 615.6L1122.7 627.4L1124.2 639.4L1125.7 647.8L1127.2 649.2L1128.7 646.7L1130.2 642.2L1131.7 636.2L1133.2 629.4L1134.7 619.9L1136.2 605.9L1137.7 589.5L1139.2 572.6L1140.7 553.5L1142.2 533L1143.7 514L1145.2 494.1L1146.7 474.3L1148.2 456.4L1149.7 442.3L1151.2 433.5L1152.7 427.3L1154.2 422.4L1155.7 418.5L1157.2 415.3L1158.7 412.4L1160.2 409.7L1161.7 407.2L1163.2 404.9L1164.7 402.8L1166.2 401L1167.7 399.3L1169.2 397.8L1170.7 396.5L1172.2 395.5L1173.7 394.5L1175.2 393.5L1176.7 392.6L1178.2 391.7L1179.7 390.8L1181.2 390L1182.7 389.3L1184.2 388.6L1185.7 387.9L1187.2 387.4L1188.7 386.9L1190.2 386.5L1191.7 386.3L1193.2 386.1L1194.7 386L1196.2 386L1197.7 386L1199.2 386L1200.7 386L1202.2 386L1203.7 386L1205.2 386L1206.7 386L1208.2 386L1209.7 386L1211.2 386L1212.7 386L1214.2 386L1215.7 386L1217.2 386L1218.7 386L1220.2 386L1221.7 386L1223.2 386L1224.7 386L1226.2 386L1227.7 386L1229.2 386L1230.7 386L1232.2 386L1233.7 386L1235.2 386L1236.7 386L1238.2 386L1239.7 386L1241.2 386L1242.7 386L1244.2 386L1245.7 386L1247.2 386L1248.7 386L1250.2 386L1251.7 386L1253.2 386L1254.8 386L1256.3 386L1257.8 386L1259.3 386L1260.8 386L1262.3 386L1263.8 386L1265.3 386L1266.8 386L1268.3 386L1269.8 386L1271.3 386L1272.8 386L1274.3 386.2L1275.8 386.5L1277.3 386.9L1278.8 387.5L1280.3 388.1L1281.8 388.8L1283.3 389.6L1284.8 390.5L1286.3 391.4L1287.8 392.3L1289.3 393.3L1290.8 394.2L1292.3 395.2L1293.8 396.1L1295.3 397L1296.8 398L1298.3 399L1299.8 400.2L1301.3 401.4L1302.8 402.9L1304.3 404.5L1305.8 406.3L1307.3 408.3L1308.8 410.6L1310.3 413.9L1311.8 419.2L1313.3 425.8L1314.8 433.1L1316.3 440.5L1317.8 447.3L1319.3 453.8L1320.8 460.9L1322.3 469L1323.8 479.1L1325.3 493.8L1326.8 518.9L1328.3 546.9L1329.8 568.8L1331.3 581.7L1332.8 592.4L1334.3 601.6L1335.8 609.5L1337.3 616.6L1338.8 623.5L1340.3 630.6L1341.8 637.4L1343.3 642.8L1344.8 646L1346.3 646.2L1347.8 643.6L1349.3 638.8L1350.8 632.3L1352.3 624.8L1353.8 616.4L1355.3 603.3L1356.8 586.5L1358.3 569.1L1359.8 553.6L1361.3 538.1L1362.8 522.7L1364.3 507.6L1365.8 493.2L1367.3 479.7L1368.8 466.1L1370.3 453.2L1371.8 442.4L1373.3 434.9L1374.8 428.6L1376.3 423.2L1377.8 418.7L1379.3 415L1380.8 412.1L1382.3 409.6L1383.8 407.3L1385.3 405.1L1386.8 403.1L1388.3 401.2L1389.8 399.5L1391.3 397.9L1392.8 396.5L1394.3 395.2L1395.8 394L1397.3 393L1398.8 392.1L1400.3 391.3L1401.8 390.6L1403.3 389.9L1404.8 389.2L1406.3 388.5L1407.8 387.8L1409.3 387.2L1410.8 386.5L1412.3 385.9L1413.8 385.4L1415.3 384.8L1416.8 384.3L1418.3 383.8L1419.8 383.3L1421.3 382.8L1422.8 382.4L1424.3 382L1425.8 381.6L1427.3 381.3L1428.8 380.9L1430.3 380.6L1431.8 380.4L1433.3 380.2L1434.8 380L1436.3 379.8L1437.8 379.6L1439.3 379.5L1440.8 379.5L1442.3 379.4L1443.8 379.3L1445.3 379.2L1446.8 379.2L1448.3 379.1L1449.8 379L1451.3 379L1452.8 378.9L1454.3 378.9L1455.8 378.8L1457.3 378.7L1458.8 378.7L1460.3 378.6L1461.8 378.6L1463.3 378.5L1464.8 378.5L1466.3 378.4L1467.8 378.4L1469.3 378.4L1470.8 378.3L1472.3 378.3L1473.8 378.2L1475.3 378.2L1476.8 378.2L1478.3 378.1L1479.8 378.1L1481.3 378.1L1482.8 378L1484.3 378L1485.8 378L1487.3 378L1488.8 377.9L1490.3 377.9L1491.8 377.9L1493.3 377.9L1494.8 377.9L1496.3 377.9L1497.8 377.8L1499.3 377.8L1500.8 377.8L1502.3 377.8L1503.8 377.8L1505.3 377.8L1506.8 377.8L1508.3 377.8L1509.8 377.8L1511.3 377.9L1512.8 378L1514.3 378.2L1515.8 378.3L1517.3 378.6L1518.8 378.8L1520.3 379.1L1521.8 379.4L1523.3 379.7L1524.8 380L1526.3 380.4L1527.8 380.7L1529.3 381.1L1530.8 381.5L1532.3 381.9L1533.8 382.3L1535.3 382.8L1536.8 383.2L1538.3 383.6L1539.8 384L1541.3 384.4L1542.8 384.8L1544.3 385.2L1545.8 385.7L1547.3 386.1L1548.8 386.6L1550.3 387L1551.8 387.5L1553.3 388L1554.8 388.6L1556.3 389.2L1557.8 389.8L1559.3 390.4L1560.8 391.1L1562.3 391.9L1563.9 392.7L1565.4 393.5L1566.9 394.4L1568.4 395.4L1569.9 396.5L1571.4 397.9L1572.9 399.5L1574.4 401.2L1575.9 403.1L1577.4 405.3L1578.9 407.5L1580.4 410L1581.9 413L1583.4 416.5L1584.9 420.5L1586.4 425L1587.9 430L1589.4 436.1L1590.9 443.7L1592.4 452.2L1593.9 461.3L1595.4 471.1L1596.9 481.9L1598.4 493.4L1599.9 505.8L1601.4 519.4L1602.9 534.5L1604.4 550.8L1605.9 568.4L1607.4 588.1L1608.9 608.2L1610.4 628L1611.9 647.9L1613.4 668L1614.9 688L1616.4 708L1617.9 727.9L1619.4 747.9L1620.9 768L1622.4 788L1623.9 807.5L1625.4 826.6L1626.9 849.5L1628.4 870L1629.9 878.4L1631.4 874.4L1632.9 864.5L1634.4 850.7L1635.9 835.2L1637.4 820L1638.9 802.9L1640.4 782.9L1641.9 761.3L1643.4 739.7L1644.9 719.4L1646.4 699.8L1647.9 680.3L1649.4 661.1L1650.9 642.1L1652.4 623.5L1653.9 604.8L1655.4 586L1656.9 567.8L1658.4 551.1L1659.9 536.6L1661.4 524.1L1662.9 512.7L1664.4 501.8L1665.9 490.9L1667.4 479.3L1668.9 467.3L1670.4 455.8L1671.9 445.5L1673.4 437L1674.9 429.6L1676.4 422.9L1677.9 416.8L1679.4 411.3L1680.9 406.7L1682.4 402.7L1683.9 399.1L1685.4 395.8L1686.9 392.7L1688.4 389.9L1689.9 387.3L1691.4 384.8L1692.9 382.5L1694.4 380.4L1695.9 378.2L1697.4 376.1L1698.9 374L1700.4 372L1701.9 370L1703.4 368.1L1704.9 366.4L1706.4 364.8L1707.9 363.4L1709.4 362.3L1710.9 361.3L1712.4 360.6L1713.9 360.1L1715.4 359.6L1716.9 359.1L1718.4 358.7L1719.9 358.3L1721.4 357.9L1722.9 357.6L1724.4 357.3L1725.9 357.1L1727.4 356.8L1728.9 356.6L1730.4 356.4L1731.9 356.2L1733.4 356L1734.9 355.8L1736.4 355.7L1737.9 355.5L1739.4 355.3L1740.9 355.1L1742.4 355L1743.9 354.8L1745.4 354.7L1746.9 354.6L1748.4 354.5L1749.9 354.4L1751.4 354.3L1752.9 354.2L1754.4 354.1L1755.9 354.1L1757.4 354L1758.9 354L1760.4 354L1761.9 354L1763.4 354L1764.9 354L1766.4 354L1767.9 354L1769.4 354L1770.9 354.1L1772.4 354.1L1773.9 354.1L1775.4 354.1L1776.9 354.1L1778.4 354.1L1779.9 354.2L1781.4 354.2L1782.9 354.2L1784.4 354.3L1785.9 354.3L1787.4 354.3L1788.9 354.4L1790.4 354.4L1791.9 354.4L1793.4 354.5L1794.9 354.5L1796.4 354.6L1797.9 354.6L1799.4 354.6L1800.9 354.7L1802.4 354.7L1803.9 354.8L1805.4 354.8L1806.9 354.9L1808.4 355L1809.9 355L1811.4 355.1L1812.9 355.2L1814.4 355.3L1815.9 355.4L1817.4 355.5L1818.9 355.7L1820.4 355.8L1821.9 356L1823.4 356.2L1824.9 356.4L1826.4 356.7L1827.9 356.9L1829.4 357.2L1830.9 357.5L1832.4 357.8L1833.9 358.1L1835.4 358.5L1836.9 358.9L1838.4 359.3L1839.9 359.7L1841.4 360.2L1842.9 360.9L1844.4 361.9L1845.9 363L1847.4 364.2L1848.9 365.6L1850.4 367.2L1851.9 368.8L1853.4 370.5L1854.9 372.4L1856.4 374.3L1857.9 376.4L1859.4 378.9L1860.9 381.6L1862.4 384.8L1863.9 388.3L1865.4 392.2L1866.9 396.5L1868.4 401.4L1869.9 407.8L1871.4 415.6L1873 424.5L1874.5 434.4L1876 445L1877.5 456.1L1879 468.7L1880.5 483L1882 498.8L1883.5 515.9L1885 534.9L1886.5 557.2L1888 580.7L1889.5 603L1891 624.4L1892.5 646.7L1894 671.3L1895.5 699.1L1897 729.9L1898.5 765.8L1900 799.2L1901.5 826.5L1903 851L1904.5 872.8L1906 892.4L1907.5 911L1909 927.6L1910.5 941.1L1912 951.5L1913.5 961.3L1915 970L1916.5 976.4L1918 979.4L1919.5 978.3L1921 973.8L1922.5 966.5L1924 957.2L1925.5 946.7L1927 932.1L1928.5 909.4L1930 881.4L1931.5 851.3L1933 822.3L1934.5 793.3L1936 762.7L1937.5 732.9L1939 706.7L1940.5 680.6L1942 641.9L1943.5 613.6L1945 593L1946.5 573.5L1948 551L1949.5 527.4L1951 505.7L1952.5 487.3L1954 470.1L1955.5 454.4L1957 440.6L1958.5 429.5L1960 420.5L1961.5 412.3L1963 405.1L1964.5 398.6L1966 393.1L1967.5 388.2L1969 384L1970.5 380.2L1972 376.7L1973.5 373.5L1975 370.5L1976.5 367.6L1978 365L1979.5 362.4L1981 359.9L1982.5 357.5L1984 355L1985.5 352.6L1987 350.1L1988.5 347.8L1990 345.5L1991.5 343.2L1993 341L1994.5 338.9L1996 336.8L1997.5 334.7L1999 332.7L2000.5 330.8L2002 328.9L2003.5 327L2005 325.2L2006.5 323.4L2008 321.7L2009.5 320L2011 318.4L2012.5 316.7L2014 315.2L2015.5 313.6L2017 312.1L2018.5 310.6L2020 309.2L2021.5 307.9L2023 306.5L2024.5 305.2L2026 304" class="cr" stroke="#ed1c24"/>
<path d="M554.0 100.5V87.5H1920.3V100.5M840.7 87.5V100.5M1127.0 87.5V100.5M1347.4 87.5V100.5M1633.7 87.5V100.5" stroke="#e8202a" class="st"/>
<path d="M610.4 131.0V119.2H1925.0V131.0M887.0 119.2V131.0M1162.6 119.2V131.0M1373.0 119.2V131.0M1649.0 119.2V131.0" stroke="#7b3f3f" class="st"/>
<path d="M702.2 160.6V148.8H1787.6V160.6M932.9 148.8V160.6M1162.6 148.8V160.6M1337.5 148.8V160.6M1562.2 148.8V160.6" stroke="#3f4fd0" class="st"/>
<path d="M626.3 192.6V180.0H1869.0V192.6M886.3 180.0V192.6M1148.0 180.0V192.6M1346.6 180.0V192.6M1607.6 180.0V192.6" stroke="#21b04b" class="st"/>
<rect x="303.5" y="37.0" width="1827.0" height="1550.0" fill="none" stroke="#000" stroke-width="5"/>
<line x1="508.4" y1="1564.5" x2="508.4" y2="1587" stroke="#000" stroke-width="4.2"/>
<line x1="856.3" y1="1564.5" x2="856.3" y2="1587" stroke="#000" stroke-width="4.2"/>
<line x1="1209.5" y1="1564.5" x2="1209.5" y2="1587" stroke="#000" stroke-width="4.2"/>
<line x1="1562.5" y1="1564.5" x2="1562.5" y2="1587" stroke="#000" stroke-width="4.2"/>
<line x1="1915.8" y1="1564.5" x2="1915.8" y2="1587" stroke="#000" stroke-width="4.2"/>
<line x1="2112" y1="342.3" x2="2130" y2="342.3" stroke="#000" stroke-width="4"/>
<line x1="2112" y1="644.0" x2="2130" y2="644.0" stroke="#000" stroke-width="4"/>
<line x1="2112" y1="950.0" x2="2130" y2="950.0" stroke="#000" stroke-width="4"/>
<line x1="2112" y1="1250.0" x2="2130" y2="1250.0" stroke="#000" stroke-width="4"/>
<text x="509.7" y="1679.0" font-size="63.5" text-anchor="middle">-8.00</text>
<text x="844.6" y="1678.5" font-size="63.5" text-anchor="middle">-4.00</text>
<text x="1209.3" y="1684.3" font-size="63.5" text-anchor="middle">0.00</text>
<text x="1554.8" y="1681.4" font-size="63.5" text-anchor="middle">4.00</text>
<text x="1921.6" y="1679.0" font-size="63.5" text-anchor="middle">8.00</text>
<text x="286.3" y="306.0" font-size="63.5" text-anchor="end">1.00</text>
<text x="288.2" y="628.6" font-size="63.5" text-anchor="end">0.98</text>
<text x="290.7" y="953.6" font-size="63.5" text-anchor="end">0.96</text>
<text x="294.7" y="1273.6" font-size="63.5" text-anchor="end">0.94</text>
<text x="1221.8" y="1795.5" font-size="78.6" text-anchor="middle" textLength="289" lengthAdjust="spacingAndGlyphs">V, mm/s</text>
<text transform="translate(86.3,795.5) rotate(-90)" font-size="77" text-anchor="middle" textLength="733.6" lengthAdjust="spacingAndGlyphs">Relative transmission</text>
</svg></body></html>
